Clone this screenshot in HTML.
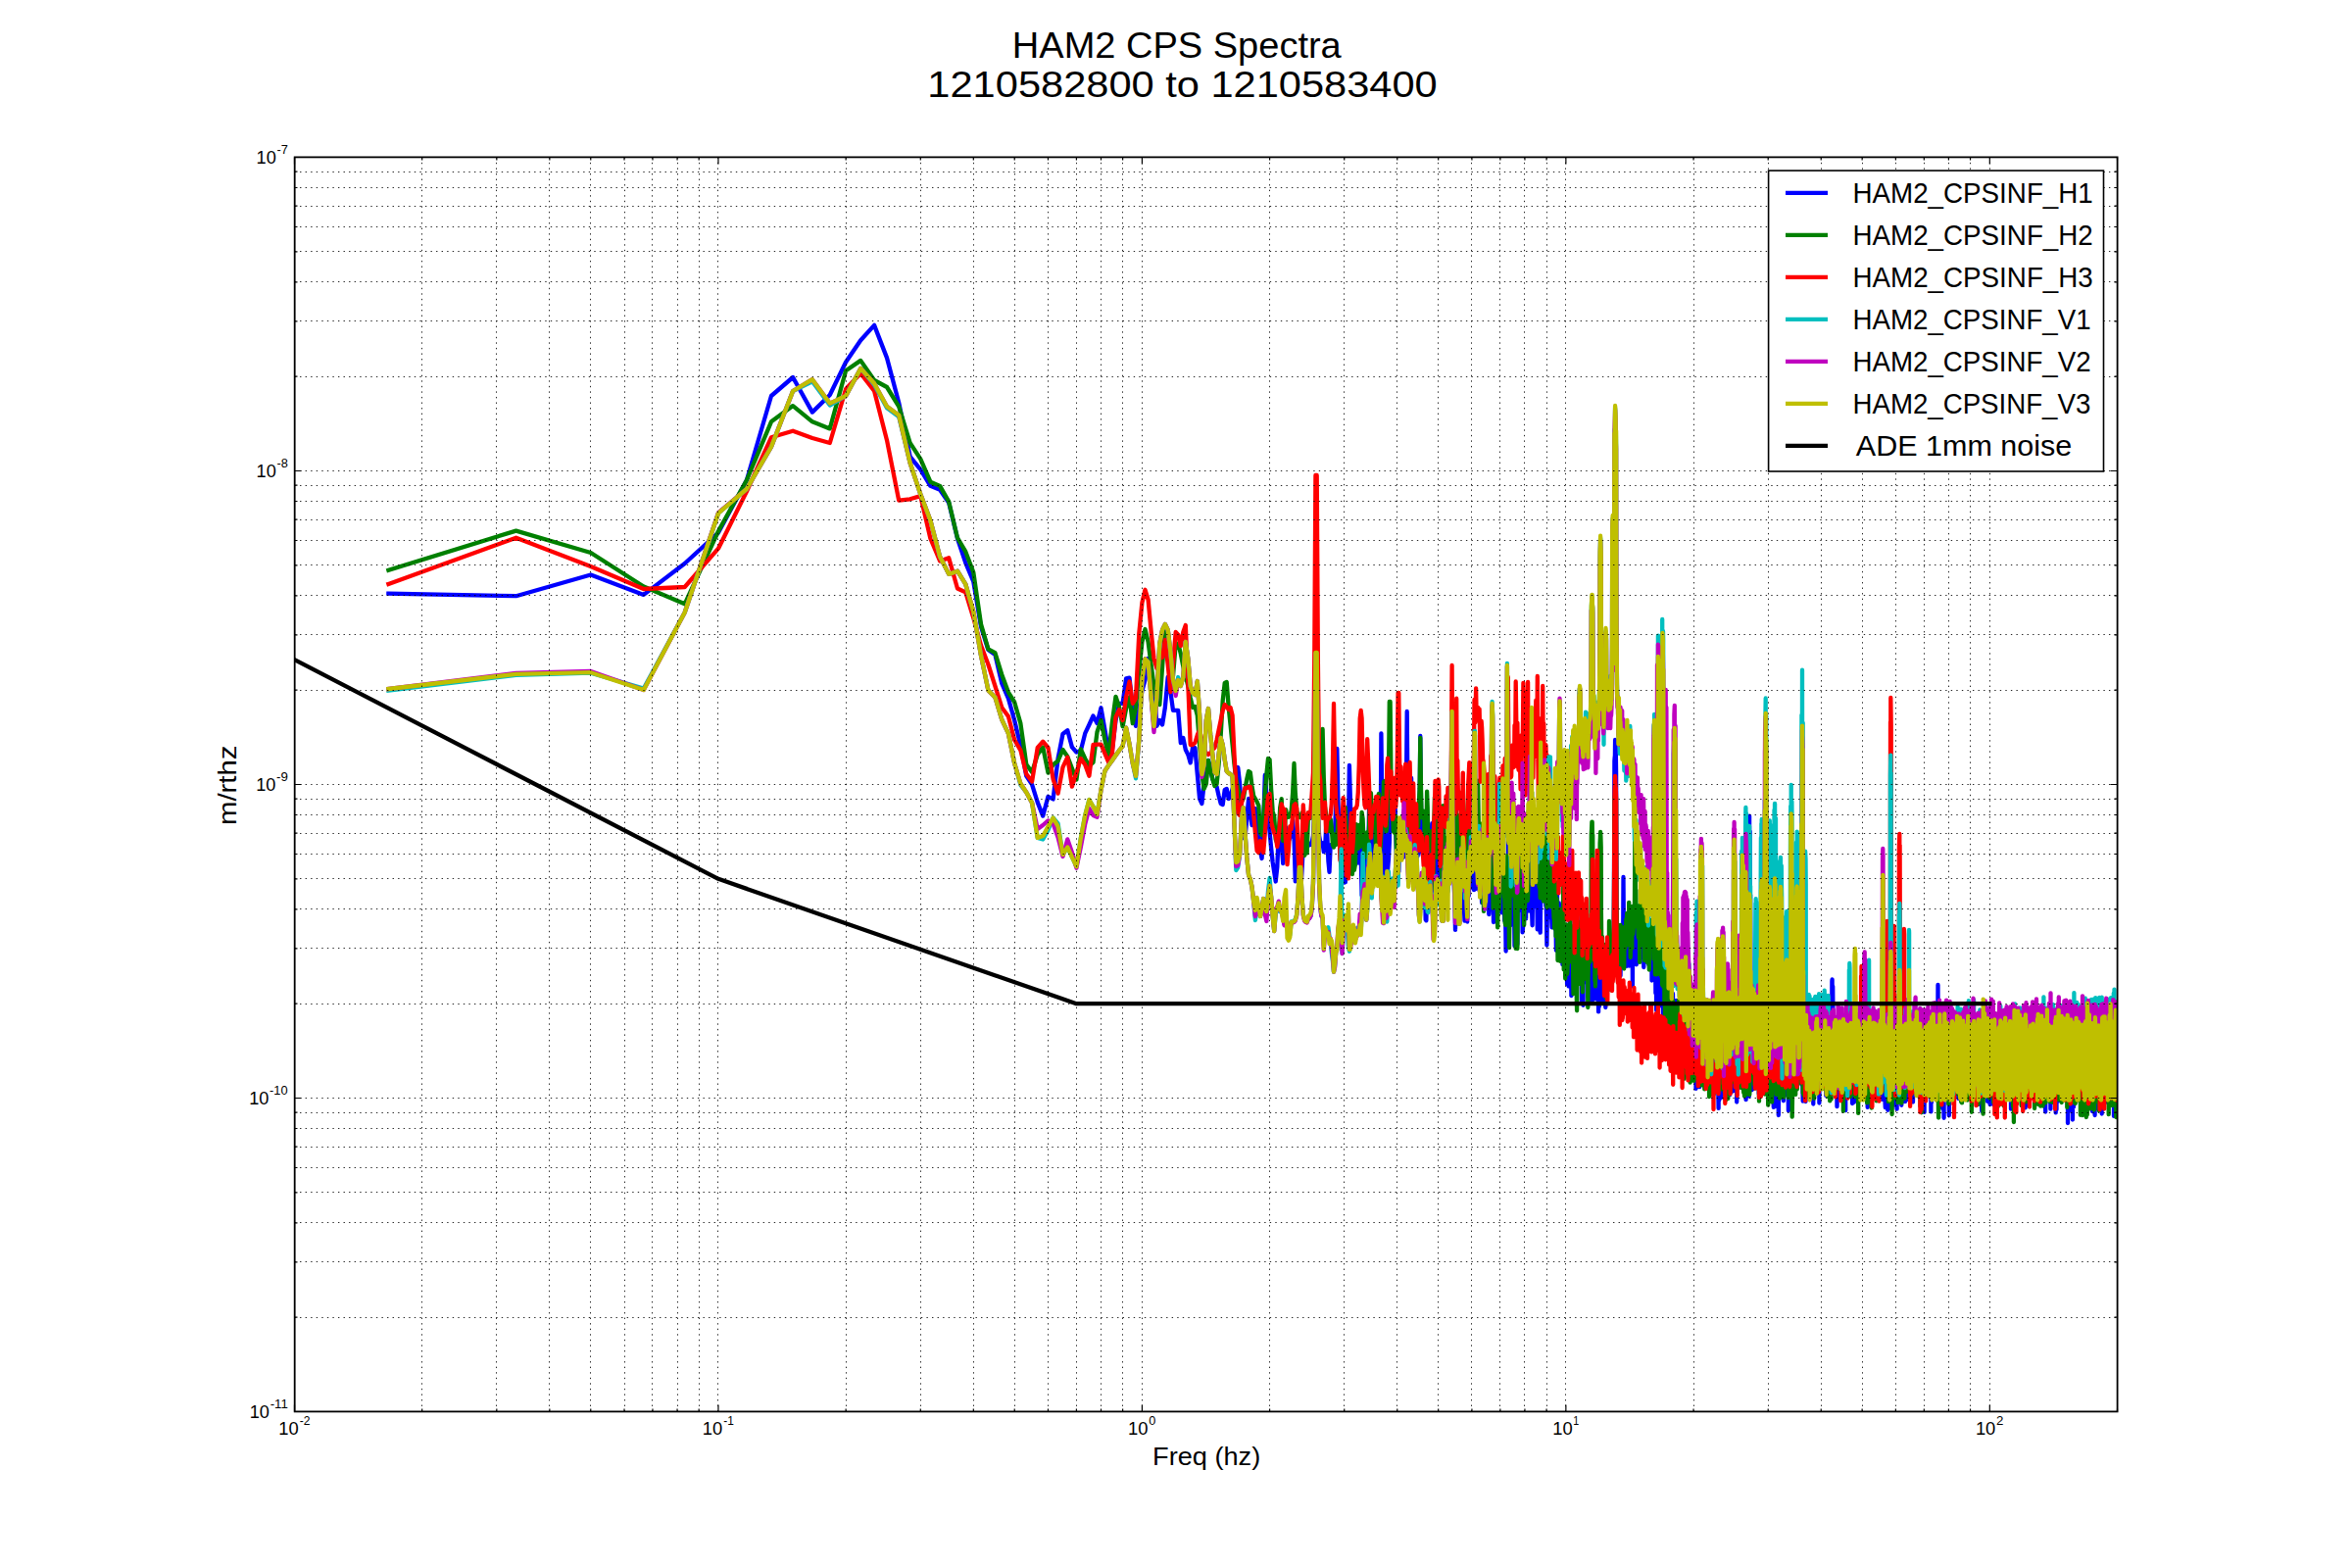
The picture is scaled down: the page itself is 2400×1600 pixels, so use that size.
<!DOCTYPE html>
<html><head><meta charset="utf-8"><title>HAM2 CPS Spectra</title>
<style>html,body{margin:0;padding:0;background:#fff}svg{display:block}text{font-family:"Liberation Sans",sans-serif;fill:#000}</style></head>
<body>
<svg width="2400" height="1600" viewBox="0 0 2400 1600">
<rect width="2400" height="1600" fill="#fff"/>
<defs><clipPath id="ax"><rect x="300.5" y="160.5" width="1860" height="1280"/></clipPath></defs>
<g clip-path="url(#ax)" fill="none" stroke-width="4.3" stroke-linejoin="round" stroke-linecap="square">
<path stroke="#0000ff" d="M396.4 605.6L526.6 608.2L602.8 586.5L656.8 606.9L698.7 575L733 543.6L761.9 490L787 404L809.1 385L828.9 420.6L846.8 403L863.1 369.5L878.2 347.2L892.1 331.9L905 365.1L917.2 411L928.6 465.8L939.3 479.2L949.4 495.8L959.1 499.7L968.2 513L977 549.5L985.3 574.4L993.3 593.5L1001 639.4L1008.4 663L1015.4 668L1022.3 697.4L1028.9 712.7L1035.2 735L1041.4 761L1047.3 791.8L1053.1 800.7L1058.7 818.6L1064.2 832.6L1069.5 812.8L1074.6 815.4L1079.6 774L1084.5 749L1089.3 745.2L1093.9 762.4L1098.4 767.5L1102.8 766L1107.2 748.4L1111.4 739.5L1115.5 730.5L1119.5 738L1123.5 722.3L1127.4 744.6L1131.2 767.5L1134.9 765L1138.5 735L1142.1 717.8L1145.6 717.8L1149.1 692.3L1152.5 691.6L1155.8 722L1159 740.8L1162.3 725L1165.4 705L1168.5 693.6L1171.6 672L1174.6 690L1177.5 697.4L1180.4 740.8L1183.3 735L1186.1 739.5L1188.9 721.6L1191.7 691L1194.4 706L1197 724.8L1199.7 724.8L1202.2 724.8L1204.8 758L1207.3 752.9L1209.8 765L1212.3 770L1214.7 778.4L1217.1 762.4L1219.4 763L1221.8 790L1224.1 815L1226.4 820L1228.6 800L1230.8 780L1233 776L1235.2 785L1237.3 795L1239.5 800L1241.6 803L1243.6 812L1245.7 820L1247.7 821L1249.7 806L1251.7 805L1253.7 815L1255.6 812L1257.6 805L1259.5 798L1261.3 790L1263.2 783L1265.1 800L1266.9 830L1268.7 855L1270.5 855L1272.3 835L1274.1 815L1275.8 830L1277.5 842L1279.2 835L1280.9 825L1282.6 840L1284.3 855L1286 868L1287.6 876L1289.2 840L1290.8 791L1292.4 810L1294 835L1295.6 849L1297.1 865L1298.7 880L1300.2 890L1301.7 899.5L1303.3 884.8L1304.8 847.6L1306.2 843.1L1307.7 861.5L1309.2 881L1310.6 854.9L1312.1 844.3L1313.5 854.6L1314.9 858.3L1316.3 854.7L1317.7 853.1L1319.1 836.8L1320.5 853.9L1321.8 899.4L1323.2 889.4L1324.5 889.7L1325.9 874.8L1327.2 910.7L1328.5 888.8L1329.8 862.2L1331.1 834.4L1332.4 839.9L1333.7 856.6L1335 862.6L1336.2 862.4L1337.5 861.8L1338.7 859.7L1340 852.8L1341.2 830L1342.4 790L1343.7 790L1344.9 830L1346.1 852.8L1347.3 859.7L1348.4 861.8L1349.6 860.4L1350.8 869.2L1352 867.7L1353.1 845.3L1354.3 850.9L1355.4 878.5L1356.5 889.9L1357.7 862.2L1358.8 861.9L1359.9 861.1L1361 858.3L1362.1 849L1363.2 818.1L1364.3 764L1365.4 818.1L1366.5 849L1367.5 858.3L1368.6 855.8L1369.6 861.9L1370.7 884.4L1371.7 900.6L1372.8 900.3L1373.8 879.1L1374.8 847.4L1375.9 850.8L1376.9 781L1377.9 816.6L1378.9 858.6L1379.9 885.8L1380.9 863.1L1381.9 873.2L1382.9 859L1383.9 842.9L1384.8 854.1L1385.8 880.5L1386.8 876.7L1387.7 860.8L1388.7 870.5L1389.6 913.8L1390.6 904.6L1391.5 890.4L1392.5 867.5L1393.4 853.8L1394.3 890.7L1395.2 914.7L1396.2 880.3L1397.1 821.3L1398 837.4L1398.9 893L1399.8 913.6L1400.7 878.3L1401.6 848.1L1402.5 822.1L1403.4 844.1L1404.2 859L1405.1 846.2L1406 846.9L1406.9 865.8L1407.7 884.4L1408.6 882.4L1409.4 748.3L1410.3 823.7L1411.1 909.4L1412 909.1L1412.8 851.8L1413.7 826L1414.5 867.2L1415.3 880.5L1416.1 887.3L1417 875.7L1417.8 859.7L1418.6 801.8L1419.4 793.6L1420.2 835.4L1421 806.6L1421.8 820.4L1422.6 817.4L1423.4 813.9L1424.2 843.9L1425 872.4L1425.8 881.1L1426.6 884.4L1427.3 889.4L1428.1 853.9L1428.9 875.3L1429.6 873.6L1430.4 859.8L1431.2 875.3L1431.9 874.9L1432.7 873.6L1433.4 869.4L1434.2 855.3L1434.9 808.2L1435.7 726L1436.4 808.2L1437.2 824.4L1437.9 803.4L1438.6 821.9L1439.4 823L1440.1 793.8L1440.8 830.8L1441.5 881.9L1442.2 829.4L1443 851.5L1443.7 832.2L1444.4 858L1445.1 875L1445.8 874.6L1446.5 873.6L1447.2 870.1L1447.9 858.3L1448.6 819.3L1449.3 751L1450 819.3L1450.7 858.3L1451.3 870.1L1452 873.6L1452.7 862.5L1453.4 896.1L1454.1 910.9L1454.7 938.5L1455.4 939.3L1456.1 896.5L1456.7 890.8L1457.4 892.1L1458 874.7L1458.7 871.3L1459.4 852.2L1460 851.4L1460.7 852.2L1461.3 840.1L1462 846.7L1462.6 879.2L1463.2 916.1L1463.9 910.7L1464.5 887.3L1465.2 885.6L1465.8 861.6L1466.4 846.7L1467.1 875.6L1467.7 888.6L1468.3 890.1L1468.9 908.7L1469.6 893.8L1470.2 899.5L1470.8 916.9L1471.4 887L1472 863.1L1472.6 851.9L1473.2 893.2L1473.8 889.7L1474.4 895.1L1475 920.2L1475.6 927L1476.2 927.5L1476.8 917.3L1477.4 895.3L1478 880.3L1478.6 883.7L1479.2 877.5L1479.8 857.6L1480.4 879.3L1481 866.4L1481.6 837.6L1482.1 843.1L1482.7 839.7L1483.3 891.4L1483.9 907.7L1484.4 917.1L1485 948.9L1485.6 914.4L1486.2 870.1L1486.7 866L1487.3 863L1487.8 879.7L1488.4 890.2L1489 905.4L1489.5 919.2L1490.1 890.6L1490.6 918.2L1491.2 926.3L1491.7 890.3L1492.3 877.6L1492.8 863.9L1493.4 881.7L1493.9 925.5L1494.5 939.7L1495 920.8L1495.6 908.5L1496.1 883.3L1496.6 888.7L1497.2 940.6L1497.7 908.4L1498.2 900.8L1498.8 913.8L1499.3 899.6L1499.8 884L1500.4 905.9L1500.9 893.3L1501.4 879.5L1501.9 854.1L1502.4 850L1503 885L1503.5 891L1504 908.2L1504.5 879L1505 885.6L1505.5 907.3L1506.1 903.3L1506.6 887L1507.1 853.7L1507.6 837.8L1508.1 869.2L1508.6 887.1L1509.1 904.9L1509.6 908.6L1510.1 894.4L1510.6 884.2L1511.1 885.3L1511.6 907.1L1512.1 921.2L1512.6 906L1513.1 874.8L1513.6 851.5L1514 898.5L1514.5 876.7L1515 872.6L1515.5 904.6L1516 900.8L1516.5 877.8L1517 888.2L1517.4 880.6L1517.9 878.1L1518.4 881.2L1518.9 905.2L1519.3 933L1519.8 924.7L1520.3 925.4L1520.8 927L1521.2 903.7L1521.7 901L1522.2 882.7L1522.6 901L1523.1 910.8L1523.6 911.2L1524 941L1524.5 940.6L1525 888.9L1525.4 898.5L1525.9 917.5L1526.3 918.4L1526.8 925.5L1527.3 917.6L1527.7 897.2L1528.2 878.9L1528.6 874.6L1529.1 859.9L1529.5 864.3L1530 892L1530.4 905.8L1530.9 929.9L1531.3 925.1L1531.8 915.3L1532.2 931.3L1532.7 876.9L1533.1 898.7L1533.5 914.9L1534 910.9L1534.4 928.6L1534.9 919.7L1535.3 939.5L1535.7 915.4L1536.2 935.6L1536.6 970.6L1537 962.5L1537.5 927L1537.9 921.9L1538.3 924.3L1538.8 886.6L1539.2 832.2L1539.6 878.9L1540 923.8L1540.5 887.6L1540.9 934L1541.3 944.2L1541.7 937.5L1542.2 903.7L1542.6 891.8L1543 915L1543.4 918.7L1543.8 909.2L1544.3 910.1L1544.7 922L1545.1 929L1545.5 965.3L1545.9 965L1546.3 957.7L1546.7 934.7L1547.1 927.2L1547.6 911.5L1548 961.1L1548.4 963.5L1548.8 907.4L1549.2 917.5L1549.6 903.9L1550 879.7L1550.4 856.3L1550.8 894.1L1551.2 906.1L1551.6 918L1552 929.3L1552.4 927.3L1552.8 882.1L1553.2 912.9L1553.6 951.4L1554 946.9L1554.4 925.9L1554.8 894.8L1555.2 908.1L1555.6 934.8L1556 933.2L1556.3 875.5L1556.7 911.8L1557.1 937.4L1557.5 869.9L1557.9 871.2L1558.3 912.9L1558.7 909.6L1559.1 916.2L1559.4 916.3L1559.8 920.5L1560.2 929.5L1560.6 920.5L1561 904.6L1561.4 893.3L1561.7 884.4L1562.1 856.1L1562.5 867.1L1562.9 879.3L1563.2 932.1L1563.6 944.3L1564 914.5L1564.4 926.3L1564.7 917.2L1565.1 897.1L1565.5 909.9L1565.9 893.2L1566.2 867.2L1566.6 897.8L1567 887.4L1567.3 886L1567.7 891.1L1568.1 894.8L1568.4 919.8L1568.8 948.4L1569.2 843.1L1569.5 928.9L1569.9 931.5L1570.3 933.7L1570.6 894.3L1571 924.6L1571.3 947.6L1571.7 951.7L1572.1 919.8L1572.4 919.5L1572.8 916.6L1573.1 914.3L1573.5 883.9L1573.9 854L1574.2 780L1574.6 857L1574.9 901.1L1575.3 894.2L1575.6 883.8L1576 852.6L1576.3 918.8L1576.7 912.2L1577 883.8L1577.4 924.7L1577.7 918L1578.1 940.9L1578.4 964.5L1578.8 933.1L1579.1 917L1579.5 886.1L1579.8 923.3L1580.2 901.1L1580.5 922.6L1580.8 860.8L1581.2 912.9L1581.5 910L1581.9 914.5L1582.2 919.6L1582.5 920.2L1582.9 937L1583.2 937.2L1583.6 946.3L1583.9 896.8L1584.2 926.4L1584.6 903L1584.9 934.2L1585.2 932.6L1585.6 919L1585.9 896.1L1586.2 937L1586.6 906.4L1586.9 915.1L1587.2 949L1587.6 942.9L1587.9 969.8L1588.2 942.7L1588.6 919.2L1588.9 906.4L1589.2 943L1589.5 922.3L1589.9 962.6L1590.2 942.2L1590.5 954.1L1590.8 921.5L1591.2 936.9L1591.5 957.4L1591.8 942L1592.1 931.6L1592.5 953.9L1592.8 953.1L1593.1 959.1L1593.4 936.4L1593.7 945.1L1594.1 953.7L1594.4 984.2L1594.7 943.8L1595 943.3L1595.3 966.5L1595.7 956.5L1596 973.4L1596.3 963.8L1596.6 987.9L1596.9 988.8L1597.2 962.7L1597.6 962.2L1597.9 963.6L1598.2 952L1598.5 943.7L1598.8 963.3L1599.1 1004.5L1599.4 944.4L1599.7 958.8L1600 969.4L1600.4 1005.6L1600.7 1006.4L1601 979.4L1601.3 1005.9L1601.6 953.7L1601.9 978L1602.2 953.8L1602.5 949L1602.8 973L1603.1 988.6L1603.4 1016L1603.7 979.2L1604 966.4L1604.3 977.3L1604.6 963.9L1604.9 988.6L1605.2 994.8L1605.5 957.6L1605.8 990.5L1606.1 1008.6L1606.4 983.5L1606.7 929.1L1607 967.3L1607.3 954.3L1607.6 978.5L1607.9 979.7L1608.2 995.4L1608.5 976.1L1608.8 1002.6L1609.1 981L1609.4 930.3L1609.7 942.3L1610 965.4L1610.3 1000.4L1610.6 968.3L1610.9 991.6L1611.2 993.2L1611.4 954.6L1611.7 954.5L1612 972.1L1612.3 986.2L1612.6 980.9L1612.9 962.9L1613.2 954.3L1613.5 974.5L1613.8 983.1L1614 1021.5L1614.3 1015L1614.6 998.5L1614.9 987.2L1615.2 999.5L1615.5 1025.8L1615.8 976.8L1616 995L1616.3 973.9L1616.6 990.6L1616.9 996.3L1617.2 982.5L1617.5 976.8L1617.7 995.1L1618 1002.2L1618.3 984L1618.6 992.5L1618.9 980.5L1619.1 987.8L1619.4 988L1619.7 986.2L1620 979.8L1620.3 1017L1620.5 995.7L1620.8 993.3L1621.1 1015.7L1621.4 1000.7L1621.6 998.4L1621.9 991.9L1622.2 993.9L1622.5 994.7L1622.7 1018.2L1623 1022.2L1623.3 1018.9L1623.6 1015L1623.8 966.1L1624.1 990.5L1624.4 972.8L1624.7 1010L1624.9 1007.6L1625.2 971L1625.5 1010.7L1625.7 1020L1626 989L1626.3 986.1L1626.5 988L1626.8 972.2L1627.1 980.9L1627.4 1017.9L1627.6 1008.3L1627.9 1008.9L1628.2 993.2L1628.4 964.8L1628.7 1019.4L1628.9 986.5L1629.2 987.1L1629.5 977.4L1629.7 978L1630 983.2L1630.3 1002.8L1630.5 987.5L1630.8 991.8L1631.1 1032.4L1631.3 994.4L1631.6 996.6L1631.8 1027.3L1632.1 979.7L1632.4 998.5L1632.6 987.5L1632.9 1007.1L1633.1 984.4L1633.4 967.1L1633.7 975.1L1633.9 991L1634.2 974L1634.4 966.3L1634.7 998.9L1635 983.6L1635.2 1012L1635.5 1008.6L1635.7 1022.7L1636 1004.4L1636.2 1000.3L1636.5 988.5L1636.7 990.8L1637 969.6L1637.3 989.3L1637.5 1016.4L1637.8 1001.6L1638 993.3L1638.3 1028.1L1638.5 1009.4L1638.8 1002.9L1639 985.1L1639.3 992.2L1639.5 973.6L1639.8 987.9L1640 994.5L1640.3 989L1640.5 994L1640.8 966.2L1641 1002.2L1641.3 979L1641.5 990.2L1641.8 962.9L1642 989.5L1642.3 994.7L1642.5 981.8L1642.8 983.1L1643 986L1643.2 1000.8L1643.7 978.6L1644 983.6L1644.2 1000.8L1644.5 985.3L1644.7 979.5L1645 966.9L1645.2 981.1L1645.4 975.7L1645.7 969.5L1645.9 976.4L1646.2 971.7L1646.4 963.1L1646.7 947.5L1646.9 919.1L1647.1 867.4L1647.4 776.4L1647.6 773.8L1647.9 771.1L1648.1 755L1648.6 758.5L1648.8 767.6L1649.1 788.8L1649.3 867.4L1649.5 919.1L1649.8 947.5L1650 963.1L1650.5 976.4L1650.7 978.9L1651 980.3L1651.2 972L1651.4 966.8L1651.7 973L1651.9 965.8L1652.1 959.2L1652.4 985.1L1652.6 957.6L1652.8 970.2L1653.1 971.2L1653.3 971.7L1653.5 995.8L1653.8 982.3L1654.2 970.5L1654.5 973.3L1654.7 969.1L1654.9 965.5L1655.2 969.4L1655.4 969.2L1655.6 968.6L1655.8 961.4L1656.1 959.4L1656.3 936L1656.5 895L1657 959.4L1657.2 966.5L1657.4 968.6L1657.7 969.2L1657.9 966.2L1658.1 974L1658.4 985.8L1658.6 975.5L1658.8 960.9L1659.3 976.7L1659.5 957.9L1659.7 968.7L1659.9 985.9L1660.2 975.1L1660.4 969.9L1660.6 968.4L1660.8 963.1L1661.1 938.1L1661.3 979.8L1661.5 942.3L1661.7 973.3L1662.2 964.5L1662.4 975.1L1662.6 985.5L1662.8 960L1663.1 970.3L1663.3 957L1663.5 939.9L1663.9 958.9L1664.2 957L1664.4 964.6L1664.6 958.5L1664.8 950.7L1665 981.5L1665.3 964.2L1665.7 967.6L1665.9 1006.4L1666.1 952.2L1666.3 978.9L1666.8 965.4L1667 948.1L1667.2 962.9L1667.4 969.7L1667.6 981.8L1667.9 977.8L1668.1 944L1668.3 965.8L1668.7 977.6L1668.9 948.8L1669.2 954.1L1669.4 957.4L1669.6 972.5L1669.8 984.3L1670 950.4L1670.4 970.5L1670.6 952.2L1670.9 941.8L1671.1 948.3L1671.3 963.3L1671.7 950.7L1671.9 964.3L1672.1 960L1672.3 956.2L1672.5 944.3L1672.8 964.4L1673.2 973L1673.4 974.4L1673.6 953.5L1673.8 954.9L1674.2 972.7L1674.4 943.1L1674.6 951L1674.8 958.9L1675.1 951.7L1675.5 962.4L1675.7 977.6L1675.9 955.3L1676.1 956.9L1676.3 949.7L1676.5 974.2L1676.7 951.7L1677.1 957.6L1677.3 987.1L1677.5 959.8L1677.9 972.8L1678.1 965.8L1678.3 959.6L1678.6 958.9L1679 935.3L1679.2 971.7L1679.4 972.5L1679.6 962.5L1679.8 947.5L1680.2 968.1L1680.4 968.4L1680.6 978.9L1681 941.4L1681.2 966.2L1681.4 982L1681.8 950.2L1682 983L1682.2 964.8L1682.4 984.6L1682.6 982.5L1682.8 958.9L1683.2 980.3L1683.4 944.1L1683.6 968.2L1683.8 959.6L1684.2 955.3L1684.4 952.6L1684.6 958.4L1685 946.7L1685.2 968.8L1685.4 969.5L1685.5 1000.5L1685.7 956.1L1686.1 958.5L1686.3 979.5L1686.7 954.3L1686.9 995.9L1687.1 968.4L1687.3 975.6L1687.5 961.9L1687.9 977.7L1688.3 967.5L1688.5 975.8L1688.7 980.7L1688.9 974.8L1689 957.7L1689.4 1013.6L1689.6 977.4L1689.8 985.8L1690.2 1030.9L1690.4 958.1L1690.8 1002.1L1691 967.8L1691.2 985.2L1691.3 1010.8L1691.7 986.8L1691.9 1015.2L1692.1 982.4L1692.5 1001.2L1692.7 982.3L1692.9 990.4L1693.1 999.9L1693.4 1026.6L1693.8 980L1694 1019.4L1694.2 996.8L1694.4 1005.5L1694.6 1017.5L1694.7 998.6L1695.1 1001.4L1695.3 1017.2L1695.7 993.6L1695.9 995.7L1696.2 1006.2L1696.4 1022.7L1696.6 997.2L1697 1040.4L1697.2 1019L1697.3 1019L1697.5 1004.8L1697.9 995.1L1698.3 990.4L1698.4 1018.6L1698.6 995.7L1698.8 1039.4L1699.2 1038.4L1699.4 1001.4L1699.5 991.6L1699.7 1047.1L1700.1 1004.6L1700.4 1037.7L1700.8 1037.8L1701 1018.7L1701.2 1012.2L1701.3 1018.9L1701.5 997.4L1701.9 1029.6L1702.2 1044.9L1702.4 995.4L1702.8 1035.2L1703 1010.6L1703.1 1021.7L1703.3 1037.1L1703.7 1008.9L1703.9 1049.6L1704.2 1019L1704.4 1037.7L1704.6 1050L1704.7 1043.3L1705.1 1045.3L1705.5 1020.3L1705.6 998.7L1705.8 1047L1706.2 1037L1706.3 1039.6L1706.5 1039.5L1706.7 1026.6L1707 1014L1707.2 1031.2L1707.7 1047.9L1707.9 1066.2L1708.1 1064L1708.3 1030.3L1708.6 1043L1708.8 1034.7L1709.3 1031.6L1709.5 1051.5L1709.6 1059.3L1709.8 1038.9L1710.2 1040.7L1710.3 1039L1710.7 1035.8L1710.8 1020.8L1711 1029.4L1711.2 1051.3L1711.5 1047.8L1711.9 1040.2L1712.2 1069.3L1712.4 1039.4L1712.7 1064.8L1712.9 1041.5L1713.1 1049L1713.4 1055.3L1713.7 1056.6L1713.9 1045.3L1714.1 1090.5L1714.2 1061.5L1714.6 1061.1L1714.9 1041.7L1715.3 1056.6L1715.4 1071.8L1715.8 1067L1715.9 1053.2L1716.1 1039.3L1716.4 1054.2L1716.8 1080.7L1716.9 1049.7L1717.1 1053L1717.3 1067L1717.8 1057.6L1717.9 1074.3L1718.1 1047.2L1718.2 1070L1718.6 1043.6L1718.7 1098.8L1719.1 1059.4L1719.2 1084.3L1719.6 1065L1719.7 1068.2L1720.2 1057.9L1720.4 1044.1L1720.5 1061.9L1720.9 1081.4L1721.2 1055.7L1721.4 1063.6L1721.5 1089L1721.8 1054.7L1722.2 1040.9L1722.5 1068.9L1722.8 1063.8L1723 1057.7L1723.1 1081.3L1723.3 1062.9L1723.8 1081.4L1723.9 1063L1724.1 1091.5L1724.3 1057.2L1724.7 1052.1L1724.9 1069L1725 1082.3L1725.2 1049.7L1725.5 1055.6L1726 1091.7L1726.3 1056.2L1726.5 1079.5L1726.8 1096.8L1726.9 1064.2L1727.1 1058.6L1727.4 1096.2L1727.6 1100.1L1727.7 1072.1L1728 1099.7L1728.2 1077.1L1728.8 1063.3L1729 1088L1729.1 1078.5L1729.4 1064.5L1729.6 1058.9L1729.9 1073.5L1730.1 1053.2L1730.4 1074.4L1730.5 1110.9L1731 1080.6L1731.1 1053.8L1731.5 1076.7L1731.6 1064.4L1731.9 1095.9L1732.1 1056.1L1732.4 1089.7L1732.5 1086.7L1732.8 1056.8L1733.1 1082.2L1733.4 1069.1L1733.6 1104.3L1733.9 1051.2L1734.2 1109.2L1734.4 1078.6L1734.8 1103.5L1735 1058.2L1735.3 1059.8L1735.4 1097.8L1735.6 1062.8L1735.9 1065.5L1736.2 1076.5L1736.5 1083.9L1736.8 1066.8L1736.9 1064.2L1737.2 1070.6L1737.4 1099.7L1737.5 1096L1737.8 1069.6L1738.1 1057.1L1738.4 1073.1L1738.7 1093.8L1738.8 1080.4L1739.1 1076L1739.4 1088L1739.6 1060.8L1739.9 1081.9L1740 1059.3L1740.2 1093.7L1740.6 1071.6L1740.9 1098.3L1741 1102.1L1741.5 1072.2L1741.6 1071.9L1741.9 1087.4L1742.2 1066.8L1742.4 1087.1L1742.6 1086.6L1742.9 1073.7L1743.1 1090.5L1743.2 1074.9L1743.7 1102.3L1743.9 1087.3L1744.1 1089.6L1744.2 1098.2L1744.7 1062.1L1744.8 1107.1L1745.2 1097.6L1745.4 1069.2L1745.7 1114.2L1745.9 1079.9L1746.2 1062.5L1746.4 1084.7L1746.5 1090.4L1746.7 1060.5L1747.1 1056.8L1747.4 1089.9L1747.5 1088.7L1747.6 1115.8L1748.2 1105.8L1748.5 1056.3L1748.6 1081.9L1748.9 1104.3L1749.2 1055L1749.3 1107.8L1749.7 1096.3L1749.9 1081L1750.2 1103.8L1750.4 1071.2L1750.6 1097.5L1750.7 1077.3L1751.3 1071.8L1751.4 1070L1751.8 1093.1L1752 1059.9L1752.1 1091.5L1752.4 1081.4L1752.5 1069.7L1752.9 1099.6L1753.1 1082.4L1753.2 1105.9L1753.6 1130.9L1753.9 1070.1L1754.2 1085.9L1754.4 1122.5L1754.7 1072.1L1754.8 1102.5L1755.1 1075.6L1755.4 1095.1L1755.5 1099L1755.8 1076.7L1756.1 1120.2L1756.5 1060.2L1756.6 1091.9L1756.9 1053.4L1757.1 1107.8L1757.4 1101.1L1757.5 1054.7L1757.8 1078.8L1758.3 1087L1758.5 1092.8L1758.7 1094.6L1759 1064.4L1759.3 1063.9L1759.4 1098.5L1759.5 1092.1L1759.9 1059.7L1760.2 1121.5L1760.5 1104L1760.6 1095.8L1761 1049.8L1761.2 1067.2L1761.4 1073.5L1761.6 1077.3L1761.8 1109.6L1762 1094.9L1762.4 1057.6L1762.5 1097.3L1762.8 1061.8L1763.2 1072.1L1763.3 1094.3L1763.6 1106.3L1764 1071.6L1764.2 1094.4L1764.5 1073.1L1764.6 1093.8L1764.9 1076.2L1765 1072L1765.1 1117.2L1765.5 1088.8L1765.9 1064.4L1766 1110.2L1766.4 1066.7L1766.5 1059.9L1766.9 1087.6L1767.1 1060.7L1767.2 1114.1L1767.6 1068.4L1767.7 1111.7L1768.2 1049.1L1768.3 1113.4L1768.6 1091.9L1768.7 1069.3L1769.3 1101L1769.5 1070.3L1769.6 1077L1769.7 1108.1L1770.3 1100.6L1770.5 1066L1770.8 1090.8L1771 1069.1L1771.2 1093.1L1771.3 1081.5L1771.8 1089.3L1771.9 1072.9L1772.2 1124.5L1772.3 1060.8L1772.7 1068.6L1772.8 1083.3L1773.3 1070L1773.4 1111L1773.6 1079.8L1773.7 1103.4L1774.3 1084.2L1774.4 1060L1774.5 1087.3L1774.8 1065.4L1775 1067.1L1775.4 1100.8L1775.6 1104.7L1775.7 1044.5L1776.1 1102.4L1776.5 1077L1776.7 1098.8L1777 1078.7L1777.3 1096.2L1777.4 1082.4L1777.6 1064L1777.7 1098.1L1778 1092.4L1778.4 1076.5L1778.6 1060.4L1778.9 1105.5L1779.1 1061.6L1779.2 1084.4L1779.8 1051.3L1780 1108L1780.1 1078L1780.4 1092.2L1780.5 1078.8L1780.9 1092.9L1781 1088.5L1781.3 1061.6L1781.6 1122.2L1782 1065.9L1782.3 1083L1782.4 1058.3L1782.7 1078.8L1782.9 1102.7L1783.1 1072.9L1783.4 1103.2L1783.7 1092.7L1783.8 1060.8L1784.3 1089.5L1784.4 854.4L1784.5 855.7L1784.8 1118.7L1785.1 832.7L1785.2 1085.2L1785.6 848.1L1785.9 1088.5L1786 1087.1L1786.1 912.9L1786.6 1032.8L1786.9 1097.9L1787.3 1062.2L1787.4 1099.6L1787.6 1112.3L1787.9 1070.3L1788.1 1097L1788.2 1066.4L1788.5 1111.2L1788.7 1077.5L1789.1 1096.2L1789.3 1052.7L1789.8 1087.5L1789.9 1098.9L1790.2 1075.4L1790.3 1099.7L1790.8 1074.1L1790.9 1078.8L1791.1 1086.1L1791.4 1062.4L1791.8 1085.4L1791.9 1096.5L1792.1 1100.8L1792.2 1074.2L1792.7 1091.6L1792.8 1069.9L1793 1109.3L1793.5 1065.6L1793.6 1095.8L1793.9 1105.1L1794 1084.2L1794.2 1059.6L1794.6 1067L1794.8 1116.3L1795.1 1096.4L1795.4 1073.2L1795.8 1094.2L1795.9 1061.1L1796.1 1094.9L1796.3 1077.5L1796.6 1089.7L1796.9 1068.5L1797.1 1091.3L1797.2 1107.3L1797.7 1062.6L1797.8 1090L1798 1102L1798.2 1047.9L1798.7 1093.7L1798.9 1066.5L1799.1 1053.8L1799.2 1089.5L1799.5 1066.6L1799.8 1097.9L1800.2 1092.9L1800.4 1054.3L1800.6 1070L1800.9 1093.6L1801.4 1101.4L1801.5 1072.3L1801.7 1059L1802 1080.8L1802.1 1110L1802.2 1081.4L1802.8 1106.3L1802.9 1064.1L1803 1048.2L1803.4 1095.5L1803.9 1115.9L1804 1084.2L1804.2 1074L1804.4 1112.3L1804.5 1054.7L1804.9 1086.4L1805 1099.8L1805.1 1065.5L1805.7 1101.3L1806 1066.2L1806.2 1060.5L1806.5 1093.5L1806.7 1096.9L1806.9 1069.4L1807.1 1111.5L1807.4 1077.3L1807.5 1115L1807.8 1074.9L1808 1078L1808.1 1100.8L1808.7 1064.9L1808.8 1115.7L1809.2 1066.4L1809.3 1107.9L1809.8 1129.9L1810 1070.2L1810.4 1109.9L1810.5 1066.9L1810.6 1073.1L1810.7 1089.6L1811.3 1046L1811.5 1113.8L1811.9 1097.1L1812 1063.1L1812.1 1050.8L1812.5 1109.3L1812.7 1075.6L1812.9 1129.2L1813.4 1104.2L1813.5 1069.1L1813.9 1097.9L1814 1053L1814.2 1119.3L1814.4 1073.3L1814.6 1072.8L1814.8 1138L1815.2 1107.2L1815.4 1066.1L1815.6 1105.3L1815.8 1074.3L1816 1111.6L1816.3 1067.2L1816.5 1101.4L1816.9 1050.5L1817.2 1102.9L1817.3 1069.5L1817.6 1092.3L1818 1049L1818.2 1075.3L1818.3 1103.3L1818.8 1044.6L1818.9 1085.6L1819.1 1095.4L1819.4 1052.5L1819.6 1038.9L1819.9 1123.3L1820.1 1069.4L1820.2 1107.5L1820.8 1117.8L1820.9 1067.1L1821.1 1077.3L1821.2 1108.2L1821.5 1094.1L1821.7 1065L1822.1 1105.6L1822.5 1070.5L1822.6 1098.9L1822.8 1058.3L1823.2 1096.9L1823.3 1060.6L1823.7 1073.9L1823.8 1108.5L1824.2 1103.5L1824.3 1066.2L1824.5 1071.9L1824.9 1133.3L1825.2 1083.4L1825.3 1057L1825.6 1065.6L1825.7 1076.4L1826.3 1106.9L1826.4 1077.4L1826.6 1069.8L1827 1099.8L1827.2 1097.9L1827.3 1075.3L1827.6 1099.6L1828 1070.9L1828.2 1112.8L1828.4 1072.1L1828.5 1105.7L1828.6 1072.9L1829.1 1101.5L1829.4 1087.6L1829.8 1055.2L1829.9 1103L1830.2 1046.1L1830.4 1089.9L1830.6 1064.6L1830.7 1108.3L1831.3 1067.2L1831.4 1100.7L1831.6 1108.6L1831.8 1065.6L1832.2 1051.8L1832.3 1097.5L1832.5 1102.3L1832.6 1066.2L1833.1 1068.5L1833.1 1106.8L1833.6 1099.9L1833.7 1065.5L1834.2 1069.6L1834.4 1094.4L1834.7 1102.9L1834.8 1063.7L1835.1 1095.9L1835.3 1050.2L1835.9 1060.1L1836 1102.8L1836.2 1095.1L1836.4 1071.8L1836.6 1096.9L1836.7 1064.6L1837.2 1102.6L1837.3 1080.4L1837.7 1074.9L1837.9 1096.5L1838.3 1075.3L1838.4 1106.8L1838.7 1057.1L1839 1086.2L1839 1054.2L1839.2 1090.1L1839.7 1123.7L1839.7 1068.6L1840.2 1072.3L1840.3 1099.9L1840.7 1110.2L1840.9 1072.5L1841.1 1121.7L1841.4 1075.9L1841.6 1118.1L1841.9 1055.6L1842.4 1076.2L1842.5 1124L1842.7 1076L1842.9 1105.6L1843.2 1054L1843.4 1096.2L1843.6 1083.4L1843.8 1062.2L1844 1093.1L1844.3 1063.8L1844.7 1057.7L1844.9 1096.9L1845.3 1103.7L1845.4 1057.8L1845.5 1061.9L1845.7 1112.3L1846 1074.5L1846.2 1100.2L1846.8 1094.4L1846.9 1065.9L1847 1099.6L1847.4 1069.9L1847.9 1072.4L1847.9 1098.7L1848.2 1066.7L1848.3 1110L1848.6 1059.4L1848.8 1106.1L1849.1 1107.5L1849.4 1067.5L1849.7 1106.3L1849.7 1064.7L1850.3 1126.6L1850.4 1083.7L1850.6 1098.1L1850.7 1070.3L1851.2 1051.5L1851.5 1085.3L1851.5 1101.1L1851.9 1067.1L1852.2 1091.6L1852.3 1049.3L1852.7 1065.1L1853 1106L1853.3 1058.8L1853.5 1110.6L1853.8 1098.5L1853.9 1064.2L1854.2 1111.7L1854.4 1068.3L1854.9 1075.3L1855 1097.1L1855.2 1058.2L1855.5 1100.3L1855.5 1063L1855.9 1089.3L1856.3 1066.5L1856.4 1125.6L1856.6 1084.6L1856.9 1056.5L1857.2 1070.5L1857.4 1095.7L1857.5 1106.9L1857.8 1071.4L1858.1 1060.6L1858.5 1083.8L1858.8 1101.5L1858.9 1068.9L1859.2 1101.1L1859.3 1063.1L1859.6 1111L1859.6 1073.7L1860.3 1070.2L1860.5 1092.3L1860.6 1097L1860.9 1068.9L1861.1 1068.6L1861.2 1107.6L1861.7 1109.3L1861.9 1062.2L1862.3 1076.1L1862.4 1103.8L1862.6 1059.5L1862.8 1089.6L1863 1076.2L1863.2 1117.9L1863.6 1105.4L1863.8 1050.3L1864.1 1082.4L1864.3 1055.6L1864.6 1098.6L1864.7 1055L1865.1 1068.6L1865.4 1111.1L1865.8 1094.8L1866 1051.2L1866.3 1114.5L1866.4 1062.7L1866.6 1053.6L1866.9 1089.2L1867.2 1068.5L1867.3 1108L1867.6 1080L1868 1099.7L1868.2 1060.6L1868.4 1106.6L1868.5 1104.3L1868.9 1039.3L1869 1098.4L1869.4 1001.3L1869.6 999.4L1869.9 1094.9L1870.1 1090.5L1870.2 1006.4L1870.6 1058.7L1870.9 1100.5L1871.1 1094.7L1871.3 1060.6L1871.7 1100L1871.9 1055.9L1872.2 1065.2L1872.3 1112.9L1872.5 1101.1L1872.7 1064.7L1873.1 1066.9L1873.4 1118.9L1873.8 1062.4L1873.9 1106.4L1874.1 1070.7L1874.5 1129.2L1874.7 1121.6L1875 1058.6L1875.3 1108.8L1875.4 1064.3L1875.9 1104.4L1876 1061.1L1876.1 1094.7L1876.5 1062.7L1876.8 1106.7L1877 1056.5L1877.3 1099.5L1877.5 1054.7L1877.6 1097.1L1877.8 1054.5L1878.3 1069.7L1878.4 1097.3L1878.6 1059.4L1879 1104L1879.2 1065.6L1879.4 1113L1879.5 1076.3L1879.8 1112.2L1880.1 1112.2L1880.5 1060.9L1880.7 1071.1L1881 1117.8L1881 1097.1L1881.1 1066.2L1881.6 1117.6L1881.9 1062.2L1882.4 1089.9L1882.5 1065.7L1882.6 1102.3L1882.9 1072.2L1883.2 1133.2L1883.4 1067.1L1883.5 1101L1883.9 1076.6L1884.1 1054.7L1884.3 1095.1L1884.7 1097.8L1884.9 1066.7L1885.2 1073L1885.2 1110.9L1885.6 1050.8L1885.8 1102.7L1886.3 1102.9L1886.4 1064.6L1886.8 1098.8L1887 1068.1L1887.3 1102.7L1887.4 1079.9L1887.5 1095.9L1887.6 1053.6L1888.2 1059.1L1888.3 1111.8L1888.6 1072.3L1888.7 1117.8L1889 1053.3L1889.4 1096.4L1889.7 1115.4L1889.8 1066.1L1890.1 1126L1890.2 1068.8L1890.8 1065.9L1891 1098.9L1891 1061.5L1891.3 1104.6L1891.6 1069.3L1891.9 1124.8L1892.3 1101.4L1892.5 1046.4L1892.7 1101.6L1892.9 1075L1893.1 1059.2L1893.3 1103.8L1893.6 1097L1893.9 1059L1894.2 1114.9L1894.4 1053.7L1894.5 1066L1894.9 1112.4L1895.3 1070.4L1895.4 1110.1L1895.8 1070.6L1896 1105.8L1896.2 1068.2L1896.5 1115.5L1896.5 1082.7L1896.6 1117.2L1897 1097.2L1897.2 1062.4L1897.7 1097L1897.9 1064.3L1898.2 1099.1L1898.3 1056.6L1898.7 1071.1L1898.8 1093L1899 1065.8L1899.3 1098L1899.7 1067.9L1899.9 1114L1900 1109.5L1900.1 1048.8L1900.5 1072.6L1900.8 1100.5L1901.1 1114.3L1901.3 1056.4L1901.8 1060.1L1901.9 1105.8L1902 1103.3L1902.2 1056.3L1902.8 1065.8L1902.9 1105L1903.1 1114.3L1903.2 1070L1903.6 1101.4L1903.9 1059.9L1904.2 1060.1L1904.3 1110.9L1904.6 1065.4L1904.9 1099.3L1905.1 1120.2L1905.2 1077.9L1905.6 1057L1905.7 1129.9L1906.1 1079.2L1906.3 1110.2L1906.5 1110L1906.6 1073.6L1907.1 1099.7L1907.3 1071.9L1907.8 1060.3L1908 1117.5L1908.1 1096.6L1908.2 1065.4L1908.5 1103.9L1908.8 1071.1L1909 1104.4L1909.3 1064.8L1909.9 1054.5L1910 1104.5L1910.3 1057.6L1910.4 1111.4L1910.5 1054.5L1910.9 1112.4L1911.3 1105L1911.4 1065.4L1911.6 1089.8L1911.9 1046.1L1912.1 1092.5L1912.2 1057.3L1912.6 1058.9L1912.8 1096.8L1913.1 1054.2L1913.3 1099.3L1913.5 1056.8L1913.9 1092.7L1914.1 1066.2L1914.3 1095.6L1914.6 1075.3L1914.8 1106L1915.1 1106.4L1915.2 1053.1L1915.5 1097.4L1915.7 1056.1L1916.1 1102.2L1916.3 1056L1916.8 1105.8L1916.8 1072.5L1917.2 1052.1L1917.4 1099.5L1917.6 1071.6L1917.9 1101.4L1918 1057.7L1918.5 1096.5L1918.7 1060.6L1918.7 1106.6L1919 1054.9L1919.4 1104.5L1919.8 1120.9L1920 1048.9L1920.1 1105.7L1920.3 1071.5L1920.7 1121.9L1920.9 1054.6L1921 1063L1921.3 1102L1921.5 1052.9L1921.9 1102.5L1922.1 1105.6L1922.3 1070.9L1922.8 1078.6L1922.8 1112L1923.3 1050.1L1923.4 1121L1923.8 1130.2L1924 1049.2L1924.1 1060.2L1924.4 1089.3L1924.6 1122.8L1924.7 1067.6L1925.1 1067.7L1925.1 1120.6L1925.7 1095.7L1925.8 1076.1L1926.3 1132.8L1926.4 1056.4L1926.8 1069.3L1926.9 1109.1L1927.2 1100.3L1927.4 1069.3L1927.5 1056.5L1927.6 1095.6L1928 1108.6L1928.2 1069.5L1928.6 1103.2L1928.9 1063.8L1929.1 1097.8L1929.2 1064.5L1929.7 1121.1L1929.9 1060.9L1930.1 1079.9L1930.3 1131.5L1930.5 1097.1L1931 1056.9L1931.1 1114.4L1931.2 1063.3L1931.5 1098.6L1931.8 1052.3L1932.1 1108.8L1932.3 1072.9L1932.7 1063.8L1932.8 1113.5L1933.2 1061.8L1933.2 1086.6L1933.5 1127.5L1933.6 1066L1934.4 1051.6L1934.5 1111L1934.5 1111.6L1934.8 1062.5L1935 1064.5L1935.1 1096.5L1935.6 1131.7L1935.7 1069L1936.3 1061.2L1936.4 1095.4L1936.8 1057.8L1937 1117L1937.3 1056.4L1937.4 1094.4L1937.8 1052.2L1938 1096L1938.2 1085.2L1938.3 1069.5L1938.9 1113.1L1939 1067L1939.1 1058.4L1939.3 1097.3L1939.8 1107.2L1939.9 1050.3L1940.3 1127.8L1940.5 1064L1940.6 1067.3L1940.8 1115.9L1941.2 1052.5L1941.5 1112.2L1941.6 1098.8L1941.7 1060.2L1942.1 1065.8L1942.4 1095.7L1942.6 1109.2L1942.9 1057.9L1943.2 1060.1L1943.5 1094.3L1943.8 1061.7L1943.9 1090.4L1944 1124.2L1944.1 1065.7L1944.8 1071L1944.8 1113.1L1945.2 1088.5L1945.3 1065.6L1945.6 1099.9L1945.9 1052.9L1946.4 1122.2L1946.5 1064.4L1946.5 1118.7L1946.9 1065.8L1947.2 1106.5L1947.3 1067.3L1947.7 1059.4L1948 1103.9L1948.2 1113.3L1948.2 1061.4L1948.9 1062.9L1949 1107L1949.3 1094L1949.5 1071.9L1949.5 1065.1L1949.6 1100.2L1950 1110.5L1950.4 1059.5L1950.7 1106.2L1950.8 1046L1951 1056.7L1951.5 1107.1L1951.6 1097.3L1951.7 1058.7L1952 1124.5L1952.3 1064.4L1952.5 1107.8L1952.6 1065.4L1953.4 1063.5L1953.5 1093.3L1953.7 1100.1L1953.8 1062.9L1954.2 1112.7L1954.4 1073.4L1954.5 1108.2L1954.6 1068.8L1955 1064.6L1955.3 1102.4L1955.6 1097.7L1955.8 1062.9L1956.2 1053.2L1956.5 1107.9L1956.6 1070.2L1956.8 1108.5L1957.1 1063.7L1957.4 1109.2L1957.7 1058L1957.8 1099.2L1958.4 1054.9L1958.5 1106.5L1958.5 1056.5L1958.6 1102.9L1959.2 1119L1959.4 1071.4L1959.8 1056.2L1960 1099.6L1960.3 1067.5L1960.4 1107.5L1960.5 1059.8L1960.7 1110.7L1961.1 1060L1961.3 1109.7L1961.8 1049.9L1961.9 1112.8L1962.1 1115.8L1962.3 1044L1962.7 1108.4L1962.8 1055.2L1963.1 1112.4L1963.5 1059.7L1963.6 1134.9L1963.8 1069.1L1964 1064.4L1964.1 1116.3L1964.6 1055.8L1964.7 1104.1L1965 1064L1965.2 1110.8L1965.5 1051.8L1965.8 1102.6L1966.1 1107.3L1966.3 1063L1966.6 1110.7L1966.8 1057.7L1967 1057.7L1967.1 1098.1L1967.9 1047L1967.9 1096L1968.2 1111.5L1968.4 1064.3L1968.5 1061.8L1968.7 1099.1L1969.3 1101.7L1969.4 1055.3L1969.6 1111.9L1969.7 1059.4L1970.3 1056.8L1970.4 1134.4L1970.7 1059.5L1970.9 1116L1971 1125L1971.1 1066.4L1971.5 1119.5L1971.7 1055.5L1972.3 1095.6L1972.4 1067.7L1972.6 1049L1972.8 1107.2L1973 1062.5L1973.3 1115L1973.5 1106.9L1973.9 1061.3L1974 1059.6L1974.4 1098.9L1974.6 1058.9L1974.7 1112.3L1975.4 1108L1975.5 1065.5L1975.7 1106.5L1975.8 1050.1L1976.1 1061.3L1976.1 1106.6L1976.7 1114.8L1977 1064.1L1977.2 1097.4L1977.5 1006.7L1977.5 1005L1977.7 1100.2L1978.1 1064.1L1978.4 1109.9L1978.7 1104.8L1978.8 1050.5L1979.4 1102L1979.4 1045.9L1979.7 1113.7L1979.9 1052.5L1980.3 1058.5L1980.4 1118L1980.5 1104.9L1980.8 1065.4L1981.1 1056.7L1981.2 1107.4L1981.8 1057.3L1981.9 1108.4L1982.1 1131L1982.4 1062.4L1982.6 1062.6L1982.6 1107.6L1983.1 1049.9L1983.3 1120L1983.6 1140.8L1983.6 1049.8L1984.3 1112.3L1984.4 1069.9L1984.7 1064.8L1985 1112.1L1985.1 1063.5L1985.1 1109.4L1985.7 1066.5L1986 1107.7L1986.2 1102.5L1986.2 1061.7L1986.5 1118.8L1986.8 1060.3L1987.1 1076L1987.2 1116.7L1987.5 1121.3L1987.7 1041.4L1988.1 1104.6L1988.3 1062.6L1988.8 1138.3L1988.8 1052.2L1989.2 1105.8L1989.3 1048.9L1989.6 1065.5L1989.7 1107L1990.4 1114.6L1990.5 1055.9L1990.6 1051.1L1990.7 1108.5L1991.3 1058.1L1991.4 1099.7L1991.8 1058.2L1991.9 1096.4L1992.1 1063.6L1992.2 1098.3L1992.5 1058.1L1992.9 1101.7L1993.2 1103.9L1993.5 1054.4L1993.6 1067.6L1993.7 1112.5L1994.1 1045.5L1994.2 1104.5L1994.6 1102.1L1994.9 1060.8L1995.1 1064.3L1995.4 1110.9L1995.7 1067.3L1995.7 1092.7L1996.3 1106.7L1996.4 1064.2L1996.7 1111.7L1996.9 1050.5L1997.1 1117.5L1997.3 1047.4L1997.6 1102.5L1997.8 1067.7L1998.1 1058.1L1998.4 1121L1998.6 1050.7L1998.9 1108.5L1999.4 1058.4L1999.5 1118.8L1999.9 1102.4L1999.9 1062.7L2000.1 1066.8L2000.4 1115.3L2000.7 1058.7L2000.8 1095.6L2001 1064.4L2001.4 1110.4L2001.6 1112.9L2001.9 1053.5L2002.1 1062L2002.4 1099.5L2002.7 1118.8L2003 1059.9L2003.2 1069.5L2003.2 1103L2003.6 1062.7L2003.8 1096.1L2004.2 1070.2L2004.3 1112.7L2004.7 1097.9L2004.9 1066.1L2005.3 1067.4L2005.4 1115.8L2005.7 1121.4L2005.8 1065.8L2006.1 1113.6L2006.4 1067.4L2006.6 1062.5L2006.9 1097.9L2007.2 1060.7L2007.5 1103.2L2007.7 1100.5L2007.8 1049.3L2008.3 1100.7L2008.4 1048.2L2008.5 1098L2008.9 1065.6L2009.2 1045.1L2009.2 1110.3L2009.6 1066L2009.7 1107.9L2010.3 1050.8L2010.5 1102.1L2010.6 1101.4L2010.7 1042.7L2011.2 1119.1L2011.4 1062.1L2011.7 1099.3L2011.7 1055.2L2012.2 1053.6L2012.3 1101.8L2012.6 1068.5L2013 1098.1L2013.2 1058L2013.3 1100.5L2013.8 1116.7L2013.9 1053.8L2014.1 1111.8L2014.5 1052.3L2014.8 1111.6L2014.9 1054.1L2015.3 1115.9L2015.4 1065.3L2015.9 1114.6L2015.9 1055.3L2016.3 1118L2016.3 1054.8L2016.7 1096.6L2016.8 1060.7L2017 1051.7L2017.4 1118.5L2017.8 1097.2L2018 1056.5L2018.2 1051.3L2018.4 1115.4L2018.8 1101L2018.9 1057.9L2019.1 1122.2L2019.2 1058.4L2019.7 1057.2L2019.9 1126.6L2020.4 1106.2L2020.4 1066.4L2020.7 1066.5L2020.8 1104.6L2021.2 1055L2021.4 1111.2L2021.5 1076.5L2021.6 1111.5L2022.3 1134L2022.4 1058.2L2022.6 1120.7L2022.7 1040L2023.2 1116.6L2023.3 1063L2023.7 1103.5L2023.9 1050.8L2024.2 1066.3L2024.3 1116.7L2024.7 1060.1L2024.8 1092.9L2025 1066L2025.5 1095.9L2025.5 1046.5L2025.6 1096L2026.1 1047.8L2026.2 1106.5L2026.9 1048.7L2026.9 1097.6L2027.1 1067.2L2027.4 1111.1L2027.8 1040.2L2027.9 1123.8L2028.3 1119.4L2028.4 1039.8L2028.6 1067.5L2028.7 1113.7L2029.3 1045.7L2029.4 1121.8L2029.8 1064.8L2029.8 1119.3L2030 1105.7L2030.1 1051.5L2030.6 1060.1L2030.6 1127L2031.1 1060.4L2031.3 1112.4L2031.6 1060.5L2031.9 1109.8L2032 1117.6L2032.4 1063.4L2032.7 1115.2L2032.8 1051.3L2033.1 1108.8L2033.5 1048.3L2033.8 1116.2L2033.9 1048.7L2034.3 1060.9L2034.4 1127.3L2034.5 1115.7L2034.9 1053.4L2035.2 1065.9L2035.5 1100.2L2035.7 1050.7L2035.8 1107.1L2036.3 1094.1L2036.5 1063.5L2036.8 1052.2L2036.8 1091.7L2037.1 1118.7L2037.1 1056.3L2037.5 1062.5L2037.9 1108.4L2038 1052.7L2038.1 1108.8L2038.6 1060.4L2038.9 1107.4L2039.1 1058.5L2039.3 1116.6L2039.5 1123.9L2039.9 1062.4L2040.2 1058.3L2040.3 1102.4L2040.7 1056.9L2040.8 1115.4L2041 1056.4L2041.1 1120.6L2041.7 1111.2L2041.9 1051.4L2042.1 1107.8L2042.4 1061L2042.9 1059.4L2043 1109.2L2043.1 1048.6L2043.2 1097.1L2043.6 1054.5L2044 1123.4L2044 1096.7L2044.4 1065.8L2044.9 1110.1L2044.9 1064L2045 1115.7L2045.1 1062.5L2046 1117.2L2046 1045.3L2046.1 1117.6L2046.5 1055.7L2046.5 1058.5L2046.6 1115.8L2047.1 1118.8L2047.3 1064.2L2047.6 1106.1L2047.9 1064.6L2048.4 1062.7L2048.4 1104.8L2048.8 1059.5L2048.9 1110.2L2049.3 1044.9L2049.4 1096.8L2049.7 1054.3L2049.8 1114.7L2050.1 1111.5L2050.2 1051.9L2050.6 1070.8L2050.8 1113.2L2051.1 1104.4L2051.2 1055.4L2051.5 1106.6L2051.8 1036.1L2052 1131.7L2052.4 1041.8L2052.6 1055.3L2052.8 1108.7L2053.4 1061.8L2053.4 1105.2L2053.7 1060.6L2053.8 1119.1L2054.1 1062.7L2054.4 1107.9L2054.5 1052.9L2054.7 1115.2L2055 1063.9L2055 1101.9L2055.5 1057L2056 1093.9L2056.1 1102.7L2056.2 1054.3L2056.5 1059.7L2056.8 1099.8L2057.1 1063.9L2057.5 1125.1L2057.5 1109.7L2057.6 1062.8L2058.2 1032L2058.2 1101L2058.8 1098.8L2059 1053.4L2059.2 1099.9L2059.3 1063.8L2059.6 1106.7L2059.9 1052.3L2060.2 1065.6L2060.4 1105.5L2060.6 1054.6L2061 1118.3L2061.4 1051.9L2061.4 1108.1L2061.6 1059L2061.7 1110.4L2062.1 1103.9L2062.3 1059.2L2062.6 1122.6L2062.7 1060.4L2063.2 1045.5L2063.3 1109.5L2063.5 1048.7L2063.6 1103.3L2064.1 1058.5L2064.4 1110.7L2064.6 1050.9L2064.9 1101.1L2065.1 1111L2065.2 1058L2065.7 1108.3L2065.9 1062.7L2066.2 1125L2066.5 1050.3L2066.6 1130.4L2066.9 1061.8L2067.1 1065.4L2067.5 1118.1L2067.8 1065.1L2067.9 1120.5L2068.4 1127.7L2068.5 1046.6L2068.7 1099.8L2068.7 1045.6L2069 1064.4L2069.1 1109.6L2069.6 1118.6L2069.7 1063L2070.1 1060.4L2070.4 1122.5L2070.8 1062.9L2070.9 1096.2L2071.1 1064.7L2071.1 1112.6L2071.8 1120.1L2071.8 1055.6L2072.1 1057.4L2072.3 1107.3L2072.5 1050.1L2072.7 1109.8L2073.1 1115.2L2073.2 1057.5L2073.5 1066.3L2073.7 1104.9L2074.1 1116.6L2074.2 1059L2074.5 1052.6L2075 1110.2L2075.3 1110L2075.4 1060.4L2075.8 1097.6L2076 1042.4L2076.2 1058.3L2076.5 1119L2076.5 1097.9L2076.6 1057.7L2077.1 1059.8L2077.4 1109.7L2077.7 1119.8L2077.7 1052.3L2078.1 1103.3L2078.3 1060.9L2078.7 1111.8L2078.8 1057.8L2079.1 1100.7L2079.4 1061.9L2079.6 1111.1L2079.6 1054.5L2080.1 1121L2080.1 1056.4L2080.6 1105.5L2080.8 1059.8L2081 1117.9L2081.4 1058.4L2081.6 1068.7L2081.7 1117.5L2082.2 1062.2L2082.3 1122.5L2082.6 1126.8L2083 1054.9L2083 1112.5L2083.3 1059.1L2083.6 1117.2L2083.8 1060L2084.1 1047.9L2084.2 1117.4L2084.8 1107.9L2085 1057.2L2085.1 1047.7L2085.4 1115L2085.6 1103.6L2085.8 1055.9L2086 1056.7L2086.1 1112.1L2086.5 1118.7L2086.7 1066.9L2087.2 1134.5L2087.4 1039.9L2087.6 1051.8L2087.9 1098.4L2088.3 1055.2L2088.4 1114.5L2088.8 1067.3L2088.9 1104.8L2089.4 1103.8L2089.4 1050L2089.7 1111.4L2090 1055.5L2090.3 1059.8L2090.5 1105.8L2090.6 1041.6L2091 1119.8L2091.2 1047.5L2091.4 1110L2091.7 1052.1L2091.8 1107.1L2092 1064L2092.4 1131.7L2092.5 1115.1L2092.8 1063.6L2093 1114.7L2093.2 1058.9L2093.5 1104.2L2093.6 1056.8L2094.1 1117.8L2094.2 1061.8L2094.7 1061.7L2094.8 1107.4L2095.2 1059.9L2095.5 1121L2095.5 1050.8L2095.7 1116.2L2096.4 1105L2096.4 1061.3L2096.8 1104.7L2097 1047.8L2097.1 1123.1L2097.2 1054.4L2097.7 1135.4L2097.8 1058.8L2098.4 1057.9L2098.5 1132.2L2098.7 1052.2L2098.9 1098.9L2099.1 1119.3L2099.3 1060.6L2099.7 1058L2099.7 1115.8L2100.2 1109L2100.4 1057.1L2100.6 1062.7L2100.7 1123.4L2101.2 1047.4L2101.3 1106L2101.5 1122.3L2101.8 1055.9L2102.1 1109.2L2102.2 1057.4L2102.5 1058.3L2102.8 1118.7L2103 1053.9L2103.1 1112.1L2103.8 1114.9L2103.9 1057.1L2104.1 1104.6L2104.3 1059.9L2104.9 1069.9L2105 1108.6L2105.1 1064.7L2105.2 1116.7L2105.7 1051.7L2105.8 1110.7L2106.2 1051.7L2106.3 1109.8L2106.6 1047.9L2106.7 1117.8L2107.4 1104.6L2107.4 1053.9L2107.5 1112.8L2107.8 1046.3L2108.1 1058.6L2108.3 1117.5L2108.7 1122.9L2108.8 1057.6L2109.3 1050L2109.4 1120.5L2109.7 1113.9L2110 1059.4L2110 1146L2110.2 1059.5L2110.8 1063.6L2110.8 1128.7L2111.1 1107.4L2111.4 1049.3L2111.8 1115.6L2111.9 1052.5L2112 1111.6L2112.1 1063.8L2112.9 1133.6L2112.9 1065.2L2113.4 1049.3L2113.4 1116.3L2113.6 1058.5L2113.6 1126.6L2114.1 1050.5L2114.1 1114.9L2114.7 1052.7L2114.9 1142.5L2115.2 1112.3L2115.4 1044.4L2115.6 1101.6L2115.6 1061.9L2116 1129.4L2116.3 1067.9L2116.6 1116.2L2116.9 1052.6L2117 1108.2L2117.2 1065.6L2117.5 1062.1L2117.8 1122.6L2118.3 1104.9L2118.5 1051.4L2118.7 1038L2118.7 1112.1L2119.1 1056.5L2119.4 1123.2L2119.7 1120.3L2119.9 1060.9L2120.2 1048.7L2120.4 1113.1L2120.6 1062.4L2120.7 1120.8L2121.1 1117L2121.3 1040.6L2121.7 1117.1L2121.9 1058.4L2122.1 1066.8L2122.1 1118.5L2122.6 1111.3L2122.8 1055L2123.2 1060.1L2123.2 1109.7L2123.6 1126.6L2123.9 1053.9L2124.1 1048L2124.2 1106.5L2124.8 1115.8L2124.9 1061.7L2125.2 1048.3L2125.4 1109.7L2125.6 1057.1L2126 1114.2L2126.1 1068.8L2126.2 1109.5L2126.7 1056.6L2126.8 1113.9L2127.1 1115.1L2127.3 1061.6L2127.7 1051.8L2127.8 1106.3L2128 1058.8L2128.2 1115.5L2128.8 1055.3L2128.8 1137.4L2129.1 1048.7L2129.2 1110.7L2129.7 1105.4L2129.9 1064.5L2130.1 1120.6L2130.3 1052.1L2130.8 1116.5L2130.9 1057.1L2131.2 1056.1L2131.3 1096.1L2131.5 1128.5L2131.7 1066.2L2132 1112.2L2132.4 1055.6L2132.6 1103L2132.6 1053.6L2133.1 1123L2133.2 1057L2133.7 1125.4L2133.9 1057.2L2134 1116.7L2134.1 1056.8L2134.5 1060.4L2135 1134.1L2135.2 1052.6L2135.5 1119.6L2135.6 1128.1L2135.8 1064.8L2136.3 1113.4L2136.5 1053.9L2136.5 1056.3L2136.9 1115.2L2137.3 1059.5L2137.4 1115.2L2137.6 1138L2137.9 1056L2138.2 1059.8L2138.4 1118.1L2138.6 1113.5L2138.9 1061.1L2139.3 1050.8L2139.5 1122.8L2139.6 1046.5L2139.7 1097.2L2140 1058.1L2140.2 1130.9L2140.5 1051.1L2141 1118.4L2141.1 1108.8L2141.1 1052.6L2141.5 1052.2L2141.6 1108.9L2142.2 1051.3L2142.3 1110.9L2142.7 1105.6L2143 1052.9L2143.4 1109.1L2143.4 1058.2L2143.9 1103.2L2143.9 1051.9L2144.2 1044.4L2144.5 1104.8L2144.7 1136.6L2144.8 1060.9L2145.1 1061L2145.1 1111L2145.8 1051.7L2145.9 1107.1L2146.2 1049.8L2146.3 1108.8L2146.8 1109.2L2147 1058.5L2147 1110L2147.3 1055.6L2147.7 1105.2L2147.8 1046.4L2148.4 1125.1L2148.4 1056L2148.9 1109.4L2149 1053L2149.2 1111.4L2149.4 1043.2L2149.7 1110L2149.7 1059.2L2150.3 1119.3L2150.4 1062.6L2150.7 1116.3L2151 1049.2L2151 1119.1L2151.2 1057.2L2151.7 1067.8L2151.9 1102.1L2152.1 1059.3L2152.2 1118.9L2152.8 1058.4L2152.9 1113.1L2153 1124.2L2153.4 1058.4L2153.5 1054L2153.9 1119L2154.2 1055.1L2154.3 1108.6L2154.7 1057L2154.8 1112.4L2155.1 1126.2L2155.5 1057.4L2155.6 1113.3L2155.9 1055.8L2156 1054.5L2156.4 1116.3L2156.5 1063.2L2157 1115.9L2157 1064.5L2157 1138.9L2157.6 1109.6L2157.8 1044.4L2158.4 1058.4L2158.4 1118.7L2158.7 1052.6L2158.8 1115.7L2159.3 1107.7L2159.5 1059.6L2159.6 1054.6L2159.6 1099.6L2160.3 1122.8L2160.4 1044.1L2160.5 1089.6"/>
<path stroke="#008000" d="M396.4 581.9L526.6 541.6L602.8 564L656.8 598.5L698.7 616.3L733 542L761.9 490L787 430.3L809.1 414.1L828.9 430.3L846.8 437.4L863.1 378.2L878.2 367.9L892.1 388L905 395L917.2 414.8L928.6 451.8L939.3 468.4L949.4 491.7L959.1 495.9L968.2 511.9L977 548.9L985.3 562.9L993.3 584L1001 636.9L1008.4 662.3L1015.4 666.1L1022.3 688.5L1028.9 706.3L1035.2 716.5L1041.4 738.2L1047.3 780L1053.1 788L1058.7 770L1064.2 762.4L1069.5 788.6L1074.6 780.3L1079.6 776.5L1084.5 765L1089.3 772L1093.9 784L1098.4 795.6L1102.8 764.4L1107.2 774L1111.4 781.6L1115.5 778L1119.5 747L1123.5 735L1127.4 755L1131.2 771.4L1134.9 737L1138.5 710.8L1142.1 721.6L1145.6 741.4L1149.1 723L1152.5 711.4L1155.8 738.2L1159 721.6L1162.3 685L1165.4 655L1168.5 642L1171.6 655L1174.6 678L1177.5 700L1180.4 715L1183.3 719L1186.1 680L1188.9 638L1191.7 650L1194.4 668L1197 690L1199.7 657L1202.2 656.6L1204.8 667L1207.3 680L1209.8 690L1212.3 700L1214.7 712L1217.1 722L1219.4 721L1221.8 730L1224.1 760L1226.4 790L1228.6 805L1230.8 800L1233 776L1235.2 785L1237.3 795L1239.5 802L1241.6 800L1243.6 780L1245.7 750L1247.7 715L1249.7 697L1251.7 696L1253.7 722L1255.6 740L1257.6 760L1259.5 780L1261.3 795L1263.2 804L1265.1 812L1266.9 818L1268.7 815L1270.5 805L1272.3 795L1274.1 787L1275.8 788L1277.5 802L1279.2 812L1280.9 815L1282.6 818L1284.3 822L1286 850L1287.6 852L1289.2 835L1290.8 810L1292.4 790L1294 774L1295.6 775L1297.1 805L1298.7 828L1300.2 833L1301.7 856.5L1303.3 860.3L1304.8 850.1L1306.2 824.1L1307.7 815.2L1309.2 858L1310.6 854.3L1312.1 826.2L1313.5 833.9L1314.9 833.8L1316.3 832.2L1317.7 827L1319.1 809.5L1320.5 779L1321.8 809.5L1323.2 827L1324.5 832.2L1325.9 833.8L1327.2 834.2L1328.5 829.4L1329.8 832.9L1331.1 873.1L1332.4 870.6L1333.7 870.4L1335 829.5L1336.2 835L1337.5 834.6L1338.7 833L1340 827.8L1341.2 810.4L1342.4 780L1343.7 780L1344.9 810.4L1346.1 827.7L1347.3 817.2L1348.4 788.3L1349.6 744L1350.8 794.1L1352 822.7L1353.1 831.1L1354.3 833.9L1355.4 834.7L1356.5 848L1357.7 835.8L1358.8 844L1359.9 862.2L1361 864.6L1362.1 851.3L1363.2 862L1364.3 860.9L1365.4 833.8L1366.5 846.3L1367.5 872.6L1368.6 887.2L1369.6 882.3L1370.7 876.8L1371.7 831L1372.8 823.9L1373.8 847L1374.8 849.7L1375.9 859.1L1376.9 852.1L1377.9 847.3L1378.9 865.9L1379.9 892.2L1380.9 875.4L1381.9 887.8L1382.9 882.1L1383.9 841.2L1384.8 855.4L1385.8 865.9L1386.8 841.8L1387.7 864.1L1388.7 856.8L1389.6 828.8L1390.6 835.5L1391.5 859.9L1392.5 874.9L1393.4 874.1L1394.3 863.7L1395.2 849.2L1396.2 859.3L1397.1 842.4L1398 813.9L1398.9 809.2L1399.8 828.7L1400.7 841.7L1401.6 834.1L1402.5 826.9L1403.4 846.7L1404.2 878.6L1405.1 852.8L1406 814.3L1406.9 810L1407.7 837L1408.6 865.7L1409.4 850L1410.3 829L1411.1 832L1412 797.7L1412.8 797.1L1413.7 840.7L1414.5 848.2L1415.3 844.4L1416.1 800L1417 789.6L1417.8 716L1418.6 716L1419.4 789.6L1420.2 819.8L1421 829.6L1421.8 848.2L1422.6 849.4L1423.4 850.3L1424.2 832.6L1425 875.9L1425.8 892.1L1426.6 868.4L1427.3 843.4L1428.1 866.6L1428.9 860.6L1429.6 865.4L1430.4 859.6L1431.2 832.9L1431.9 854.7L1432.7 859.6L1433.4 860.7L1434.2 867.2L1434.9 846.8L1435.7 820.6L1436.4 856.1L1437.2 803.4L1437.9 826L1438.6 796.9L1439.4 825.9L1440.1 824.1L1440.8 863.9L1441.5 845.9L1442.2 831.6L1443 843.4L1443.7 824.7L1444.4 845.4L1445.1 840L1445.8 831.3L1446.5 836.9L1447.2 843.3L1447.9 818.5L1448.6 804.7L1449.3 753L1450 804.7L1450.7 834.4L1451.3 832.9L1452 827.4L1452.7 828.8L1453.4 838L1454.1 881.8L1454.7 896.6L1455.4 852.7L1456.1 807.6L1456.7 823.9L1457.4 866.3L1458 863.6L1458.7 855.7L1459.4 850L1460 858.9L1460.7 848.1L1461.3 862.4L1462 906.7L1462.6 895L1463.2 847.8L1463.9 813.5L1464.5 817.4L1465.2 860.1L1465.8 836L1466.4 874.9L1467.1 836.2L1467.7 848L1468.3 832.5L1468.9 822.5L1469.6 840.3L1470.2 854.2L1470.8 887.4L1471.4 897.1L1472 873.9L1472.6 822.2L1473.2 834.4L1473.8 866.4L1474.4 866.2L1475 883.3L1475.6 878.9L1476.2 855.2L1476.8 866.9L1477.4 855.2L1478 862.9L1478.6 873.2L1479.2 853.2L1479.8 819.3L1480.4 808L1481 839.1L1481.6 873.1L1482.1 888.9L1482.7 852L1483.3 836.1L1483.9 844.3L1484.4 847.4L1485 816.5L1485.6 798.5L1486.2 847.8L1486.7 860.5L1487.3 888.8L1487.8 876L1488.4 832.7L1489 832.2L1489.5 873.8L1490.1 855.6L1490.6 845.8L1491.2 848.5L1491.7 828.3L1492.3 829.2L1492.8 814L1493.4 831.6L1493.9 840.2L1494.5 835.8L1495 860.8L1495.6 871L1496.1 892.2L1496.6 878.5L1497.2 873.3L1497.7 827.5L1498.2 801L1498.8 847.4L1499.3 900.6L1499.8 839.5L1500.4 879.4L1500.9 857.5L1501.4 843.4L1501.9 826.9L1502.4 859.9L1503 883.6L1503.5 820.9L1504 839.8L1504.5 859.6L1505 853.1L1505.5 880.9L1506.1 877.2L1506.6 848.6L1507.1 843.8L1507.6 840.1L1508.1 796.7L1508.6 830.9L1509.1 857.6L1509.6 848L1510.1 875.7L1510.6 869.8L1511.1 866.2L1511.6 840.7L1512.1 894.9L1512.6 900.5L1513.1 921.8L1513.6 893.9L1514 929.9L1514.5 917.2L1515 898.5L1515.5 890.1L1516 904.1L1516.5 888.9L1517 888.4L1517.4 873.7L1517.9 856.1L1518.4 866.5L1518.9 813.9L1519.3 847.8L1519.8 869.6L1520.3 851L1520.8 873.1L1521.2 858L1521.7 866.2L1522.2 878.9L1522.6 893.7L1523.1 891.1L1523.6 926.6L1524 920.5L1524.5 866.7L1525 843.1L1525.4 861L1525.9 869.6L1526.3 896.5L1526.8 868.2L1527.3 874L1527.7 921.9L1528.2 946.4L1528.6 914.4L1529.1 893.5L1529.5 928.2L1530 922.4L1530.4 909.7L1530.9 895.8L1531.3 889L1531.8 910.9L1532.2 906.8L1532.7 893L1533.1 894.3L1533.5 874.4L1534 888.3L1534.4 885.6L1534.9 915.7L1535.3 915.7L1535.7 941.5L1536.2 943.9L1536.6 911.3L1537 887.6L1537.5 873.4L1537.9 903.1L1538.3 938.9L1538.8 927.8L1539.2 908.9L1539.6 927.2L1540 967.1L1540.5 929.7L1540.9 891.9L1541.3 891.3L1541.7 881.9L1542.2 894.8L1542.6 913.5L1543 878.8L1543.4 870.2L1543.8 906.1L1544.3 909.7L1544.7 888.6L1545.1 844.6L1545.5 906.1L1545.9 924.8L1546.3 935.7L1546.7 967.9L1547.1 905.9L1547.6 894L1548 947.2L1548.4 968.1L1548.8 908L1549.2 890.3L1549.6 909.3L1550 921.2L1550.4 900L1550.8 909.8L1551.2 887.6L1551.6 910.8L1552 864.1L1552.4 903.7L1552.8 925.9L1553.2 914L1553.6 886.2L1554 882.6L1554.4 884.7L1554.8 907.2L1555.2 944L1555.6 920.5L1556 925.1L1556.3 918.8L1556.7 832.9L1557.1 839.2L1557.5 888.2L1557.9 868.4L1558.3 875.5L1558.7 919.1L1559.1 914.3L1559.4 901.6L1559.8 863.8L1560.2 882.1L1560.6 883L1561 876L1561.4 884.7L1561.7 871.1L1562.1 840.2L1562.5 824.5L1562.9 864.1L1563.2 808.2L1563.6 835.3L1564 852.5L1564.4 851L1564.7 882.9L1565.1 895.1L1565.5 860.2L1565.9 869.6L1566.2 853.3L1566.6 839.6L1567 874.6L1567.3 856.3L1567.7 839.5L1568.1 871.2L1568.4 900.8L1568.8 892.2L1569.2 843.7L1569.5 849L1569.9 851.7L1570.3 871.6L1570.6 905L1571 875.3L1571.3 897.4L1571.7 916.3L1572.1 889L1572.4 876.1L1572.8 816.9L1573.1 844.8L1573.5 794L1573.9 848.1L1574.2 873.6L1574.6 863.4L1574.9 919.6L1575.3 914.5L1575.6 869.8L1576 843L1576.3 866.3L1576.7 850.7L1577 858.1L1577.4 861.6L1577.7 912.7L1578.1 902.7L1578.4 925.8L1578.8 897.4L1579.1 847L1579.5 842.7L1579.8 860.1L1580.2 871.2L1580.5 841.9L1580.8 858.6L1581.2 910.7L1581.5 836.9L1581.9 883L1582.2 875.9L1582.5 925.3L1582.9 875.7L1583.2 907.8L1583.6 888.2L1583.9 891.8L1584.2 863.6L1584.6 876.5L1584.9 883.9L1585.2 928.1L1585.6 937.3L1585.9 932.1L1586.2 947.4L1586.6 938.3L1586.9 933.8L1587.2 900.2L1587.6 955.4L1587.9 937.3L1588.2 944L1588.6 917L1588.9 940.8L1589.2 944.8L1589.5 980L1589.9 927.1L1590.2 931.7L1590.5 927.9L1590.8 932.1L1591.2 943.8L1591.5 961.5L1591.8 974.2L1592.1 980.8L1592.5 956.8L1592.8 954.8L1593.1 950.1L1593.4 957.1L1593.7 927.4L1594.1 943.4L1594.4 965.3L1594.7 947.9L1595 926.4L1595.3 898.3L1595.7 989.4L1596 957.4L1596.3 984.5L1596.6 983.8L1596.9 971L1597.2 998.5L1597.6 983.3L1597.9 963.1L1598.2 943.5L1598.5 986.4L1598.8 980L1599.1 994L1599.4 992.3L1599.7 981.4L1600 983.4L1600.4 961L1600.7 964.4L1601 980.3L1601.3 978.9L1601.6 966.6L1601.9 962.8L1602.2 934.8L1602.5 956.2L1602.8 965.8L1603.1 952.2L1603.4 981.4L1603.7 949.8L1604 945.1L1604.3 973.1L1604.6 972.2L1604.9 955.1L1605.2 994.3L1605.5 1014.1L1605.8 982.6L1606.1 975L1606.4 965.6L1606.7 965.2L1607 950.9L1607.3 978.3L1607.6 967.2L1607.9 1003.9L1608.2 981.5L1608.5 956L1608.8 1019L1609.1 1031.3L1609.4 995.1L1609.7 964.2L1610 950.4L1610.3 963.4L1610.6 951.9L1610.9 968.5L1611.2 941L1611.4 946L1611.7 981.5L1612 983.3L1612.3 967.4L1612.6 988.9L1612.9 1004.2L1613.2 981.6L1613.5 952.5L1613.8 979.7L1614 961.2L1614.3 973.9L1614.6 971.8L1614.9 1012.3L1615.2 981.5L1615.5 961.7L1615.8 968.5L1616 999.4L1616.3 996.8L1616.6 975.7L1616.9 978L1617.2 990L1617.5 994.3L1617.7 957.4L1618 998.4L1618.3 984.7L1618.6 949.7L1618.9 946.9L1619.1 966.4L1619.4 979.3L1619.7 984.4L1620 988.5L1620.3 1028.1L1620.5 999.1L1620.8 986L1621.1 978.4L1621.4 943.1L1621.6 957.6L1621.9 982.1L1622.2 981.5L1622.5 980.2L1622.7 977.2L1623 970.6L1623.3 955.9L1623.6 923.1L1623.8 851.3L1624.1 846L1624.4 838.7L1624.7 838.7L1624.9 854L1625.2 851.8L1625.5 923.1L1625.7 955.9L1626 950.5L1626.3 972.2L1626.5 980.2L1626.8 957.6L1627.1 967.8L1627.4 1000.9L1627.6 984L1627.9 1006.4L1628.2 980.6L1628.4 992.6L1628.7 977.3L1628.9 970.2L1629.2 976.9L1629.5 974.2L1629.7 974.9L1630 991.4L1630.3 961.8L1630.5 977.6L1630.8 990.4L1631.1 977.7L1631.3 977.1L1631.6 975.5L1631.8 971.4L1632.1 960.7L1632.4 932.6L1632.6 860.8L1632.9 855.2L1633.1 849L1633.4 853.9L1633.7 864.9L1633.9 932.6L1634.2 960.7L1634.4 971.4L1634.7 975.5L1635 955.9L1635.2 970.2L1635.5 994.5L1635.7 975.6L1636 970.1L1636.2 992.5L1636.5 983.8L1636.7 963.7L1637 998.7L1637.3 994.8L1637.5 990.5L1637.8 984.8L1638 999.6L1638.3 1010.7L1638.5 975L1638.8 1018.4L1639 986.9L1639.3 992.5L1639.5 988.2L1639.8 986.5L1640 988.5L1640.3 1000.6L1640.5 971.1L1640.8 965L1641 982.9L1641.3 974L1641.5 973.8L1641.8 977.2L1642 940L1642.3 965.6L1642.5 961.3L1642.8 967L1643.2 1003.7L1643.5 964L1643.7 1000.5L1644 1010.4L1644.2 967.1L1644.5 969.5L1644.7 988.5L1645 1003.3L1645.2 966.8L1645.4 967.8L1645.7 966.8L1645.9 964.8L1646.2 961.3L1646.4 955L1646.7 943.4L1646.9 922.2L1647.1 883.7L1647.4 818.9L1647.6 812.3L1647.9 811.8L1648.1 800L1648.6 812.4L1648.8 810.9L1649.1 815.7L1649.3 883.7L1649.5 922.2L1649.8 943.4L1650 955L1650.5 964.8L1650.7 966.8L1651 967.8L1651.2 967.4L1651.4 959L1651.7 965.3L1651.9 964L1652.1 968.5L1652.4 954.4L1652.6 946.1L1652.8 954L1653.1 947.1L1653.3 978.8L1653.5 943.8L1653.8 982.9L1654.2 975.4L1654.5 986.5L1654.7 970.2L1654.9 948.8L1655.2 969L1655.4 973.4L1655.6 969.7L1655.8 959.3L1656.1 961.6L1656.3 978L1656.5 950.9L1656.8 946.3L1657.2 988.5L1657.4 973L1657.7 945.8L1657.9 951.2L1658.1 947.2L1658.4 967.5L1658.6 961.7L1658.8 954.1L1659 957.4L1659.3 938.1L1659.7 946L1659.9 948.6L1660.2 932L1660.4 964L1660.6 937.9L1660.8 959L1661.1 953.4L1661.3 938.3L1661.7 939L1661.9 947.7L1662.2 920.8L1662.4 960.4L1662.6 948.4L1662.8 958.9L1663.1 947.2L1663.3 953.4L1663.5 949.9L1663.7 977L1664.2 944.7L1664.4 958L1664.6 949.1L1664.8 950.6L1665.3 967.7L1665.5 924.9L1665.7 937.9L1665.9 930.4L1666.1 941.7L1666.3 953.2L1666.6 949.7L1667 944.7L1667.2 928.8L1667.4 930.4L1667.6 935.1L1667.9 932.4L1668.1 903.3L1668.3 860.1L1668.5 852.7L1668.9 903.3L1669.2 926.9L1669.4 908.2L1669.6 940.1L1669.8 924.8L1670 945.7L1670.2 930.8L1670.6 940.7L1670.9 942.7L1671.1 931.7L1671.5 939.7L1671.7 955.6L1671.9 956.8L1672.1 929.7L1672.3 941.8L1672.5 955.7L1672.8 928.3L1673.2 981.9L1673.4 930.7L1673.6 923.5L1673.8 931.8L1674 949.3L1674.2 923.9L1674.6 956.2L1674.8 933.4L1675.1 964.3L1675.5 939.2L1675.7 928.7L1675.9 959L1676.1 939L1676.3 940.5L1676.5 918.9L1676.9 957.3L1677.1 941.4L1677.3 932.2L1677.5 955.5L1677.9 930.1L1678.1 980L1678.3 933.8L1678.8 930.7L1679 936.7L1679.2 944.1L1679.4 949.2L1679.8 954.9L1680 934.8L1680.2 954.2L1680.4 962.7L1680.8 982L1681 916.5L1681.2 945.6L1681.4 956.2L1681.6 939.7L1682 969.9L1682.2 956.7L1682.4 956.4L1682.6 944.8L1682.8 989.6L1683.2 962.3L1683.4 950.3L1683.6 963.7L1684 938.8L1684.2 953.1L1684.4 959.3L1684.6 960.3L1685 951.9L1685.2 956.1L1685.4 964.1L1685.5 950.6L1685.9 957.6L1686.1 958.1L1686.3 960.4L1686.7 945.1L1686.9 934.2L1687.1 961.2L1687.3 947L1687.5 978.7L1687.9 954.1L1688.1 960.1L1688.5 971.5L1688.7 974.8L1688.9 994.3L1689 947.2L1689.4 963.1L1689.6 965.2L1689.8 974.1L1690 959.7L1690.2 994.4L1690.6 960L1691 979.1L1691.2 981.1L1691.3 980.5L1691.5 994.2L1691.9 975.2L1692.1 974.9L1692.5 979L1692.7 962.1L1692.9 972.2L1693.1 981.4L1693.2 962.9L1693.6 984.3L1694 964.1L1694.2 960.7L1694.4 989.8L1694.6 989L1694.9 969.2L1695.1 992.4L1695.3 996.3L1695.7 983L1695.9 984.2L1696 977.9L1696.2 1005.2L1696.6 1001.4L1697 968L1697.2 998.4L1697.3 1006.9L1697.5 1001.4L1697.9 981.1L1698.3 983.2L1698.4 1024.8L1698.8 1004.1L1699 1035.5L1699.2 995L1699.4 1012.5L1699.5 981.1L1699.7 1019.4L1700.3 1007.5L1700.4 1032.3L1700.8 1013.6L1701 1007.2L1701.2 1011.7L1701.3 1001.7L1701.7 1012.4L1701.9 1034.4L1702.1 1028.1L1702.2 1046.5L1702.8 1002.5L1703 1029.9L1703.1 1015.4L1703.3 1049.3L1703.5 1024.7L1703.7 1008.1L1704.2 1032.8L1704.4 1025.1L1704.6 1044.2L1704.7 1002.9L1705.1 1004.9L1705.3 1029.3L1705.6 1009.6L1706 1028.1L1706.2 1035.7L1706.3 1019.5L1706.5 1058L1706.9 1036.2L1707 1020.9L1707.2 1043.2L1707.6 1062.2L1707.7 1031.5L1708.1 1061.8L1708.3 1044.1L1708.8 1029.3L1709 1054L1709.3 1060.3L1709.5 1025.9L1709.6 1036.5L1710 1077.4L1710.2 1043L1710.3 1051.5L1710.5 1069.3L1710.8 1043.7L1711 1046.6L1711.4 1071.5L1711.5 1029.8L1711.7 1051.3L1712 1023.8L1712.2 1039.5L1712.7 1060L1712.9 1036.6L1713.1 1020.6L1713.2 1051.1L1713.7 1088.7L1713.9 1045.2L1714.1 1055.3L1714.4 1079L1714.6 1075.8L1714.8 1064.3L1715.3 1044.5L1715.4 1033.2L1715.8 1070.8L1715.9 1053.5L1716.3 1061.8L1716.4 1020.2L1716.6 1073.1L1716.8 1030.1L1717.1 1041.1L1717.4 1073.3L1717.6 1037.9L1717.8 1074.6L1718.1 1069.9L1718.2 1039.7L1718.7 1100.8L1718.9 1049.1L1719.1 1046.7L1719.2 1089.7L1719.6 1047L1719.9 1076.9L1720.1 1083L1720.2 1065.5L1720.5 1057.7L1720.7 1049.7L1721.2 1092L1721.4 1062.4L1721.7 1029L1721.8 1076.6L1722.2 1090.1L1722.3 1053.5L1722.6 1075.7L1722.8 1045.6L1723.1 1058.5L1723.5 1093.4L1723.6 1076.9L1723.9 1058.1L1724.1 1073.4L1724.3 1055.3L1724.6 1104.7L1724.9 1070.2L1725.2 1087L1725.4 1062.6L1725.8 1067.8L1726 1102.6L1726.2 1064.1L1726.3 1085.9L1726.6 1093.1L1726.8 1075.7L1727.1 1082L1727.3 1042.8L1727.7 1063.8L1727.9 1045.2L1728 1083.1L1728.4 1063L1728.5 1102.9L1728.8 1073.8L1729.1 1095.7L1729.3 1071.6L1729.6 1084.2L1729.9 1058.4L1730.1 1066.9L1730.4 1085.4L1730.5 1094.2L1731 1040.5L1731.1 1097.3L1731.5 1043L1731.6 1078.8L1731.8 1061.4L1732.2 1084.4L1732.4 1063.7L1732.5 1100.2L1732.8 1044.8L1733.1 1085.1L1733.4 1061.7L1733.6 1066.7L1733.9 1092.5L1734.1 1076.8L1734.2 1083.4L1734.7 1061.3L1735 1074.6L1735.1 1064.3L1735.3 1086.6L1735.7 1107.4L1735.9 1080.4L1736 1070.4L1736.3 1103.5L1736.6 1093L1736.8 1059.3L1737.1 1092.7L1737.4 1085L1737.7 1071L1738 1097.8L1738.1 1089.8L1738.4 1101.9L1738.8 1099.2L1739 1064.2L1739.3 1111.4L1739.4 1068.1L1739.7 1049.9L1739.9 1084.5L1740.2 1082.9L1740.3 1057.2L1740.6 1054L1740.8 1076.4L1741 1086.5L1741.2 1058.9L1741.6 1064.3L1741.9 1079L1742.4 1102.5L1742.5 1068.9L1742.8 1090.5L1742.9 1099L1743.1 1087.3L1743.4 1102.7L1743.5 1074.6L1743.8 1095.6L1744.1 1119.1L1744.2 1059.1L1744.5 1071.9L1744.8 1096.4L1745.2 1062.9L1745.4 1075.1L1745.8 1080.6L1745.9 1065.1L1746.1 1117.3L1746.2 1063.5L1746.5 1084.3L1746.9 1108.1L1747.1 1098.5L1747.4 1084.9L1747.8 1089.2L1747.9 1077.7L1748.1 1067.5L1748.2 1053.7L1748.6 1070.7L1748.8 1116.8L1749.1 1059L1749.5 1090.3L1749.7 1100.1L1749.9 1075.2L1750 1063.2L1750.3 1101.8L1750.9 1110.1L1751 1065.3L1751.1 1061.4L1751.3 1086.3L1751.7 1058L1752 1100.5L1752.1 1098.4L1752.4 1086.7L1752.5 1064.5L1752.7 1087.7L1753.1 1081.2L1753.3 1068.4L1753.7 1093.1L1753.9 1085.9L1754.2 1059.4L1754.4 1090.6L1754.7 1057.7L1754.8 1086.9L1755.1 1069.7L1755.2 1097.7L1755.7 1085.9L1755.8 1077.5L1756.1 1111.6L1756.5 1060.6L1756.7 1099.3L1756.9 1078.1L1757.3 1085.6L1757.4 1075.1L1757.8 1076.7L1757.9 1111.2L1758.2 1075.3L1758.5 1097.8L1758.7 1085.4L1758.9 1067L1759.1 1079.9L1759.4 1094.7L1759.7 1075.9L1759.8 1114.4L1760.3 1081.7L1760.5 1057.9L1760.6 1072L1760.8 1087.9L1761.1 1122.6L1761.2 1107.2L1761.5 1064.1L1761.8 1083.4L1762 1064.6L1762.4 1107.8L1762.5 1102.2L1762.8 1087.2L1763.3 1121L1763.5 1059.4L1763.6 1093.5L1763.8 1116.5L1764.2 1074L1764.4 1107.7L1764.7 1104.1L1764.9 1094.4L1765.1 1068.7L1765.4 1113.8L1765.5 1051.4L1765.6 1091.9L1766.3 1076.7L1766.4 1100.4L1766.7 1092.9L1766.9 1079.4L1767.2 1058.8L1767.3 1104.4L1767.6 1082.4L1767.7 1068.4L1768.2 1101.6L1768.4 1048.3L1768.6 1060L1768.7 1089L1769.1 1069.3L1769.5 1103L1769.6 1083.9L1769.7 1072.7L1770.3 1059.8L1770.5 1092.9L1770.6 1093.1L1770.8 1053.1L1771.1 1058.7L1771.5 1089.8L1771.6 1095.2L1771.7 1070.3L1772.1 1089.8L1772.2 1061.1L1772.7 1058.1L1772.9 1090.8L1773.2 1058.4L1773.4 1094.9L1773.6 1094.2L1773.8 1082.8L1774.2 1103.1L1774.3 1081.5L1774.8 1090.4L1774.9 1072.9L1775.3 1084.9L1775.4 1057.7L1775.6 1079.4L1775.7 1057.3L1776.1 1096.4L1776.5 1068.3L1776.6 1110.1L1777 1069.2L1777.1 1090.8L1777.4 1070.4L1777.8 1071.1L1777.9 1087.8L1778.2 1073.1L1778.4 1092.9L1778.5 1072.5L1778.6 1090.1L1779.2 1115L1779.5 1075.6L1779.7 1082.2L1780 1118.4L1780.2 1063.2L1780.3 1078.7L1780.7 1104.5L1780.8 1081.7L1781 1117L1781.3 1072L1781.6 1073.3L1781.8 1114.5L1782.1 1102.9L1782.4 1056.4L1782.7 1116.6L1782.8 1070.2L1783.2 1100.3L1783.4 1061.8L1783.7 1092L1783.9 1063L1784.1 1078.5L1784.2 1049.2L1784.6 1062.8L1784.8 1096.3L1785.2 1083.2L1785.3 1117.1L1785.7 1072.2L1785.8 1092.1L1786.1 1091.9L1786.3 1078.3L1786.7 1095L1786.8 1069.3L1787.1 1073.5L1787.2 1089.3L1787.5 1092.7L1787.7 1056.9L1788.1 1076.3L1788.2 1097.7L1788.8 1058.8L1789 1098.8L1789.1 1101.5L1789.3 1061L1789.6 1080.2L1789.7 1046.5L1790 1051.9L1790.1 1106.8L1790.6 1063.2L1790.8 1080.2L1791 1110.7L1791.4 1078.4L1791.6 1088.6L1791.7 1051.9L1792.1 1094.7L1792.5 1069.7L1792.6 1086.1L1792.8 1062.8L1793.1 1076L1793.4 1092L1793.6 1061.4L1793.9 1100.7L1794.3 1088.1L1794.5 1069.7L1794.6 1081.4L1794.7 1094.7L1795 1123.7L1795.2 1079.9L1795.7 1064.5L1795.9 1096.4L1796.1 1108.3L1796.3 1062.3L1796.5 1065.9L1797 1088.2L1797.2 1074.3L1797.3 1095L1797.6 1065.3L1797.7 1105.6L1798 1100.8L1798.5 1067L1798.7 1097.1L1798.8 1075.2L1799 1115.4L1799.1 1082L1799.8 1070.7L1800 1091L1800.1 1078.1L1800.4 1060.3L1800.8 1068.5L1800.9 1110.4L1801 1116.7L1801.3 1050.2L1801.6 1075.3L1802 1106.5L1802.1 1102.4L1802.2 1067.1L1802.5 1071.3L1802.8 1095.6L1803.2 1097.9L1803.5 1058.3L1803.7 1059.5L1803.9 1094.1L1804.2 1127.7L1804.3 1056.7L1804.6 1063.6L1804.9 1078.1L1805.1 1057.8L1805.2 1120.4L1805.7 1089.3L1806 1071.9L1806.1 1115.1L1806.2 1072.5L1806.7 1089L1806.9 1078.1L1807.3 1098.3L1807.4 1068.4L1807.8 1090.5L1807.9 1061.4L1808.1 1124.5L1808.4 1089.4L1808.5 1103.4L1808.9 1062.3L1809 1043.5L1809.3 1093.4L1809.8 1105L1810 1061.2L1810.1 1090.5L1810.4 1077.4L1810.7 1066.7L1810.8 1085.9L1811.3 1099.3L1811.5 1081.5L1811.9 1094.2L1812 1046L1812.3 1061.8L1812.4 1095.1L1812.6 1116.9L1813 1060.9L1813.1 1095.5L1813.4 1076.5L1813.9 1078.1L1814 1109.4L1814.4 1095.9L1814.5 1051.9L1814.6 1105.9L1814.8 1058L1815 1079.1L1815.4 1090.5L1815.5 1074.8L1815.8 1094L1816.1 1120.7L1816.3 1069.7L1816.7 1054.5L1816.8 1114.5L1817 1059.5L1817.4 1090.8L1817.6 1066.1L1817.9 1097.6L1818.1 1103.1L1818.3 1063L1818.7 1067.2L1818.8 1112.5L1819.2 1081.5L1819.4 1108.8L1819.6 1055.5L1819.8 1093.3L1820.1 1119.7L1820.3 1071.6L1820.8 1056.1L1821 1104.7L1821.2 1081.3L1821.4 1071.6L1821.7 1054.6L1821.8 1092.5L1822.1 1095.7L1822.4 1052.2L1822.7 1076.6L1822.9 1094.8L1823.1 1055.8L1823.4 1092.2L1823.6 1104.6L1823.7 1075.4L1824.2 1090.4L1824.5 1053.6L1824.6 1073.1L1824.8 1120L1825 1105.4L1825.2 1059.8L1825.6 1106.8L1825.9 1076L1826.2 1107.2L1826.4 1064.4L1826.6 1097.3L1827 1059.6L1827.1 1071.9L1827.2 1086.1L1827.5 1081.5L1828 1112.7L1828.1 1110.8L1828.2 1057.1L1828.6 1066.3L1828.7 1139.7L1829.2 1108.1L1829.3 1069.5L1829.8 1060.4L1830 1093.9L1830.3 1061.2L1830.4 1094.7L1830.7 1099.2L1830.8 1066.6L1831.4 1113.4L1831.4 1070.7L1831.5 1109.4L1831.8 1058.4L1832.2 1116.9L1832.3 1061.9L1832.5 1107L1833 1047.6L1833.2 1100.4L1833.3 1057.4L1833.8 1111.6L1834 1050.4L1834 1068.1L1834.1 1107.4L1834.7 1099.2L1834.8 1058.3L1835.3 1086.1L1835.4 1042.4L1835.6 1087.2L1836 1061L1836.1 1077L1836.2 1089.4L1836.8 1045.9L1837 1094L1837.2 1044.8L1837.5 1096.2L1837.7 1104.9L1837.8 1072.8L1838.1 1058.8L1838.2 1103.5L1838.5 1089.7L1838.7 1056.5L1839 1089.2L1839.2 1059.7L1839.7 1115.4L1839.9 1056.5L1840.1 1101.6L1840.2 1071.2L1840.5 1117.2L1840.9 1067.7L1841.1 1118.3L1841.3 1069.5L1841.9 1055.1L1842 1091.1L1842.2 1075L1842.4 1110.2L1842.6 1086L1842.7 1056.7L1843.2 1088.7L1843.2 1066.7L1843.5 1063.9L1843.6 1105L1844 1104.4L1844.1 1052.9L1844.5 1058.4L1844.9 1118.6L1845 1050.3L1845.3 1115.6L1845.5 1107.1L1845.6 1051.8L1846.1 1048.6L1846.3 1120.3L1846.6 1079.7L1846.9 1113.9L1847.3 1102.4L1847.4 1060.1L1847.9 1063.4L1847.9 1102.3L1848 1117.6L1848.2 1067.5L1848.8 1057.3L1848.9 1113.1L1849.3 1104.3L1849.4 1074.2L1849.6 1089.2L1849.7 1076.5L1850.2 1097.2L1850.3 1063.1L1850.6 1050.7L1850.8 1099.9L1851.2 1120.8L1851.4 1070.9L1851.8 1095.5L1851.9 1060.9L1852.1 1114L1852.2 1080.7L1852.7 1102.4L1853 1069.4L1853.2 1071.6L1853.3 1109.8L1853.6 1092.8L1854 1059.2L1854.3 1106L1854.4 1062.4L1854.8 1062.4L1855 1097.5L1855.2 1082.5L1855.4 1093.1L1855.7 1089.6L1855.8 1054.5L1856.2 1050.2L1856.3 1095.6L1856.7 1064.4L1857 1096.9L1857.2 1062L1857.3 1097.8L1857.5 1081.1L1857.9 1067.4L1858.1 1075.1L1858.4 1086.4L1858.7 1058.8L1858.9 1108.5L1859.1 1078.4L1859.2 1104.7L1859.6 1101.8L1859.7 1076.9L1860.1 1047.5L1860.4 1108.5L1860.7 1092.3L1860.9 1068.3L1861.3 1066.7L1861.3 1108.6L1861.6 1089.7L1861.9 1071.8L1862.3 1073.5L1862.5 1111.8L1862.6 1094.5L1862.7 1071.7L1863.2 1098.3L1863.4 1078.4L1863.6 1111.5L1863.8 1055.4L1864.2 1070.1L1864.2 1085.8L1864.6 1081L1864.8 1063.4L1865.1 1088.4L1865.3 1119L1865.7 1060.3L1865.9 1094.6L1866.1 1055.8L1866.3 1093.7L1866.9 1102.6L1866.9 1063.4L1867.2 1123.4L1867.4 1071.8L1867.5 1045.9L1867.8 1091.4L1868.1 1061L1868.4 1107.6L1868.6 1121.7L1868.8 1065.7L1869 1095L1869.3 1060.4L1869.8 1061.5L1870 1110.7L1870.1 1082.7L1870.5 1115.1L1870.6 1061.3L1870.9 1107.7L1871.2 1085.9L1871.4 1063.7L1871.5 1060.5L1871.7 1103L1872.2 1056.1L1872.4 1097.9L1872.6 1054.2L1872.9 1090L1873.4 1088.5L1873.5 1061.2L1873.8 1063.8L1874 1112.1L1874.1 1068.7L1874.5 1111.1L1874.6 1070.7L1874.8 1105.4L1875.4 1087.8L1875.5 1059.2L1875.6 1110.5L1875.9 1054.1L1876.1 1071.7L1876.2 1104.5L1876.7 1072.9L1877 1106.9L1877.2 1061.7L1877.3 1106.8L1877.6 1068.9L1877.9 1109.2L1878.2 1096.7L1878.2 1060L1878.7 1094.4L1878.8 1061.9L1879 1102.7L1879.2 1062.7L1879.6 1069.4L1879.8 1098.4L1880.1 1079.8L1880.5 1108.9L1880.6 1058.7L1880.9 1133.8L1881.1 1093.6L1881.3 1045L1881.5 1078L1881.7 1100.9L1882.2 1100.4L1882.4 1069.1L1882.8 1098.4L1882.8 1053.6L1883 1063.9L1883.5 1112.3L1883.6 1067.5L1883.9 1110.2L1884.3 1095.8L1884.4 1056.9L1884.7 1116.9L1885 1055.8L1885.2 1110.8L1885.4 1047.8L1885.8 1106L1886 1055.8L1886.1 1093.6L1886.2 1052L1886.5 1063.7L1887 1106.1L1887.1 1068.5L1887.4 1109.6L1887.5 1092L1888 1049.5L1888 1119.1L1888.4 1068.1L1888.5 1106.6L1888.6 1073.1L1889.2 1052.6L1889.3 1094.7L1889.8 1056.6L1890 1106.6L1890.2 1050.3L1890.3 1116.3L1890.7 1112.8L1890.9 1066.3L1891.4 1059.3L1891.5 1105.1L1891.6 1090.1L1891.9 1059.7L1892.3 1068.3L1892.5 1107.1L1892.5 1058L1892.7 1094.3L1893.1 1119.1L1893.4 1062.2L1893.6 1100.3L1893.8 1062.9L1894 1064.7L1894.4 1112.4L1894.6 1068.7L1894.7 1101.1L1895.2 1062.9L1895.4 1108.9L1895.8 1098.2L1895.9 1069.6L1896.2 1135.9L1896.4 1071.6L1896.6 1063.9L1896.7 1114.1L1897.2 1060.4L1897.4 1098.4L1897.7 1064.6L1898 1098.5L1898.1 1079.6L1898.3 1106.7L1898.9 1058.1L1898.9 1087L1899.1 1058.7L1899.3 1108.4L1899.8 1059.2L1899.9 1098.2L1900.1 1105.4L1900.3 1068.7L1900.7 1104.2L1900.9 1051.1L1901.1 1100.6L1901.4 1066.3L1901.6 1058.5L1901.9 1116.8L1902 1064.5L1902.1 1104.7L1902.6 1067.9L1902.7 1118.1L1903.1 1074.3L1903.4 1095.9L1903.7 1089.3L1903.9 1051.9L1904.3 1112L1904.5 1058.6L1904.7 1098.6L1905 1055.2L1905.2 1125.4L1905.3 1065.7L1905.6 1063.8L1905.9 1105.7L1906.1 1070L1906.4 1105.5L1906.5 1120.1L1906.7 1054.7L1907.1 1058.1L1907.4 1099.5L1907.5 1089.5L1907.7 1065.2L1908 1105.9L1908.3 1062.4L1908.8 1123.8L1908.9 1073.6L1909.4 1054.7L1909.5 1129.2L1909.8 1130.5L1909.9 1056.4L1910.1 1109.2L1910.5 1061.7L1910.5 1105.2L1910.8 1055.7L1911 1050.5L1911.1 1091.9L1911.6 1092.8L1911.8 1063.3L1912 1067.9L1912.4 1115.7L1912.6 1098.5L1912.6 1058.2L1913.2 1042.5L1913.4 1096.9L1913.6 1061.1L1914 1107L1914.2 1055.8L1914.3 1101.4L1914.6 1058.8L1914.8 1123.4L1915.4 1064.8L1915.5 1106L1915.6 1105.2L1915.9 1053.7L1916.2 1112.2L1916.4 1069.8L1916.6 1055.7L1916.8 1099.9L1917.3 1060.2L1917.5 1088.1L1917.7 1094.7L1917.8 1061.1L1918.3 1061.7L1918.4 1102.8L1918.5 1073.5L1918.9 1097.3L1919 1115.5L1919.1 1056.2L1919.6 1108.9L1919.6 1062.7L1920.4 1058.1L1920.5 1108.5L1920.9 1069L1921 1106L1921 1058.6L1921.4 1104.8L1921.6 1109.5L1921.9 1069.4L1922.3 1096.9L1922.4 1060.7L1922.7 1064.7L1922.9 1101.9L1923.2 1055.8L1923.3 1110.6L1923.8 1113.2L1923.9 1061.9L1924.1 1108.8L1924.2 1073.2L1924.6 1101L1925 1053.7L1925.2 1111.9L1925.3 1058.6L1925.7 1059.4L1925.8 1093.8L1926 1114.3L1926.2 1057L1926.8 1039L1926.9 1124.2L1927.1 1070.9L1927.5 1109.4L1927.7 1066.9L1927.9 1090.8L1928.3 1096.8L1928.4 1060.1L1928.8 1064.7L1929 1104.5L1929.2 1120.2L1929.4 1048.3L1929.5 1052.6L1929.7 1099.9L1930.2 1054.2L1930.4 1120.3L1930.6 1137L1930.9 1062.8L1931.1 1056.9L1931.4 1099.7L1931.6 1112.1L1931.9 1051L1932 1062L1932.2 1113.5L1932.8 1060.2L1932.9 1100.1L1933.1 1120.5L1933.3 1079L1933.6 1092L1933.8 1055.4L1934.3 1039L1934.4 1106.8L1934.6 1116.9L1934.9 1058.3L1935.4 1115.1L1935.5 1074.7L1935.6 1065.7L1935.8 1107.6L1936.2 1121.6L1936.3 1061.1L1936.6 1125.2L1936.7 1061.7L1937 1061.5L1937.2 1116.3L1937.6 1114.9L1937.9 1067.5L1938 1094.6L1938.1 1068.2L1938.7 1054.5L1938.8 1103.5L1939.1 1094.9L1939.1 1056.2L1939.9 1103.7L1940 1053.6L1940.3 1065.4L1940.4 1125.6L1940.6 1094.1L1940.9 1054.1L1941.1 1087.9L1941.2 1056.8L1941.8 1116.4L1942 1066.1L1942.4 1112.7L1942.5 1067.3L1942.9 1053.2L1943 1104.4L1943 1046.6L1943.3 1101.3L1943.5 1120.8L1943.7 1056.2L1944.2 1107.5L1944.3 1058.8L1944.9 1067.6L1945 1114.4L1945.1 1106.2L1945.3 1056.4L1945.7 1073.5L1945.7 1103.5L1946.4 1060.6L1946.5 1093.8L1946.6 1070.9L1946.6 1096.5L1947.1 1051.6L1947.2 1095.8L1947.6 1048.8L1948 1102.1L1948.2 1072L1948.3 1110.3L1948.6 1101.3L1948.6 1059.4L1949.1 1060.6L1949.5 1105.8L1949.7 1059.4L1949.9 1109.1L1950 1117.2L1950.1 1074.4L1950.7 1059L1950.9 1103.4L1951.1 1097L1951.4 1059.5L1951.9 1114.8L1952 1073.3L1952.3 1067.8L1952.3 1109.3L1952.8 1060.1L1952.8 1108.4L1953.1 1105L1953.2 1054.4L1953.7 1096.4L1953.9 1057.6L1954.2 1060.3L1954.4 1114.4L1954.6 1108.7L1955 1067.2L1955.4 1109.6L1955.4 1051.9L1955.6 1068.2L1955.8 1093L1956 1108.2L1956.2 1064.4L1956.6 1064.1L1956.9 1114L1957.1 1107.7L1957.4 1050.3L1957.7 1100.8L1957.7 1052.4L1958.1 1106L1958.3 1051.2L1958.6 1119.7L1958.9 1059.9L1959.1 1058.3L1959.2 1095.1L1959.5 1128.9L1959.7 1071.9L1960.2 1099L1960.3 1070.9L1960.6 1135.3L1960.6 1064L1961.1 1112.7L1961.2 1057.9L1961.8 1105.5L1961.9 1065.2L1962 1112.7L1962.3 1062.3L1962.7 1046.2L1962.7 1106.4L1963.1 1058.4L1963.3 1114.1L1963.5 1095.2L1963.8 1049.2L1964.1 1113.4L1964.4 1050.4L1964.5 1121.1L1964.8 1055.6L1965.1 1103.2L1965.1 1066.9L1965.5 1063.9L1965.9 1105.3L1966.3 1060.6L1966.4 1109.8L1966.8 1104.2L1966.9 1067.3L1967.2 1059.8L1967.3 1106.6L1967.6 1086.7L1967.7 1063.3L1968.1 1118.6L1968.3 1063.2L1968.9 1099.5L1968.9 1061.9L1969.2 1058.9L1969.4 1114.8L1969.6 1040.6L1969.8 1101.5L1970 1102L1970.2 1063.4L1970.9 1099.6L1971 1050.9L1971.1 1095.3L1971.3 1058.1L1971.8 1056.9L1971.9 1098.8L1972.2 1059.7L1972.4 1110.1L1972.7 1119.9L1972.8 1069.1L1973.1 1098.2L1973.5 1046.4L1973.5 1109.1L1973.7 1062.2L1974.1 1107.9L1974.4 1059.3L1974.8 1062.6L1974.8 1119.9L1975.4 1058.5L1975.5 1105.4L1975.5 1064L1975.7 1113.1L1976.1 1108.2L1976.3 1067.8L1976.6 1047.4L1977 1123.2L1977.2 1067.8L1977.4 1110L1977.5 1078.9L1977.8 1117.8L1978.1 1140.5L1978.3 1056L1978.6 1103.8L1978.7 1051.6L1979.3 1108.5L1979.4 1065.6L1979.8 1062.4L1979.9 1110.4L1980 1052.8L1980.5 1110.5L1980.6 1059.9L1980.7 1108.6L1981.1 1065.3L1981.1 1094.9L1981.6 1055.7L1981.9 1116.7L1982 1058.1L1982.2 1110.5L1982.6 1064.8L1982.7 1105.1L1983.1 1115.5L1983.2 1066.4L1983.6 1099.6L1983.8 1047.3L1984.1 1053L1984.3 1110.7L1984.5 1109L1984.8 1058.7L1985.1 1108.5L1985.3 1062.1L1985.6 1075.5L1985.9 1108.6L1986.2 1058.7L1986.3 1103.8L1986.7 1118.4L1986.9 1058.7L1987.2 1060.9L1987.3 1109.4L1987.9 1099.1L1987.9 1064.7L1988.3 1126.4L1988.4 1065.8L1988.5 1055.4L1989 1099.8L1989.3 1054.9L1989.4 1098.6L1989.7 1101.5L1990 1052.6L1990.3 1111.3L1990.4 1062.4L1990.7 1057.7L1990.9 1101.3L1991.1 1061.9L1991.2 1102.3L1991.9 1099.7L1992 1071.2L1992.3 1056.8L1992.3 1108.9L1992.5 1064.9L1992.8 1115.7L1993.1 1104.3L1993.3 1070.3L1993.7 1061.1L1993.8 1112L1994.3 1102.1L1994.5 1056.7L1994.8 1059.5L1994.9 1114.4L1995.3 1071.3L1995.4 1111.4L1995.6 1107.8L1996 1057L1996.3 1064.1L1996.5 1102.4L1996.8 1057.5L1996.8 1104.9L1997.2 1101.5L1997.3 1061.8L1997.6 1112.8L1997.9 1061.1L1998.1 1071.2L1998.3 1117L1998.6 1051.5L1998.9 1091.7L1999.1 1111L1999.4 1069.9L1999.6 1065.3L2000 1110.5L2000.4 1062.6L2000.5 1110.4L2000.6 1062.2L2000.9 1108.8L2001.1 1043.6L2001.2 1124.4L2001.7 1056.2L2001.9 1095.7L2002 1125.4L2002.5 1070.5L2002.5 1109L2002.6 1061.9L2003.1 1059.6L2003.2 1109.6L2003.8 1061.6L2003.9 1111.8L2004.4 1118.7L2004.5 1062.3L2004.8 1059.9L2004.9 1106.2L2005.1 1104.1L2005.4 1066.5L2005.6 1102.8L2005.7 1060.3L2006.2 1042.8L2006.4 1112.7L2006.8 1107.1L2006.9 1061.7L2007.2 1068.2L2007.4 1122.5L2007.8 1116L2007.9 1060.8L2008.2 1051.2L2008.4 1114.5L2008.5 1109.8L2008.6 1054.8L2009.1 1052.6L2009.2 1095.1L2009.5 1056.5L2009.8 1096.9L2010.2 1062.8L2010.3 1120.9L2010.5 1098.3L2010.9 1058.6L2011.2 1042.7L2011.3 1105.3L2011.8 1051.7L2011.8 1134.8L2012.2 1110.5L2012.4 1062.4L2012.8 1044L2012.9 1094L2013.4 1102L2013.5 1060.1L2013.8 1048.4L2013.9 1100.7L2014.1 1058.1L2014.2 1105.3L2014.8 1108.6L2014.8 1051.4L2015.3 1069.3L2015.5 1113L2015.5 1048.3L2015.6 1109.9L2016.2 1054.4L2016.4 1102.8L2016.7 1105.8L2016.8 1057.4L2017.1 1111.8L2017.2 1051.9L2017.6 1102.7L2017.7 1061.4L2018.1 1127.2L2018.3 1065.7L2018.8 1125.9L2019 1051.3L2019.1 1095.2L2019.5 1056.7L2019.7 1107.5L2019.7 1055.4L2020.3 1068L2020.5 1113.1L2020.6 1062L2020.8 1105.8L2021.2 1073.4L2021.3 1103.3L2021.7 1067.7L2021.9 1098.6L2022.1 1065L2022.5 1114.5L2022.7 1042.7L2022.7 1106.6L2023.2 1064.7L2023.5 1133.4L2023.6 1136.7L2023.9 1064.4L2024 1036.3L2024.3 1109.2L2024.6 1060.6L2024.7 1098.8L2025.1 1118.5L2025.3 1065.9L2025.5 1102.5L2025.6 1055.5L2026.2 1060.2L2026.4 1104.4L2026.6 1099.9L2026.9 1061.1L2027 1114.9L2027.1 1059.9L2027.9 1066.2L2027.9 1107.8L2028 1113.5L2028.4 1058.6L2028.8 1045L2028.9 1105.2L2029.2 1109.3L2029.3 1056.7L2029.6 1120.2L2029.8 1064.2L2030.3 1046.3L2030.4 1102.8L2030.7 1051.3L2030.8 1105.2L2031.1 1064.8L2031.4 1105.8L2031.6 1109.8L2031.6 1049.1L2032.3 1102.4L2032.4 1066.6L2032.8 1102.5L2033 1066.2L2033 1065L2033.2 1105.8L2033.5 1056.3L2033.6 1089L2034.2 1064.1L2034.3 1124.9L2034.6 1045.4L2034.8 1102.2L2035 1063L2035.3 1098.4L2035.5 1055.7L2035.8 1117.9L2036.2 1053.9L2036.3 1104.8L2036.8 1113.3L2036.8 1061.8L2037 1034.7L2037.2 1129.6L2037.7 1104.9L2037.8 1056.6L2038 1114.6L2038.2 1052.4L2038.5 1057.8L2038.8 1129.1L2039.1 1049L2039.3 1121.7L2039.5 1098.9L2039.9 1055.4L2040.1 1053.8L2040.5 1111.3L2040.7 1100.2L2040.8 1062.5L2041.2 1061.6L2041.4 1110.7L2041.6 1055.1L2041.8 1096.7L2042.4 1054.1L2042.4 1118L2042.5 1094.5L2042.9 1047.6L2043 1058.6L2043.1 1100.7L2043.6 1060.4L2043.7 1115.4L2044.4 1124L2044.5 1055.4L2044.7 1128.5L2044.8 1061.9L2045.1 1033.1L2045.3 1118.3L2045.5 1064.9L2045.6 1114.7L2046.3 1058.4L2046.4 1103.3L2046.6 1058.5L2046.8 1102.8L2047.1 1114L2047.2 1062.7L2047.5 1110.2L2047.6 1062L2048.2 1109.1L2048.2 1057.9L2048.6 1051.1L2048.6 1109.8L2049 1102.4L2049.5 1061.6L2049.7 1105.3L2049.8 1046.2L2050.1 1104.2L2050.1 1061.4L2050.6 1108.1L2050.8 1049L2051.3 1113.8L2051.3 1061.8L2051.6 1109.9L2051.9 1057.3L2052.1 1054.4L2052.4 1103.2L2052.7 1054.6L2052.7 1106.9L2053.1 1068.2L2053.1 1103.1L2053.9 1051.4L2054 1128.7L2054.1 1073.9L2054.5 1104.8L2054.5 1058L2054.9 1145L2055.2 1058.1L2055.2 1112.6L2055.6 1066.6L2055.7 1126.4L2056 1060.3L2056.1 1125.2L2056.6 1109L2056.7 1052.8L2057.2 1107.8L2057.4 1061.6L2057.6 1102.5L2057.7 1064.4L2058.1 1116.5L2058.5 1057.9L2058.7 1050.2L2058.9 1118.2L2059.2 1107.7L2059.4 1048.5L2059.6 1116L2059.9 1059.7L2060.3 1106.3L2060.5 1048.1L2060.6 1050.2L2061 1112.2L2061.1 1113.3L2061.3 1047.1L2061.7 1105.4L2062 1048.1L2062.4 1050.5L2062.5 1123.4L2062.7 1128.2L2062.9 1064.2L2063.2 1120.7L2063.4 1057.5L2063.6 1123.6L2063.9 1058.2L2064.4 1055.3L2064.5 1121.8L2064.8 1109.8L2065 1043.6L2065.2 1111.3L2065.4 1054.4L2065.7 1119.2L2066 1065L2066.3 1105L2066.4 1050.5L2066.6 1094.9L2066.8 1052.4L2067 1053.1L2067.1 1124.5L2067.6 1058.1L2067.7 1107.2L2068.3 1066.6L2068.5 1108L2068.7 1060.5L2069 1115.6L2069 1060.7L2069.1 1115.9L2069.8 1115.5L2070 1062L2070.2 1053.9L2070.4 1110.2L2070.6 1058.3L2070.7 1117L2071.3 1049.9L2071.5 1112.1L2071.6 1062.5L2071.9 1117.5L2072.2 1117.1L2072.5 1057.3L2072.7 1069.6L2072.8 1106.7L2073.1 1119.4L2073.4 1055.5L2073.7 1057.2L2073.8 1102.6L2074.3 1057.6L2074.5 1116.8L2074.6 1119.9L2074.9 1064.5L2075.3 1110.9L2075.3 1050L2075.7 1106.4L2075.9 1070.9L2076.1 1131.1L2076.2 1049.1L2076.8 1110.7L2076.9 1060.3L2077.2 1056.2L2077.3 1105.2L2077.6 1120.6L2077.8 1059.3L2078 1111.8L2078.2 1052.2L2078.6 1043.2L2078.9 1108.5L2079.1 1057L2079.4 1126.8L2079.8 1048.1L2079.9 1103.3L2080.2 1114.4L2080.4 1053.2L2080.6 1056L2080.7 1095.4L2081 1059.1L2081.1 1104.6L2081.7 1112.6L2081.8 1064.4L2082.2 1128.7L2082.4 1043.3L2082.8 1097L2082.9 1064.4L2083.2 1052.8L2083.3 1107.2L2083.6 1062.1L2083.7 1113.1L2084.2 1068.2L2084.3 1115.6L2084.6 1128.5L2085 1060.8L2085.3 1053.6L2085.5 1118.4L2085.6 1105.6L2085.7 1049.9L2086.1 1058.8L2086.4 1104.7L2086.5 1113.4L2086.6 1055.4L2087.4 1062.4L2087.4 1125.3L2087.6 1114.7L2087.7 1051.7L2088.1 1045.2L2088.4 1109.3L2088.7 1055.3L2088.7 1103.9L2089.1 1064.2L2089.2 1113.6L2089.6 1104.3L2089.7 1056.6L2090.4 1110.8L2090.5 1058.5L2090.8 1111.1L2090.9 1056.4L2091.3 1059.8L2091.4 1106.3L2091.8 1067.7L2091.9 1124.3L2092.1 1112.9L2092.3 1063L2092.7 1053.9L2093 1092.2L2093.1 1108.1L2093.4 1051.2L2093.7 1121.2L2093.8 1058.9L2094.1 1054.3L2094.2 1103.2L2094.7 1055.6L2094.8 1124.9L2095.3 1108.1L2095.3 1046.8L2095.9 1116.2L2095.9 1050.2L2096.1 1061L2096.2 1117L2096.6 1052.9L2096.7 1102.5L2097.4 1056.7L2097.4 1120L2097.5 1115L2097.9 1051.1L2098.1 1050.2L2098.3 1113.8L2098.6 1054.4L2098.7 1109.2L2099.1 1100.8L2099.2 1053.9L2099.6 1056.1L2099.8 1105.9L2100.3 1061.8L2100.5 1102.9L2100.7 1054.9L2100.7 1122.2L2101.2 1108.8L2101.4 1050.9L2101.8 1045.2L2101.9 1114.3L2102.2 1062.9L2102.3 1105.1L2102.7 1100.8L2102.9 1053.5L2103.2 1056L2103.4 1091L2103.6 1052.6L2103.7 1125.1L2104.1 1063.4L2104.1 1115.1L2104.6 1096.8L2104.6 1058.5L2105.3 1054.5L2105.5 1110.2L2105.8 1113.1L2105.8 1053.5L2106 1111.2L2106.1 1056.6L2106.6 1061.9L2106.6 1108.7L2107.2 1057.4L2107.3 1120.2L2107.9 1111.8L2108 1049L2108 1051.6L2108.3 1118L2108.7 1124.2L2108.9 1057.6L2109.3 1130L2109.4 1052.6L2109.5 1059.8L2110 1103.6L2110.2 1050.8L2110.3 1109.1L2110.9 1105.3L2110.9 1046.4L2111.2 1055.9L2111.4 1117.8L2111.5 1110.9L2111.8 1064.2L2112.2 1106.3L2112.3 1047L2112.7 1049.5L2112.7 1105.2L2113 1053.9L2113.1 1105.2L2113.5 1047.3L2113.8 1113.6L2114.1 1118.8L2114.5 1050.9L2114.8 1063.5L2115 1124.5L2115.4 1056.6L2115.5 1116.2L2115.6 1118.6L2115.6 1059L2116.1 1105.5L2116.2 1060.6L2116.6 1049L2116.8 1108.8L2117.1 1114.7L2117.4 1057.7L2117.7 1126L2117.7 1041.5L2118.3 1106.9L2118.3 1046.8L2118.6 1055.2L2119 1113.2L2119.1 1115.9L2119.4 1058.8L2119.9 1061.3L2120 1100.6L2120 1104.1L2120.1 1060.3L2120.7 1103L2120.8 1054.4L2121 1060L2121.5 1103.7L2121.6 1053L2122 1112.9L2122.1 1063.4L2122.2 1118.9L2122.7 1055.8L2122.9 1137.8L2123 1048.4L2123.3 1116.9L2123.7 1114.8L2123.8 1060.1L2124.1 1101.8L2124.3 1071.3L2124.7 1050.3L2124.8 1138.1L2125.3 1108.6L2125.3 1057.5L2125.6 1136.3L2126 1056.1L2126.2 1041.8L2126.3 1110.8L2126.7 1054.5L2126.9 1111.4L2127.2 1052.7L2127.2 1122.4L2127.5 1057.9L2127.8 1124.2L2128.1 1056.6L2128.2 1112.6L2128.6 1049.5L2128.8 1140L2129 1052.5L2129.2 1105.5L2129.7 1047.4L2129.8 1137.5L2130.1 1109.2L2130.3 1044.1L2130.9 1056.4L2131 1104.6L2131.3 1057.8L2131.4 1125.1L2131.7 1058.6L2131.9 1106.7L2132.2 1065.8L2132.4 1128.1L2132.7 1061.1L2132.8 1111.6L2133 1131.4L2133.1 1047.8L2133.6 1109.3L2133.8 1054.7L2134.4 1118.1L2134.5 1051.1L2134.7 1059.8L2134.9 1123.4L2135.3 1055L2135.5 1117.4L2135.8 1049.9L2136 1117.8L2136 1106.1L2136 1059.5L2136.7 1064.4L2136.9 1132.5L2137 1102L2137.3 1056.6L2137.6 1116.6L2137.8 1051.4L2138.3 1063L2138.4 1110.5L2138.8 1098.5L2138.9 1057.5L2139.4 1109.2L2139.4 1059.7L2139.5 1124.2L2139.5 1056.9L2140 1042.7L2140.3 1111.8L2140.6 1061.3L2140.8 1105.6L2141.1 1053.2L2141.3 1118.4L2141.7 1055.9L2141.8 1133.2L2142 1053.2L2142.1 1123.3L2142.5 1057.9L2142.7 1105.3L2143.1 1115.7L2143.3 1054.2L2143.5 1047.3L2143.6 1103.6L2144.1 1051.7L2144.3 1114.2L2144.6 1048.2L2144.7 1113.6L2145.1 1118L2145.3 1048.4L2145.6 1055.9L2145.7 1115.7L2146.4 1119.3L2146.4 1051.2L2146.7 1103.4L2146.7 1059L2147.2 1054.6L2147.4 1111L2147.5 1118.7L2147.9 1055.1L2148.3 1109.8L2148.4 1055.9L2148.6 1065.3L2148.8 1115.8L2149.1 1115.8L2149.4 1053L2149.5 1053.3L2149.6 1122.6L2150.4 1052.7L2150.5 1111.9L2150.5 1065.5L2150.6 1110.5L2151 1052.7L2151.4 1107.2L2151.5 1059.4L2151.7 1137.2L2152.2 1039.8L2152.4 1110.3L2152.6 1105.3L2152.8 1056.4L2153.1 1055.6L2153.4 1114.9L2153.9 1118.6L2153.9 1060.2L2154 1053.7L2154.3 1106L2154.5 1103.5L2154.9 1046.7L2155.2 1128.2L2155.4 1051.2L2155.5 1056.6L2155.9 1127L2156 1116.7L2156.2 1060.5L2156.6 1109.2L2156.7 1048.7L2157.3 1105L2157.4 1054.1L2157.6 1057.3L2157.9 1111.7L2158.1 1124.8L2158.1 1054.1L2158.5 1115.8L2158.6 1046.8L2159.3 1140L2159.5 1062.5L2159.5 1125.4L2159.9 1053.8L2160 1034.1L2160.3 1102.3L2160.5 1123.2"/>
<path stroke="#ff0000" d="M396.4 595.9L526.6 548.7L602.8 578L656.8 601L698.7 599L733 559.7L761.9 501.5L787 446.3L809.1 439.7L828.9 447L846.8 452L863.1 397L878.2 381L892.1 398.9L905 449.2L917.2 510.6L928.6 509.3L939.3 506.1L949.4 549.5L959.1 572.5L968.2 569.3L977 600.5L985.3 604.4L993.3 630.5L1001 658.6L1008.4 678L1015.4 700L1022.3 722L1028.9 731L1035.2 755L1041.4 765.6L1047.3 789.9L1053.1 797.5L1058.7 763L1064.2 756.7L1069.5 763L1074.6 795L1079.6 809.6L1084.5 782.9L1089.3 772.7L1093.9 802.6L1098.4 788.6L1102.8 774L1107.2 780.3L1111.4 791.8L1115.5 760L1119.5 759.6L1123.5 759.6L1127.4 768.8L1131.2 777.8L1134.9 768.8L1138.5 731.8L1142.1 724.2L1145.6 735L1149.1 711.4L1152.5 695.5L1155.8 717.8L1159 712.7L1162.3 646.4L1165.4 615L1168.5 601.8L1171.6 612L1174.6 643.8L1177.5 672L1180.4 682L1183.3 672L1186.1 670.6L1188.9 652.8L1191.7 678L1194.4 706L1197 678L1199.7 645L1202.2 647.7L1204.8 659L1207.3 645L1209.8 638L1212.3 697L1214.7 760L1217.1 760L1219.4 758L1221.8 750L1224.1 745L1226.4 755L1228.6 765L1230.8 768L1233 770L1235.2 768L1237.3 765L1239.5 763L1241.6 755L1243.6 745L1245.7 735L1247.7 725L1249.7 719L1251.7 721L1253.7 724L1255.6 722L1257.6 730L1259.5 770L1261.3 800L1263.2 830L1265.1 832L1266.9 820L1268.7 810L1270.5 804L1272.3 804L1274.1 803L1275.8 803L1277.5 815L1279.2 831L1280.9 850L1282.6 868L1284.3 870L1286 858L1287.6 862L1289.2 870L1290.8 850L1292.4 830L1294 812L1295.6 810L1297.1 838L1298.7 845L1300.2 850L1301.7 853L1303.3 863.9L1304.8 854.1L1306.2 836.6L1307.7 820.4L1309.2 826.6L1310.6 826L1312.1 859.8L1313.5 882.2L1314.9 866.7L1316.3 843.2L1317.7 846.1L1319.1 832.3L1320.5 821.5L1321.8 820.3L1323.2 824.6L1324.5 870.1L1325.9 892.6L1327.2 907.2L1328.5 856.6L1329.8 821.3L1331.1 839.1L1332.4 847.1L1333.7 836.9L1335 829.2L1336.2 834.7L1337.5 826.4L1338.7 809.5L1340 788.6L1341.2 678L1342.4 485L1343.7 485L1344.9 678L1346.1 788.6L1347.3 796.4L1348.4 830.6L1349.6 834.7L1350.8 819.8L1352 818.7L1353.1 848.5L1354.3 835.9L1355.4 835.6L1356.5 834.6L1357.7 831.2L1358.8 820.1L1359.9 782.9L1361 718L1362.1 782.9L1363.2 820.1L1364.3 831.2L1365.4 834.6L1366.5 835.6L1367.5 877.9L1368.6 863.7L1369.6 837.1L1370.7 814.1L1371.7 831.4L1372.8 857.3L1373.8 893.4L1374.8 889L1375.9 896.4L1376.9 864.1L1377.9 852.9L1378.9 829.8L1379.9 869.8L1380.9 856.7L1381.9 825.4L1382.9 825.2L1383.9 824.3L1384.8 821.5L1385.8 808.6L1386.8 780.3L1387.7 733L1388.7 725L1389.6 733L1390.6 780.3L1391.5 806.2L1392.5 821.5L1393.4 824.3L1394.3 791.2L1395.2 754.2L1396.2 778.5L1397.1 802.3L1398 836.1L1398.9 854.9L1399.8 839.4L1400.7 829.1L1401.6 828.7L1402.5 821.1L1403.4 820.9L1404.2 813L1405.1 818.5L1406 813.2L1406.9 838.5L1407.7 864.2L1408.6 851.6L1409.4 838.8L1410.3 834.7L1411.1 814.3L1412 816.4L1412.8 822.3L1413.7 842.5L1414.5 833.6L1415.3 780.7L1416.1 773.6L1417 795.9L1417.8 797.3L1418.6 803.7L1419.4 787.2L1420.2 828.8L1421 836.1L1421.8 833.1L1422.6 806L1423.4 793.6L1424.2 823.4L1425 812L1425.8 773.7L1426.6 707L1427.3 707L1428.1 773.7L1428.9 811.5L1429.6 782.4L1430.4 808.1L1431.2 817.5L1431.9 798.8L1432.7 823L1433.4 822L1434.2 779.6L1434.9 813.1L1435.7 830.2L1436.4 842.3L1437.2 837.2L1437.9 797.5L1438.6 777.9L1439.4 812.8L1440.1 854.6L1440.8 869.9L1441.5 839L1442.2 799.3L1443 847.9L1443.7 888.7L1444.4 825.2L1445.1 820.5L1445.8 864.2L1446.5 864.1L1447.2 858.1L1447.9 867.8L1448.6 848.2L1449.3 852.5L1450 850.8L1450.7 854.4L1451.3 854.4L1452 872.4L1452.7 883.7L1453.4 866.4L1454.1 868.5L1454.7 891.8L1455.4 873.1L1456.1 854.2L1456.7 881.4L1457.4 884.2L1458 894L1458.7 910.5L1459.4 911.2L1460 902.5L1460.7 872.1L1461.3 888.6L1462 896.4L1462.6 862.9L1463.2 838.9L1463.9 828L1464.5 796.8L1465.2 806.7L1465.8 833.9L1466.4 824.8L1467.1 796.4L1467.7 795.5L1468.3 803L1468.9 842.9L1469.6 884.1L1470.2 874.3L1470.8 832.2L1471.4 824.5L1472 826.3L1472.6 838.7L1473.2 825.3L1473.8 833.5L1474.4 835L1475 843.8L1475.6 812.3L1476.2 819.7L1476.8 832.9L1477.4 803.8L1478 828.2L1478.6 827.8L1479.2 826.5L1479.8 822.3L1480.4 808.2L1481 761.1L1481.6 679L1482.1 761.1L1482.7 808.2L1483.3 822.3L1483.9 825.9L1484.4 826.9L1485 830.8L1485.6 828.6L1486.2 712.7L1486.7 795.1L1487.3 775.8L1487.8 805.7L1488.4 824.9L1489 808.3L1489.5 815.8L1490.1 818.3L1490.6 830.9L1491.2 851.1L1491.7 851.4L1492.3 814L1492.8 788.6L1493.4 843.7L1493.9 866L1494.5 845.2L1495 849.9L1495.6 830.6L1496.1 834.8L1496.6 844.8L1497.2 838.5L1497.7 837.1L1498.2 800.9L1498.8 788.6L1499.3 778.1L1499.8 806.8L1500.4 844.4L1500.9 821.4L1501.4 787.7L1501.9 807.9L1502.4 807.1L1503 782.9L1503.5 782.4L1504 765.8L1504.5 714L1505 714L1505.5 737.2L1506.1 702.3L1506.6 728.4L1507.1 734.9L1507.6 728.9L1508.1 722L1508.6 728.9L1509.1 727.3L1509.6 723.5L1510.1 748L1510.6 797.8L1511.1 780.7L1511.6 735.6L1512.1 742.3L1512.6 755.3L1513.1 774.5L1513.6 777L1514 780.8L1514.5 787L1515 792.8L1515.5 807L1516 825.8L1516.5 851.1L1517 828.7L1517.4 810.5L1517.9 821.9L1518.4 802.2L1518.9 789.8L1519.3 801.7L1519.8 836.9L1520.3 852.1L1520.8 806.7L1521.2 771.5L1521.7 789.9L1522.2 819.8L1522.6 815.3L1523.1 803.4L1523.6 766.3L1524 807.9L1524.5 838.6L1525 829.3L1525.4 792.2L1525.9 825.7L1526.3 845.1L1526.8 804.3L1527.3 815.4L1527.7 821.7L1528.2 808.5L1528.6 804L1529.1 823.2L1529.5 807.9L1530 799.7L1530.4 793.6L1530.9 796.1L1531.3 837.8L1531.8 807.8L1532.2 805.6L1532.7 811.4L1533.1 815.2L1533.5 781.5L1534 809.3L1534.4 823.8L1534.9 831.2L1535.3 814.3L1535.7 773.9L1536.2 780.7L1536.6 790.9L1537 772L1537.5 787.2L1537.9 777.7L1538.3 746.1L1538.8 691L1539.2 746.1L1539.6 777.7L1540 787.2L1540.5 790L1540.9 785.7L1541.3 785.3L1541.7 793.5L1542.2 791.8L1542.6 761.1L1543 766.7L1543.4 760.4L1543.8 766L1544.3 783.1L1544.7 782.9L1545.1 782.1L1545.5 740.1L1545.9 766.4L1546.3 743.7L1546.7 695.5L1547.1 723.3L1547.6 758.8L1548 776.3L1548.4 737.6L1548.8 782.9L1549.2 781.4L1549.6 785.7L1550 775.7L1550.4 754L1550.8 760.8L1551.2 787.5L1551.6 805.4L1552 765.3L1552.4 750.3L1552.8 770.5L1553.2 768.4L1553.6 761.4L1554 737.9L1554.4 696.8L1554.8 737.9L1555.2 705.3L1555.6 768.4L1556 770.5L1556.3 771.2L1556.7 811.5L1557.1 765.2L1557.5 711.5L1557.9 757L1558.3 727.1L1558.7 727L1559.1 695.9L1559.4 774.4L1559.8 735.1L1560.2 731.7L1560.6 770.9L1561 797.2L1561.4 792.9L1561.7 753.4L1562.1 723.5L1562.5 731.7L1562.9 740.6L1563.2 761L1563.6 766.4L1564 793.8L1564.4 793.6L1564.7 767.4L1565.1 744.8L1565.5 754L1565.9 745.6L1566.2 736.4L1566.6 749.5L1567 739.2L1567.3 714.7L1567.7 715.6L1568.1 772.3L1568.4 755.7L1568.8 689.9L1569.2 767.8L1569.5 784.1L1569.9 818L1570.3 749.8L1570.6 767L1571 770.7L1571.3 739.2L1571.7 735.6L1572.1 745.9L1572.4 733.1L1572.8 781.3L1573.1 766.1L1573.5 761.8L1573.9 745.3L1574.2 700L1574.6 745.3L1574.9 771.2L1575.3 738.3L1575.6 781.3L1576 780.6L1576.3 793.2L1576.7 794.4L1577 810.6L1577.4 760.2L1577.7 770.5L1578.1 777.1L1578.4 819L1578.8 841.6L1579.1 771.2L1579.5 816L1579.8 845.1L1580.2 827.9L1580.5 819.1L1580.8 803.3L1581.2 824.3L1581.5 852.4L1581.9 867.5L1582.2 871.3L1582.5 807.8L1582.9 812.5L1583.2 831L1583.6 820.3L1583.9 817.3L1584.2 840.2L1584.6 855.7L1584.9 839.7L1585.2 843.3L1585.6 860.8L1585.9 899.5L1586.2 887.3L1586.6 894.2L1586.9 849.8L1587.2 853.9L1587.6 866.6L1587.9 870.2L1588.2 863.3L1588.6 860.5L1588.9 870.3L1589.2 859.1L1589.5 855.2L1589.9 854.1L1590.2 879.6L1590.5 911.4L1590.8 879.2L1591.2 880.1L1591.5 885.9L1591.8 895.5L1592.1 903.2L1592.5 888.1L1592.8 898.6L1593.1 882.7L1593.4 880.5L1593.7 897.8L1594.1 869.4L1594.4 869.1L1594.7 890.6L1595 852.9L1595.3 894.9L1595.7 890.8L1596 873.2L1596.3 886.9L1596.6 928.8L1596.9 915.3L1597.2 894.5L1597.6 928.4L1597.9 922.9L1598.2 895.3L1598.5 917.7L1598.8 938.5L1599.1 902L1599.4 925.7L1599.7 924.5L1600 938.8L1600.4 880.7L1600.7 912L1601 889.2L1601.3 886.6L1601.6 927.2L1601.9 920.8L1602.2 915.8L1602.5 929.6L1602.8 918.2L1603.1 931.4L1603.4 937.5L1603.7 903.4L1604 887.6L1604.3 867.8L1604.6 927.2L1604.9 911.4L1605.2 910.9L1605.5 895.2L1605.8 895.9L1606.1 906.4L1606.4 915.5L1606.7 972.4L1607 938.2L1607.3 894.7L1607.6 895.3L1607.9 890.7L1608.2 897L1608.5 915.4L1608.8 938.7L1609.1 946.7L1609.4 901.9L1609.7 905.3L1610 930L1610.3 916.9L1610.6 913.6L1610.9 890.5L1611.2 932.1L1611.4 931.4L1611.7 926L1612 915.2L1612.3 912.1L1612.6 922.7L1612.9 908.2L1613.2 898.8L1613.5 934.1L1613.8 946.1L1614 945.9L1614.3 916.2L1614.6 975L1614.9 944L1615.2 951.4L1615.5 932.8L1615.8 942.3L1616 947.7L1616.3 922.3L1616.6 948.6L1616.9 950.9L1617.2 940.9L1617.5 948.9L1617.7 936.1L1618 939.1L1618.3 967.3L1618.6 954.9L1618.9 917L1619.1 951.4L1619.4 942.3L1619.7 978.2L1620 956.5L1620.3 957.8L1620.5 967.1L1620.8 947.6L1621.1 957.6L1621.4 965.3L1621.6 947.8L1621.9 947.5L1622.2 947.7L1622.5 939.3L1622.7 938.3L1623 962.6L1623.3 956.2L1623.6 953.8L1623.8 932.8L1624.1 946.6L1624.4 946.3L1624.7 921L1624.9 877L1625.2 877L1625.5 921L1625.7 938.3L1626 932.7L1626.3 946.1L1626.5 956.8L1626.8 957L1627.1 979.7L1627.4 973.5L1627.6 968.9L1627.9 968.1L1628.2 986.3L1628.4 971.6L1628.7 950.1L1628.9 965.6L1629.2 958L1629.5 925.2L1629.7 868L1630 868L1630.3 925.2L1630.5 958L1630.8 967.8L1631.1 970.7L1631.3 971.6L1631.6 971.9L1631.8 949.8L1632.1 982.3L1632.4 994.4L1632.6 972.9L1632.9 997.8L1633.1 981.9L1633.4 986.4L1633.7 956.9L1633.9 980.1L1634.2 967.9L1634.4 976.9L1634.7 957.2L1635 972.5L1635.2 974.6L1635.5 964.6L1635.7 971.9L1636 997.8L1636.2 972.1L1636.5 968.4L1636.7 985.7L1637 1016L1637.3 993.9L1637.5 991.8L1637.8 978.5L1638 979.6L1638.3 1002.7L1638.5 996.5L1638.8 969.8L1639 987.1L1639.3 982.9L1639.5 980.9L1639.8 988L1640 956.5L1640.3 1024.4L1640.5 1004.7L1640.8 986.7L1641 983.2L1641.3 984L1641.5 985.9L1641.8 990.9L1642 976.7L1642.3 980.4L1642.5 984.7L1642.8 1008.6L1643 999.4L1643.5 980.6L1643.7 996.9L1644 1000.3L1644.2 987.7L1644.5 999.1L1644.7 981.7L1645 1011.1L1645.2 982.9L1645.4 974.1L1645.7 1001.7L1645.9 999.3L1646.2 994.9L1646.4 986.9L1646.7 972.3L1646.9 945.7L1647.1 897.2L1647.4 823.1L1647.6 806.9L1647.9 801.3L1648.1 791.8L1648.6 804.6L1648.8 803.5L1649.1 814.3L1649.3 897.2L1649.5 945.7L1649.8 972.3L1650 986.9L1650.5 999.3L1650.7 1001.7L1651 1003L1651.2 1003.7L1651.4 994.9L1651.7 1017.4L1651.9 1002.6L1652.1 1012L1652.4 1015.7L1652.6 988.2L1652.8 1045.9L1653.1 1007.1L1653.3 1011.4L1653.5 1028.1L1654 1015.7L1654.2 1026.8L1654.5 1007.6L1654.7 1009.8L1654.9 1006.5L1655.2 1017.8L1655.4 1041L1655.6 1013.7L1655.8 1039.1L1656.1 1024.3L1656.3 1023.8L1656.5 1000.5L1656.8 1013.3L1657.2 1016.7L1657.4 1020.7L1657.7 1007.2L1657.9 1031L1658.1 1024.8L1658.4 1034.1L1658.6 1019.2L1658.8 1023.4L1659.3 1016L1659.5 1025.2L1659.7 1026L1659.9 1015L1660.2 1030.5L1660.4 1034L1660.6 1011L1660.8 1042.6L1661.1 1030.7L1661.3 1035.6L1661.5 1033.5L1661.7 1014.8L1662.2 1032.2L1662.4 1020.4L1662.6 1024.9L1662.8 1002.6L1663.1 1024.5L1663.3 1019.5L1663.7 1018.9L1663.9 1041.2L1664.2 1016.5L1664.4 1033.2L1664.6 1028.3L1664.8 1019.5L1665 1018.5L1665.5 1020.1L1665.7 1048.5L1665.9 1033.7L1666.1 1021.6L1666.3 1045.4L1666.8 1013.8L1667 1058.3L1667.2 1045.2L1667.4 1007.8L1667.6 1045.5L1667.9 1033.4L1668.1 1053.7L1668.3 1034.7L1668.5 1028.2L1668.9 1051.3L1669.2 1036.2L1669.4 1041.9L1669.6 1028.2L1669.8 1029.7L1670 1053.2L1670.2 1025.4L1670.6 1071.6L1670.9 1045.9L1671.1 1029.5L1671.5 1014.7L1671.7 1042.5L1671.9 1042.3L1672.1 1046L1672.3 1044.6L1672.5 1039.6L1673 1055.4L1673.2 1041.4L1673.4 1038.1L1673.6 1058.7L1673.8 1045.4L1674 1027.7L1674.2 1073.5L1674.6 1059.5L1674.8 1051.5L1675.1 1084.5L1675.3 1033.5L1675.7 1043.7L1675.9 1075.2L1676.1 1055.4L1676.3 1072.8L1676.5 1052.9L1676.9 1033.9L1677.1 1031.2L1677.3 1061.3L1677.5 1039.4L1677.9 1063.2L1678.1 1026.5L1678.3 1076.2L1678.6 1078.4L1679 1059.3L1679.2 1069.6L1679.4 1034.2L1679.6 1079L1680 1051.1L1680.2 1047.1L1680.4 1053.1L1680.8 1045.7L1681 1079.9L1681.2 1045.1L1681.4 1045.1L1681.8 1063.2L1682 1055.1L1682.2 1056L1682.4 1045.3L1682.6 1067.8L1683 1032.9L1683.2 1066.8L1683.4 1045.8L1683.6 1049.7L1683.8 1060.3L1684.2 1024.2L1684.4 1056.8L1684.8 1073.3L1685 1026.2L1685.2 1063.8L1685.4 1050.3L1685.7 1073.3L1685.9 1037.2L1686.1 1061.9L1686.3 1058.6L1686.5 1070L1686.7 1052.6L1687.1 1072.4L1687.3 1052.4L1687.5 1058.3L1687.9 1051.8L1688.3 1067.7L1688.5 1049.4L1688.7 1067.2L1688.9 1057.8L1689 1075.4L1689.2 1040.6L1689.6 1034.4L1689.8 1040.4L1690 1054.5L1690.2 1038.2L1690.6 1058.3L1690.8 1052.6L1691.2 1043.9L1691.3 1069.9L1691.5 1070.9L1691.9 1026.9L1692.1 1072.4L1692.5 1055.9L1692.7 1054.4L1692.9 1046.6L1693.2 1064L1693.4 1050.3L1693.6 1089.5L1694 1038.4L1694.2 1053.5L1694.4 1076.7L1694.6 1065.3L1694.7 1036.8L1695.1 1060.6L1695.5 1043.7L1695.7 1082.2L1695.9 1058.7L1696 1061L1696.4 1063L1696.6 1042.2L1697 1057.5L1697.2 1064.8L1697.3 1058.4L1697.5 1075L1697.7 1038.3L1698.1 1062.1L1698.3 1073.1L1698.8 1074.3L1699 1054.1L1699.2 1060.8L1699.4 1040.8L1699.5 1081.3L1699.7 1048.6L1700.1 1071.3L1700.4 1070.5L1700.6 1065.6L1701 1048.5L1701.2 1051.3L1701.3 1053.1L1701.7 1072.2L1701.9 1046.7L1702.1 1070.5L1702.2 1049.8L1702.6 1060.6L1703 1071.5L1703.1 1086.5L1703.3 1058L1703.7 1048.2L1703.9 1079.6L1704 1075.5L1704.2 1055.8L1704.6 1092.8L1704.7 1062.8L1705.1 1083.1L1705.5 1068.2L1705.6 1067.8L1705.8 1083.7L1706.2 1066.7L1706.3 1062.8L1706.5 1058.4L1706.9 1078.3L1707.2 1106.8L1707.4 1047.1L1707.7 1083.9L1707.9 1066.8L1708.1 1053.3L1708.4 1075.8L1708.6 1086L1709 1068.7L1709.1 1065.7L1709.5 1078.7L1709.8 1070.8L1710 1059.9L1710.2 1094.7L1710.3 1075.2L1710.5 1053.8L1710.8 1089.3L1711 1081L1711.2 1054.5L1711.5 1057L1711.7 1073.8L1712 1071.9L1712.4 1088.7L1712.6 1068L1712.9 1054.8L1713.2 1081.9L1713.4 1099.4L1713.6 1075.7L1713.9 1042.3L1714.2 1076.9L1714.4 1034.5L1714.6 1073.6L1714.9 1069.6L1715.1 1060.7L1715.3 1080.1L1715.8 1076.8L1715.9 1060.5L1716.1 1079.4L1716.4 1038.9L1716.6 1110L1716.8 1044.5L1717.1 1075L1717.4 1060.4L1717.8 1046.4L1717.9 1078.1L1718.2 1051.4L1718.4 1072.2L1718.7 1060L1718.9 1079.3L1719.2 1059.7L1719.4 1087.8L1719.7 1051.8L1719.9 1077.2L1720.1 1066.3L1720.4 1054.2L1720.5 1083.4L1720.9 1049.6L1721 1089.9L1721.2 1078.7L1721.5 1095.8L1721.8 1055.3L1722 1073.5L1722.5 1102.4L1722.6 1094.9L1722.8 1063.7L1723.1 1059L1723.3 1068.6L1723.6 1070.4L1723.8 1056.4L1724.1 1062.8L1724.3 1089.7L1724.6 1058.1L1724.7 1079.6L1725 1071.2L1725.2 1095.1L1725.7 1064L1725.8 1074.2L1726.2 1081.2L1726.5 1053.1L1726.6 1095L1726.9 1079.4L1727.1 1057.7L1727.3 1083.8L1727.6 1091.2L1727.9 1070.7L1728.2 1039.3L1728.4 1074.6L1728.5 1078.8L1728.7 1064.3L1729.3 1071.9L1729.4 1080.9L1729.6 1081.7L1729.8 1069.5L1730.2 1071.7L1730.4 1092.4L1730.5 1095.5L1730.7 1046.4L1731.3 1092.3L1731.5 1063.3L1731.8 1050.1L1731.9 1074.5L1732.1 1063.5L1732.2 1072.7L1732.7 1045.3L1732.8 1108.2L1733.1 1076L1733.3 1103.2L1733.6 1070.5L1733.7 1089.1L1734.1 1088.2L1734.2 1064.4L1734.5 1049.2L1735 1085.8L1735.1 1092.6L1735.3 1059.9L1735.6 1092.5L1735.7 1103.7L1736 1071.6L1736.3 1085.6L1736.6 1065.2L1736.8 1074.2L1737.1 1082.4L1737.4 1097.7L1737.8 1054.7L1738 1096.4L1738.1 1058.1L1738.4 1103.1L1738.8 1048L1739 1078.2L1739.1 1061.9L1739.4 1074.4L1739.7 1094.4L1739.9 1065.1L1740.3 1066.8L1740.5 1093.3L1740.8 1111L1740.9 1072.8L1741 1066.2L1741.5 1085.9L1741.6 1052.4L1741.9 1087.8L1742.1 1049.1L1742.2 1106.9L1742.8 1058.2L1742.9 1099.8L1743.1 1086.5L1743.4 1093.8L1743.7 1104.6L1743.9 1058.8L1744.2 1051.6L1744.4 1089.4L1744.5 1088.2L1744.8 1066.7L1745.1 1074L1745.2 1050L1745.5 1090.6L1745.9 1058.5L1746.1 1101.2L1746.4 1072.9L1746.8 1078.4L1746.9 1104.9L1747.1 1078.7L1747.4 1084.7L1747.5 1097.2L1747.6 1057.3L1748.1 1045L1748.5 1132.1L1748.6 1081L1748.9 1067.9L1749.1 1082.3L1749.3 1098.3L1749.6 1103.7L1749.9 1071.5L1750 1085.3L1750.2 1092.3L1750.6 1064.3L1750.7 1105.1L1751.3 1054.8L1751.4 1087.4L1751.6 1082.2L1751.7 1061.6L1752.2 1114.4L1752.4 1061.8L1752.5 1080.7L1752.8 1048.1L1753.3 1067.9L1753.5 1116.2L1753.7 1096.5L1753.9 1073.5L1754.2 1059.1L1754.4 1086L1754.8 1083L1755 1059.3L1755.2 1077.5L1755.4 1093.1L1755.5 1047L1755.7 1093.1L1756.1 1076.4L1756.2 1084.1L1756.6 1096.8L1756.7 1073.1L1757.1 1053.7L1757.3 1098.5L1757.5 1083.6L1757.7 1067.7L1758.1 1048L1758.2 1085.6L1758.7 1106.2L1759 1054L1759.1 1110.8L1759.4 1083.7L1759.8 1099.8L1759.9 1061.1L1760.2 1066.5L1760.3 1126L1760.6 1063.8L1760.8 1108L1761.1 1099.2L1761.4 1049.6L1761.6 1060.1L1761.8 1096L1762.3 1025.7L1762.4 1080.1L1762.5 1085.9L1762.9 1067L1763.1 1109.9L1763.3 1047.8L1763.7 1079.9L1764 1050.9L1764.1 1082.4L1764.5 1058.7L1764.7 1082.7L1764.9 1052.1L1765.1 1057.7L1765.4 1103.6L1765.6 1116.2L1765.9 1079.8L1766 1068.4L1766.3 1089.9L1766.8 1097.9L1766.9 1062.7L1767.1 1070.3L1767.2 1090.2L1767.6 1087.5L1767.7 1067.1L1768.2 1082L1768.4 1057.6L1768.6 1043.9L1768.7 1101.6L1769.2 1068.5L1769.5 1089L1769.7 1042.1L1770 1091L1770.2 1093L1770.5 1064.1L1770.6 1057.7L1770.7 1109.4L1771.1 1076.3L1771.3 1103L1771.6 1060.7L1771.9 1093.2L1772.1 1104.3L1772.4 1080.5L1772.7 1118.1L1772.8 1061.4L1773.1 1093L1773.3 1061.3L1773.6 1101.9L1773.8 1061.9L1774.2 1048L1774.3 1089.7L1774.5 1104.7L1774.8 1071.3L1775.3 1079.8L1775.4 1071.4L1775.7 1093.4L1775.9 1059.4L1776.4 1059.2L1776.5 1091.5L1776.6 1097.9L1776.7 1050L1777.1 1065.8L1777.2 1080.2L1777.7 1044L1777.8 1099L1778.2 1095.2L1778.4 1046.6L1778.8 1108.6L1778.9 1054.1L1779.2 1081.2L1779.5 1048L1779.6 1091.1L1779.8 1056.7L1780.3 1087.7L1780.4 1057.7L1780.5 1088.3L1780.8 1058.1L1781.4 1106.4L1781.5 1067.1L1781.6 1070.4L1782 1109L1782.1 1067.1L1782.3 1078.3L1782.7 1064L1782.9 1097.9L1783.1 1094.9L1783.4 1066.1L1783.7 1060.9L1783.8 1088.6L1784.2 1101.5L1784.4 1076L1784.5 1056.2L1784.8 1103.3L1785.2 1063L1785.4 1084.6L1785.8 1085.4L1785.9 1070.1L1786 1079.1L1786.3 1057.2L1786.7 1083.3L1786.9 1068.1L1787.1 1055.7L1787.2 1093.1L1787.5 1086L1787.7 1072.6L1788.3 1093.4L1788.4 1065.7L1788.5 1066.9L1788.7 1086.2L1789.1 1041.1L1789.3 1067L1789.8 1055.4L1789.9 1095.5L1790.1 1088.5L1790.3 1069.6L1790.8 1092.8L1790.9 1056.8L1791 1110.7L1791.1 1058L1791.7 1033.5L1791.9 1092.8L1792.4 1053.4L1792.5 1066.8L1792.6 1050.7L1792.7 1085.3L1793.2 1064.5L1793.5 1100.3L1793.6 1106.6L1793.9 1056.4L1794 1085.2L1794.2 1057.9L1794.8 1084.8L1794.9 1105L1795 1120.1L1795.4 1056.4L1795.5 1081.5L1795.9 1057L1796.2 1090.7L1796.3 1054.2L1796.5 1074L1796.9 1118.9L1797.1 1070.2L1797.3 1100.8L1797.6 1089.8L1797.9 1081.1L1798.3 1068.6L1798.5 1072.7L1798.8 1047.2L1798.9 1109L1799.1 1049.3L1799.2 1115.8L1799.9 1068L1800 1083.4L1800.1 1069.6L1800.2 1091.7L1800.6 1090L1800.8 1060.7L1801.1 1058.6L1801.3 1084L1801.6 1096.4L1802 1051.3L1802.1 1068L1802.3 1090.3L1802.6 1069.7L1802.7 1112.5L1803 1088.5L1803.3 1066.2L1803.8 1098.1L1804 1061.8L1804.2 1078L1804.4 1048.3L1804.6 1084.3L1804.9 1061.1L1805 1083.4L1805.1 1051.9L1805.5 1058.5L1805.9 1099.7L1806.2 1090.5L1806.4 1050.9L1806.8 1061.2L1807 1079.7L1807.1 1088.8L1807.3 1065.5L1807.5 1068.3L1807.9 1083.9L1808.3 1086.3L1808.4 1071.4L1808.7 1072.9L1808.8 1089.2L1809 1062.4L1809.3 1093.8L1809.8 1103.1L1810 1079.7L1810.3 1097.8L1810.5 1068.2L1810.7 1052L1810.8 1099L1811.4 1078.6L1811.5 1061.2L1811.7 1101.4L1811.9 1065.5L1812.3 1097.9L1812.4 1051L1812.8 1083.8L1812.9 1049.5L1813.4 1060L1813.5 1078L1813.6 1063.4L1813.7 1090.4L1814.2 1048L1814.5 1103L1814.5 1069.2L1814.6 1098.2L1815.2 1104.7L1815.3 1048.9L1815.5 1103.3L1815.6 1063.1L1816 1088.3L1816.3 1057.8L1816.5 1092.2L1816.9 1065.2L1817.2 1080.8L1817.4 1062.2L1817.7 1064.4L1818 1099.8L1818.3 1051.4L1818.5 1107.3L1818.6 1084L1818.7 1053.8L1819.2 1074.1L1819.4 1083.7L1819.6 1042.6L1820 1087L1820.1 1099.8L1820.2 1076.9L1820.6 1072.4L1820.8 1098.6L1821.3 1059.6L1821.4 1085.6L1821.6 1063.8L1821.7 1089L1822.1 1109.6L1822.2 1059.6L1822.8 1087.4L1822.9 1063.8L1823.2 1067.8L1823.3 1084.2L1823.5 1066.9L1823.8 1107.1L1824.1 1059.6L1824.5 1083.6L1824.5 1089.4L1824.8 1045.8L1825 1097.4L1825.2 1059.2L1825.7 1092L1825.8 1058.9L1826.1 1056.5L1826.3 1109.1L1826.7 1027.1L1826.8 1082L1827.1 1040L1827.4 1097.1L1827.9 1078.5L1828 1056.8L1828.1 1095.1L1828.3 1034L1828.5 1066.1L1828.8 1095.7L1829.1 1058.4L1829.4 1098.3L1829.7 1049.5L1829.9 1103.7L1830.2 1062L1830.4 1097.9L1830.5 1047.6L1830.9 1103.5L1831.1 1067.3L1831.2 1092.2L1831.8 1087.4L1832 1049.5L1832.3 1096.9L1832.4 1047.9L1832.5 1105.9L1832.8 1069.7L1833.1 1070L1833.1 1097.6L1833.5 1109L1833.9 1065.6L1834.3 1090.7L1834.5 1050.6L1834.6 1089.4L1834.8 1058.9L1835.1 1100L1835.2 1054.1L1835.7 1052.2L1836 1080.7L1836.1 1039.9L1836.3 1082.9L1836.5 1076.3L1836.6 1098.7L1837.2 1056.6L1837.3 1092.3L1837.6 1084L1837.8 1060.2L1838.2 1053.8L1838.4 1091.9L1838.6 1104.6L1838.9 1061.9L1839.4 1084.8L1839.5 1051.3L1839.6 1102.9L1840 1065.1L1840.3 1050.1L1840.4 1076.7L1840.5 1098L1840.6 1055.8L1841.2 1066.6L1841.5 1101.8L1841.5 1060.3L1841.9 1096.1L1842.1 1123.2L1842.4 1064.5L1842.7 1064.2L1843 1097.7L1843.2 1082.7L1843.2 1050.1L1843.6 1095.9L1843.7 1047.3L1844.1 1094.7L1844.3 1067.4L1844.8 1064.8L1844.9 1091.5L1845 1058.4L1845.4 1110L1845.8 1064.9L1845.9 1109L1846 1052.6L1846.4 1090.1L1846.9 1093.6L1846.9 1060.8L1847.1 1113.7L1847.2 1063.5L1847.7 1072L1847.8 1098.4L1848.3 1100.1L1848.4 1069.5L1848.5 1038.1L1848.8 1096.7L1849.1 1044L1849.3 1091.1L1849.6 1114.3L1849.8 1054.5L1850.2 1056.7L1850.5 1112.7L1850.6 1101.8L1851 1052.5L1851.1 1111.2L1851.2 1058.4L1851.6 1096L1851.7 1080.3L1852.1 1082L1852.3 1055.5L1852.6 1101.7L1852.7 1049.7L1853.2 1102.8L1853.5 1061.5L1853.6 1103L1853.9 1059.5L1854.4 1086.9L1854.4 1042.9L1854.8 1088.9L1855 1045.6L1855.2 1064.6L1855.3 1107.4L1855.6 1068.7L1855.7 1114.7L1856.3 1100L1856.4 1066.1L1856.6 1082.2L1856.7 1068.2L1857.3 1060.3L1857.4 1094.8L1857.8 1056.9L1857.8 1105.7L1858.3 1099.9L1858.5 1068.1L1858.7 1062.1L1858.8 1089.7L1859.1 1062.9L1859.2 1092.4L1859.6 1059.1L1859.7 1092.1L1860.1 1049.5L1860.2 1099.7L1860.7 1100.6L1860.9 1048.5L1861.3 1084.8L1861.4 1060.6L1861.7 1061.3L1861.9 1082.1L1862.4 1063.6L1862.5 1108.7L1862.7 1106.3L1862.8 1042.8L1863.2 1085.3L1863.4 1059.2L1863.8 1108.5L1863.9 1068.3L1864 1062.6L1864.2 1092.7L1864.5 1065.3L1864.8 1106.2L1865.1 1069.4L1865.4 1099.7L1865.6 1084.5L1865.8 1049.7L1866.3 1092.7L1866.3 1057.4L1866.6 1101.3L1866.9 1060.7L1867.1 1047.3L1867.4 1090.2L1867.5 1103.1L1867.9 1053.5L1868.1 1097L1868.3 1067.5L1868.7 1095.9L1868.9 1054.4L1869.3 1115.8L1869.4 1039.8L1869.8 1067L1870 1112.7L1870.1 1045.6L1870.3 1097.1L1870.7 1112L1870.9 1078.8L1871.1 1054.5L1871.4 1110.3L1871.6 1039.4L1871.8 1093L1872.3 1057.5L1872.4 1092.6L1872.7 1061.9L1873 1119.4L1873.1 1087.4L1873.3 1048L1873.7 1059L1873.8 1109L1874.1 1051.5L1874.3 1090.3L1874.6 1059.2L1874.8 1092.1L1875.1 1066.4L1875.3 1103.5L1875.8 1049.1L1875.9 1098.4L1876.2 1095.2L1876.3 1052.1L1876.8 1098.4L1876.8 1052.3L1877.1 1067.3L1877.3 1101.6L1877.7 1051.8L1878 1102.9L1878.2 1059.6L1878.3 1123.3L1878.7 1036.9L1879 1118.3L1879 1110.9L1879.1 1068.4L1879.6 1101.1L1879.9 1050.3L1880 1059.2L1880.3 1111.9L1880.8 1087.6L1880.8 1067L1881.2 1053.3L1881.4 1094.1L1881.5 1046.6L1881.7 1090.9L1882 1060.4L1882.4 1088.6L1882.6 1059L1882.8 1100.3L1883.1 1104.2L1883.4 1062.3L1883.6 1092L1883.7 1043.9L1884.2 1090.5L1884.5 1060.2L1884.6 1059.9L1884.8 1089.7L1885.4 1120.7L1885.5 1061.7L1885.6 1094.1L1886 1065.5L1886.2 1082.6L1886.3 1060L1886.7 1099L1886.8 1039.6L1887.4 1107.4L1887.4 1054.4L1887.8 1115.4L1888 1065.3L1888.1 1091.2L1888.2 1051.9L1888.5 1053.3L1888.7 1097.9L1889.2 1056.9L1889.4 1105.1L1889.7 1057.2L1889.9 1096.1L1890.2 1093.7L1890.3 1063.6L1890.6 1104.2L1890.9 1060.7L1891.1 1103.5L1891.5 1054.6L1891.6 1096.3L1891.8 1053L1892.1 1104.3L1892.1 1059.9L1892.7 1057.6L1893 1107L1893.1 1066.3L1893.4 1116.1L1893.7 1115.2L1893.8 1065.9L1894.2 1050.1L1894.5 1095.3L1894.7 1049.4L1895 1088.7L1895.1 1061.5L1895.3 1107.7L1895.5 1096L1895.6 1055.9L1896.4 1054.6L1896.5 1096L1896.5 1094.1L1896.9 1045.5L1897.3 1057.7L1897.4 1089.4L1897.6 1063.1L1897.8 1082.4L1898.1 1101.9L1898.2 1048.8L1898.9 1056L1898.9 1089.4L1899.1 995.7L1899.3 1097.1L1899.5 986L1899.9 1086.3L1900 1017.7L1900.3 1089.8L1900.7 1098.1L1900.9 1049.7L1901.1 1072.7L1901.1 1115.2L1901.6 1032.3L1901.9 1104L1902.3 1054.2L1902.4 1117.8L1902.7 1111.7L1902.9 1065.4L1903.2 1062.2L1903.2 1110.5L1903.5 1101.5L1903.9 1057.7L1904 1098.3L1904.5 1050.7L1904.6 1082.9L1904.7 1053.2L1905.3 1059.3L1905.4 1106.4L1905.8 1056.3L1906 1100.3L1906.1 1059.7L1906.4 1104.4L1906.7 1089.7L1906.8 1063.7L1907.2 1060.8L1907.3 1103.7L1907.6 1056.4L1907.6 1097.8L1908.3 1092.1L1908.5 1063.6L1908.7 1109.6L1908.9 1064.2L1909.1 1110.1L1909.4 1053.6L1909.6 1060.2L1909.8 1102.3L1910.2 1060L1910.4 1129.6L1910.7 1060.5L1911 1095.2L1911.2 1049L1911.3 1105.4L1911.6 1088.2L1911.7 1056L1912 1043.5L1912.2 1101.7L1912.6 1070.4L1912.7 1093.5L1913.1 1063.8L1913.5 1121.3L1913.6 1055L1913.9 1107L1914.1 1057.2L1914.4 1112.7L1914.8 1040.3L1914.8 1089.3L1915.3 1053.2L1915.5 1083.8L1915.8 1107.9L1915.9 1063.5L1916.3 1102.9L1916.5 1053.7L1916.7 1063.7L1916.8 1092.5L1917.4 1123.7L1917.5 1047L1917.6 1089.1L1917.8 1055L1918.2 1057.1L1918.3 1107.2L1918.7 1045.7L1918.8 1093.8L1919.2 1099.2L1919.5 1053.4L1919.8 1104.5L1919.8 1051.7L1920.1 1056.1L1920.3 1113L1920.6 1088.3L1920.7 1053.1L1921.1 1092.3L1921.4 1057.6L1921.5 1092.7L1921.9 1043L1922.3 1059.6L1922.4 1093.4L1922.6 1094.8L1923 1061L1923 1042.9L1923.5 1100.1L1923.5 1097.7L1923.8 1070.5L1924.4 1099.2L1924.5 1062.1L1924.7 1092.1L1924.8 1061L1925.2 1086.9L1925.4 951.5L1925.7 1103L1925.7 940L1926 1116.8L1926.3 1033.6L1926.8 1047.7L1927 1104.1L1927 1043.9L1927.3 1089.9L1927.6 1054.5L1927.7 1096.8L1928.4 1041.4L1928.4 1081.5L1928.8 1084.1L1929 736.5L1929 1096.2L1929.3 711.9L1929.7 740L1929.9 1088.2L1930.1 986.8L1930.3 1084.3L1930.5 1096.5L1931 1049.5L1931 1061.2L1931.1 1100L1931.6 1074.9L1932 1060.4L1932.2 1098.4L1932.4 955L1932.6 945L1932.9 1092.1L1933.1 1091.4L1933.1 1014.1L1933.9 1052.9L1933.9 1117.9L1934.2 1099.9L1934.5 1050.9L1934.7 1107.8L1934.8 1070.1L1935 1103.2L1935.5 1040.8L1935.6 1039.1L1935.8 1096.3L1936.1 1041.7L1936.4 1093.1L1936.6 1056.5L1936.7 1098.7L1937.4 1087.8L1937.5 1047.5L1937.8 1093.4L1937.9 864.5L1938.3 851L1938.5 1070.1L1938.5 1103L1938.6 862.3L1939 1037.6L1939.2 1100.5L1939.7 1110.1L1939.8 1063.1L1940.3 1060.3L1940.4 1103.8L1940.7 1099.5L1940.8 1064.9L1941.1 1105.8L1941.2 1065.6L1941.7 1046.5L1941.9 1080.7L1942.4 1024.5L1942.5 1105.1L1942.6 1092.4L1942.9 948L1943.2 953.6L1943.3 1104.7L1943.5 1095.1L1943.6 1046.8L1944 1062.9L1944.1 1107.6L1944.5 1094L1945 1044.6L1945 1049.5L1945.4 1093L1945.8 1065.9L1945.9 1089.3L1946.4 1104.1L1946.5 1038.7L1946.8 1098.7L1946.9 1067.9L1947.2 1044.6L1947.5 1084.9L1947.7 1042.9L1947.9 1098.3L1948.4 1105.4L1948.5 1057.1L1948.6 1111.9L1948.8 1065.3L1949.1 1128.9L1949.3 1053.9L1949.6 1101.5L1949.8 1049.7L1950.1 1051.4L1950.4 1106L1950.8 1116.1L1950.8 1053.9L1951.1 1061.4L1951.3 1101.2L1951.8 1056.1L1951.9 1114.3L1952.2 1089.9L1952.3 1039.6L1952.6 1056.3L1952.8 1097.6L1953 1108.8L1953.4 1054.6L1953.5 1065.3L1953.9 1101.7L1954.3 1093.7L1954.4 1063.9L1954.6 1114.1L1954.6 1054.1L1955.1 1105.2L1955.2 1057.8L1955.7 1059.6L1955.8 1115.6L1956.3 1054.2L1956.5 1090.5L1956.7 1093.1L1956.9 1049L1957 1045.3L1957.3 1103L1957.9 1112.5L1958 1061.3L1958.1 1061.5L1958.4 1111.1L1958.5 1054L1958.7 1094.5L1959.2 1063.5L1959.4 1134.9L1959.7 1040.4L1959.8 1101.5L1960.1 1057.9L1960.4 1097.7L1960.7 1132L1960.9 1057.3L1961.2 1095.3L1961.3 1053.9L1961.6 1110.5L1961.9 1049.3L1962 1110L1962.5 1053.4L1962.7 1095.6L1962.8 1048.5L1963 1040.2L1963.3 1092.7L1963.5 1056.3L1963.8 1105.2L1964.1 1047.5L1964.4 1109L1964.5 1100.9L1964.6 1059.6L1965.1 1123.5L1965.1 1051L1965.8 1042.9L1966 1102.9L1966.1 1055.5L1966.4 1115.3L1966.6 1111L1966.7 1057.6L1967 1106.7L1967.3 1053.3L1967.7 1056.1L1967.9 1103L1968.4 1045.2L1968.5 1099.4L1968.6 1059.7L1968.9 1098.6L1969.4 1101.9L1969.4 1062.5L1969.5 1118.3L1969.7 1056.8L1970.1 1048.7L1970.4 1107.6L1970.6 1109.9L1970.7 1049.4L1971.1 1055.7L1971.2 1102.1L1971.8 1058.6L1971.8 1104.2L1972.1 1049.2L1972.2 1101.5L1972.5 1051.3L1972.8 1101L1973.2 1107.1L1973.4 1050.4L1973.6 1057L1973.9 1101L1974 1050.1L1974.4 1116.9L1974.6 1060.2L1974.7 1098.1L1975.3 1102.5L1975.5 1052.4L1975.7 1040.1L1975.9 1094.5L1976.1 1112.5L1976.2 1040.6L1976.8 1047.7L1976.9 1092.3L1977.1 1052.1L1977.5 1101.9L1977.6 1098.6L1977.7 1048.5L1978.2 1083.1L1978.2 1062.7L1978.7 1041.6L1978.7 1103.1L1979.1 1097.4L1979.3 1059.3L1979.6 1053.3L1979.8 1110.3L1980.2 1056.9L1980.3 1096.7L1980.7 1110.4L1980.9 1054L1981.2 1056.9L1981.3 1127.4L1981.6 1059.3L1981.7 1098.3L1982.3 1094.6L1982.4 1064.1L1982.6 1050.3L1982.8 1097.9L1983.3 1117.2L1983.5 1062.6L1983.7 1045L1983.9 1107.4L1984.1 1059.7L1984.3 1089.7L1984.7 1103.7L1985 1052.6L1985.1 1063.7L1985.3 1093L1985.5 1057.4L1985.7 1098.3L1986 1097.9L1986.4 1062.3L1986.7 1093.3L1986.8 1049L1987.1 1045.1L1987.2 1092.1L1987.7 1117.8L1987.9 1065.4L1988 1116.5L1988.4 1058.9L1988.6 1106.8L1988.9 1060.8L1989.2 1100.5L1989.2 1052.3L1989.7 1100.7L1989.8 1071L1990.2 1059.5L1990.4 1109.2L1990.8 1093.1L1991 1053.6L1991.4 1055.9L1991.4 1097.3L1991.7 1059L1991.8 1096.1L1992.3 1060.4L1992.4 1089.7L1992.5 1048.8L1992.9 1095.6L1993.3 1065.5L1993.4 1127.1L1993.9 1060.6L1994 1140.2L1994.2 1099.6L1994.4 1065.6L1994.6 1057.7L1994.8 1087.9L1995.2 1052.9L1995.3 1098.3L1995.6 1111.3L1995.9 1061.3L1996.2 1099.5L1996.3 1057.6L1996.5 1094.9L1997 1057L1997.2 1056.3L1997.3 1088.9L1997.7 1058.5L1997.9 1105L1998.1 1049L1998.3 1095.4L1998.6 1048.8L1998.8 1107.5L1999.1 1101.8L1999.4 1058.2L1999.6 1057.3L1999.6 1104L2000 1061.9L2000.3 1092.9L2000.8 1114.9L2000.9 1053L2001.3 1060.8L2001.5 1100.7L2001.6 1089.4L2001.8 1048L2002.1 1048.6L2002.4 1103L2002.5 1053.7L2002.6 1096.2L2003.1 1109.5L2003.2 1058.6L2003.6 1056.3L2003.9 1096.8L2004.2 1057.6L2004.5 1089.3L2004.8 1058.3L2004.9 1115.8L2005.2 1091.2L2005.3 1049.4L2005.6 1098L2006 1036.5L2006.2 1051L2006.4 1104.5L2006.6 1053L2006.8 1096.4L2007.3 1103.5L2007.4 1048.8L2007.6 1053.2L2008 1091.9L2008.3 1046.2L2008.4 1098.2L2008.6 1105.7L2008.9 1039.9L2009.2 1058.6L2009.4 1098.9L2009.6 1096.2L2009.8 1058.7L2010.4 1102.5L2010.5 1048L2010.8 1054.5L2010.9 1105.9L2011 1115.6L2011.3 1054.9L2011.6 1123.7L2011.7 1058.8L2012 1099L2012.4 1055.9L2012.6 1060.8L2013 1094.9L2013.1 1114.2L2013.2 1058.6L2013.8 1056.7L2013.8 1120.7L2014.2 1065.8L2014.3 1102.6L2014.7 1054.6L2014.7 1084.5L2015.3 1096.5L2015.4 1056.5L2015.7 1102.3L2015.9 1044.7L2016.5 1128.2L2016.5 1056.2L2016.6 1051.5L2016.7 1100.8L2017.1 1100.3L2017.2 1041.7L2017.9 1097.7L2018 1052.5L2018.3 1053.8L2018.4 1114.8L2018.8 1039L2018.9 1101.2L2019.2 1053L2019.4 1107.4L2019.7 1103L2020 1057.7L2020.4 1092.4L2020.5 1050.8L2020.7 1059L2021 1100.8L2021.2 1118.8L2021.3 1047L2021.5 1116.9L2021.6 1060.3L2022.2 1046.4L2022.3 1110.4L2022.8 1052.2L2023 1112.3L2023 1046.3L2023.2 1107.7L2023.6 1107.3L2024 1059L2024.1 1048.6L2024.3 1110L2024.6 1086.1L2024.7 1043.6L2025.1 1089.5L2025.2 1054.8L2025.7 1108.5L2025.9 1052.8L2026.1 1051.5L2026.4 1104.9L2026.6 1058.7L2026.7 1107.2L2027.2 1055.8L2027.4 1115.7L2027.7 1098L2028 1055.9L2028.2 1106.9L2028.5 1048.6L2028.7 1047.6L2029 1091.9L2029 1096.8L2029.3 1051L2029.7 1103.9L2029.9 1058.4L2030.1 1118.3L2030.3 1061.9L2030.6 1051.2L2030.9 1088.9L2031.1 1099.2L2031.1 1055.6L2031.6 1045.7L2031.9 1099.7L2032 1104.6L2032.3 1059.8L2032.5 1096.3L2032.7 1050.4L2033.1 1100.5L2033.2 1036.5L2033.6 1102.8L2033.9 1061L2034 1054.8L2034.1 1104.3L2034.6 1053.6L2034.6 1109.5L2035.3 1045.9L2035.4 1137L2035.7 1059.2L2035.8 1099.7L2036.1 1046.1L2036.3 1104.2L2036.6 1060.4L2036.8 1101.3L2037.1 1104L2037.3 1037.3L2037.8 1140.4L2038 1051.3L2038.1 1046.3L2038.4 1110.5L2038.7 1051.9L2038.7 1119.4L2039.1 1055.8L2039.2 1102.8L2039.5 1107.2L2040 1061.3L2040.3 1103.8L2040.5 1051.9L2040.6 1058.5L2040.8 1092.4L2041.2 1105.5L2041.5 1045L2041.6 1126.9L2041.9 1061.3L2042.2 1103.1L2042.4 1047L2042.8 1047.9L2043 1105.9L2043.3 1048.6L2043.3 1123.7L2043.9 1106.1L2044 1046.4L2044.2 1050.5L2044.3 1097.2L2044.5 1061.1L2045 1103.3L2045.4 1099.7L2045.4 1054.6L2045.6 1043.6L2045.8 1140.5L2046.1 1056.9L2046.3 1113.7L2046.5 1054.8L2046.8 1102.8L2047.2 1105.4L2047.4 1060.4L2047.6 1119.4L2047.7 1050L2048.2 1120.7L2048.5 1050.1L2048.8 1093.2L2048.9 1055.2L2049.1 1118.4L2049.3 1058.6L2049.6 1104.8L2049.8 1051.2L2050.1 1053L2050.3 1099.8L2050.5 1100.5L2051 1054L2051.4 1094.6L2051.5 1055.8L2051.5 1047.4L2051.8 1109L2052.3 1115.9L2052.3 1056L2052.8 1052.9L2053 1105.4L2053.1 1105.2L2053.4 1041L2053.7 1097.6L2054 1058.5L2054 1109.4L2054.1 1057.9L2054.8 1051.5L2055 1108.9L2055.1 1044.9L2055.1 1104.2L2055.6 1043.9L2055.9 1089.5L2056.1 1133.7L2056.1 1062.6L2056.6 1108.9L2056.9 1050.4L2057.4 1135L2057.5 1045.8L2057.7 1046L2057.9 1106.2L2058 1126.7L2058.5 1044.3L2058.6 1106.1L2058.7 1049.8L2059 1115.2L2059.1 1054.3L2059.6 1051.1L2059.8 1086.8L2060 1105.5L2060 1064.4L2060.9 1106.5L2061 1051.9L2061.1 1108.6L2061.3 1054.6L2062 1120.5L2062 1054.9L2062.1 1060.2L2062.5 1112.4L2062.9 1057.8L2063 1100.3L2063.1 1061L2063.2 1094.2L2063.6 1051.3L2063.9 1117.3L2064.2 1134L2064.3 1057.9L2064.6 1060.7L2064.8 1100.2L2065.2 1109.7L2065.3 1051.3L2065.7 1048.8L2066 1108.9L2066.1 1100.3L2066.4 1038.3L2066.6 1064L2066.8 1106.8L2067.1 1099.1L2067.3 1060.3L2067.8 1053.3L2067.9 1096.2L2068.1 1045.4L2068.4 1115.7L2068.7 1103.6L2068.9 1043.5L2069 1092L2069.4 1051.2L2069.7 1121.3L2069.8 1064.7L2070.1 1056L2070.1 1111.2L2070.6 1057.9L2071 1129.5L2071.3 1063.9L2071.4 1098.4L2071.8 1049.9L2072 1110.6L2072.1 1036.2L2072.3 1108.5L2072.8 1112.2L2072.9 1051.5L2073.3 1103L2073.4 1052.4L2073.6 1109L2073.6 1053.1L2074.1 1111.7L2074.5 1049.5L2074.6 1058.2L2074.8 1114.7L2075.1 1058.4L2075.2 1121.5L2075.9 1055.5L2075.9 1123.5L2076.3 1089L2076.3 1053.1L2076.7 1116.9L2077 1060.2L2077.3 1036L2077.4 1103.6L2077.9 1115.2L2077.9 1052.4L2078.1 1058.3L2078.4 1107.6L2078.5 1059L2078.6 1092.9L2079.1 1102.1L2079.1 1049.5L2079.6 1052.6L2079.9 1106.1L2080.1 1039.5L2080.4 1115L2080.8 1117.4L2080.8 1054.1L2081.2 1051.9L2081.3 1124L2081.7 1059.8L2082 1124.7L2082.3 1055L2082.4 1102.9L2082.7 1050.1L2082.8 1108.2L2083.2 1111.5L2083.5 1034.4L2083.7 1033.3L2083.9 1107.1L2084 1098.5L2084.3 1050.2L2084.8 1041.8L2084.9 1112.3L2085.4 1104.9L2085.5 1051.4L2085.8 1106.5L2085.8 1048L2086.2 1046.6L2086.4 1105.5L2086.8 1111L2086.9 1044.2L2087.3 1059.8L2087.4 1109.3L2087.5 1114.3L2088 1052.8L2088.2 1094.1L2088.5 1044L2088.6 1114L2088.8 1060.8L2089.1 1053.2L2089.5 1097.2L2089.5 1095.7L2089.7 1054.1L2090.4 1060.8L2090.5 1109.6L2090.7 1104.6L2090.9 1046.4L2091.1 1120.8L2091.5 1041.2L2091.7 1048.2L2091.9 1104.7L2092.2 1108.4L2092.5 1055L2092.5 1122.1L2092.9 1041L2093.1 1054.8L2093.3 1109.1L2093.6 1111.7L2093.9 1042.6L2094.2 1095.7L2094.4 1046.2L2094.8 1108.4L2094.8 1055.8L2095.1 1040.5L2095.2 1096.6L2095.7 1114.1L2095.9 1052.7L2096.1 1103.5L2096.3 1063L2096.7 1103.6L2096.9 1045.9L2097.1 1131.7L2097.3 1053.7L2097.6 1052.9L2097.9 1103.8L2098.2 1031.5L2098.5 1111L2098.8 1103.2L2098.8 1042.4L2099.1 1043.2L2099.2 1103.1L2099.5 1050.6L2099.6 1106L2100.4 1105.6L2100.5 1049.5L2100.7 1051.9L2100.8 1100.8L2101 1068L2101 1106.8L2101.5 1109.7L2101.7 1060.9L2102.1 1053.3L2102.2 1103.2L2102.6 1100L2102.7 1052.1L2103.2 1093.4L2103.3 1043.3L2103.9 1094.8L2104 1052L2104.4 1102.9L2104.5 1047.4L2104.6 1047.5L2104.8 1104.3L2105.3 1099.6L2105.4 1054L2105.7 1100.5L2105.7 1052.4L2106.1 1107.1L2106.2 1055.8L2106.8 1122.7L2106.9 1053.4L2107.1 1117.5L2107.5 1049.9L2107.7 1101.1L2107.7 1053.9L2108.2 1055.9L2108.3 1109.9L2108.5 1054.6L2108.8 1112.8L2109.5 1049.9L2109.5 1097.7L2109.8 1122.3L2109.9 1051.2L2110 1047.2L2110.1 1103.7L2111 1099.1L2111 1057.7L2111.3 1095.4L2111.4 1053.9L2111.9 1104L2112 1045.6L2112.2 1107.4L2112.2 1058.2L2112.7 1039.3L2112.7 1126.4L2113.2 1059.9L2113.4 1101.6L2113.6 1117.3L2113.8 1048.6L2114.2 1120.7L2114.5 1053.3L2114.7 1105.6L2114.7 1053.1L2115.2 1101.9L2115.5 1055.1L2115.5 1105.8L2115.8 1050.8L2116.3 1112.4L2116.4 1051.1L2116.6 1102.1L2116.7 1047L2117.4 1119.1L2117.5 1055.2L2117.8 1049.5L2118 1104.3L2118.1 1056.3L2118.2 1105.4L2118.9 1041.1L2119 1100.8L2119.4 1106.5L2119.5 1041.6L2119.7 1109.8L2119.7 1056.6L2120.3 1102.4L2120.5 1051.3L2120.6 1055.2L2120.9 1108.1L2121.2 1100.3L2121.3 1053.8L2121.7 1050.5L2121.7 1104.9L2122.3 1058L2122.4 1112.5L2122.9 1107.4L2122.9 1051.4L2123.2 1108.9L2123.4 1043.8L2123.5 1047.2L2123.7 1098.8L2124.4 1109.2L2124.5 1051.8L2124.5 1048.5L2125 1096.4L2125.1 1045.1L2125.4 1093.7L2125.6 1120.9L2125.9 1051.8L2126.2 1107.1L2126.5 1048.9L2126.7 1100.3L2127 1052.2L2127.3 1043.3L2127.5 1113.4L2127.9 1107.4L2128 1042.2L2128.2 1050L2128.3 1113.4L2128.9 1119.4L2128.9 1054.5L2129.1 1116.8L2129.2 1051.5L2129.9 1114.4L2130 1053.8L2130.1 1114.5L2130.3 1039.6L2130.6 1052.4L2130.7 1102.6L2131 1046.9L2131.1 1126.3L2131.8 1096L2131.9 1044.3L2132.3 1123.2L2132.4 1045L2132.5 1061.4L2132.7 1106.5L2133.1 1035L2133.2 1101.7L2133.5 1048.8L2133.6 1107.1L2134 1050.6L2134.3 1104.6L2134.6 1118.9L2134.9 1056.5L2135.1 1103.9L2135.3 1051.8L2135.8 1043.3L2135.9 1107.3L2136 1048.1L2136.1 1104.3L2136.8 1054.8L2136.9 1115.1L2137.2 1057L2137.4 1111L2137.8 1109.5L2138 1062.9L2138.2 1039.6L2138.3 1118.8L2138.7 1102.3L2138.9 1036L2139.1 1044.6L2139.4 1108.1L2139.9 1099.9L2140 1058L2140.1 1052.3L2140.5 1097.5L2140.5 1059.2L2141 1102.2L2141.2 1100.3L2141.3 1039.2L2141.7 1112.6L2142 1053.6L2142.3 1099L2142.4 1050.4L2142.7 1132.3L2142.9 1047L2143 1130L2143.4 1043.6L2143.8 1042.4L2143.9 1126L2144.4 1099L2144.4 1052.7L2144.7 1054.5L2144.7 1100.2L2145.3 1115.8L2145.4 1045.5L2145.5 1113.7L2145.7 1038.8L2146 1053L2146.3 1116.9L2146.5 1103L2146.9 1058L2147.2 1131.6L2147.3 1049.4L2147.9 1051.1L2148 1103.9L2148.2 1107.8L2148.4 1047L2148.5 1104.2L2149 1053.4L2149 1120.2L2149.4 1058.3L2149.8 1048.5L2149.8 1121.3L2150.3 1048.6L2150.5 1116.3L2150.7 1043.7L2150.7 1105.6L2151.2 1117L2151.3 1043.8L2151.7 1111.6L2151.7 1051.6L2152.4 1120.8L2152.4 1061.1L2152.6 1045.1L2153 1119.7L2153.1 1104.2L2153.4 1051.2L2153.7 1055.1L2153.7 1110.5L2154.1 1040.5L2154.4 1104.1L2154.8 1048.1L2154.9 1120.5L2155.4 1051.7L2155.4 1109.8L2155.5 1059.3L2155.7 1102.2L2156.3 1028.9L2156.4 1114.1L2156.6 1110.7L2156.6 1049.6L2157 1054.7L2157.1 1118.8L2157.6 1101.2L2157.7 1051.1L2158.3 1117.2L2158.5 1047.5L2158.7 1053.8L2158.8 1096.3L2159.3 1122.5L2159.3 1051.2L2159.9 1042.9L2159.9 1114.6L2160.2 1111.4L2160.2 1049.5L2160.5 1058.5"/>
<path stroke="#00bfbf" d="M396.4 704.5L526.6 688.8L602.8 686.7L656.8 702.5L698.7 625L733 523.7L761.9 499L787 456L809.1 399L828.9 389.2L846.8 413.6L863.1 404L878.2 375.9L892.1 392.7L905 416.3L917.2 425.2L928.6 472.2L939.3 504.2L949.4 531L959.1 568L968.2 585.9L977 582.7L985.3 596.1L993.3 624.1L1001 668.8L1008.4 704.4L1015.4 711.4L1022.3 734.4L1028.9 748.4L1035.2 779L1041.4 801L1047.3 808.5L1053.1 819.3L1058.7 854.9L1064.2 856.5L1069.5 846.9L1074.6 834.5L1079.6 840.4L1084.5 872L1089.3 864.4L1093.9 874.6L1098.4 884.2L1102.8 855.5L1107.2 832L1111.4 816L1115.5 823L1119.5 830.8L1123.5 806L1127.4 786.8L1131.2 781L1134.9 776L1138.5 770.8L1142.1 765.7L1145.6 761.3L1149.1 742.7L1152.5 759.3L1155.8 779L1159 794.4L1162.3 754.8L1165.4 693.6L1168.5 672.5L1171.6 675.7L1174.6 711.4L1177.5 741L1180.4 711L1183.3 656.6L1186.1 642.6L1188.9 637L1191.7 642.6L1194.4 665.5L1197 693.6L1199.7 705L1202.2 691L1204.8 700L1207.3 691L1209.8 655L1212.3 672L1214.7 700L1217.1 707L1219.4 709L1221.8 695L1224.1 730L1226.4 790L1228.6 780L1230.8 735L1233 723L1235.2 750L1237.3 770L1239.5 788L1241.6 790L1243.6 770L1245.7 753L1247.7 760L1249.7 775L1251.7 787L1253.7 789L1255.6 790L1257.6 792L1259.5 840L1261.3 888L1263.2 885L1265.1 872L1266.9 835L1268.7 824L1270.5 850L1272.3 875L1274.1 893L1275.8 897L1277.5 905L1279.2 920L1280.9 939L1282.6 928L1284.3 925L1286 935L1287.6 927L1289.2 917L1290.8 925L1292.4 930L1294 909L1295.6 896L1297.1 915L1298.7 935L1300.2 950L1301.7 933.3L1303.3 926.3L1304.8 923L1306.2 930.3L1307.7 930.5L1309.2 934.6L1310.6 943.2L1312.1 940.5L1313.5 946.5L1314.9 956.9L1316.3 953.8L1317.7 940.5L1319.1 940.3L1320.5 939.9L1321.8 937.7L1323.2 933.2L1324.5 916L1325.9 886L1327.2 886L1328.5 916L1329.8 933.2L1331.1 938.3L1332.4 939.9L1333.7 940.3L1335 937.7L1336.2 937L1337.5 934.7L1338.7 927L1340 901.4L1341.2 816.1L1342.4 667L1343.7 667L1344.9 816.1L1346.1 901.4L1347.3 927L1348.4 934.7L1349.6 937L1350.8 964.7L1352 949.6L1353.1 951.5L1354.3 951.6L1355.4 946.3L1356.5 955.3L1357.7 960.6L1358.8 972.2L1359.9 980.7L1361 991.7L1362.1 985.5L1363.2 971.7L1364.3 969.1L1365.4 951.6L1366.5 942.3L1367.5 940.5L1368.6 866.5L1369.6 972.9L1370.7 947.2L1371.7 933.6L1372.8 940.2L1373.8 934.5L1374.8 948.4L1375.9 966.9L1376.9 970.7L1377.9 961.5L1378.9 948.8L1379.9 945.7L1380.9 949.9L1381.9 950.2L1382.9 956.6L1383.9 951.6L1384.8 950.2L1385.8 946.3L1386.8 946.8L1387.7 939.3L1388.7 949.9L1389.6 933.3L1390.6 870.7L1391.5 892.4L1392.5 910.9L1393.4 935.5L1394.3 938.6L1395.2 929.4L1396.2 892.6L1397.1 861.6L1398 874.1L1398.9 896.2L1399.8 916.3L1400.7 893.4L1401.6 896L1402.5 885.2L1403.4 874.5L1404.2 868.4L1405.1 891.9L1406 896.6L1406.9 889.3L1407.7 868.8L1408.6 876.6L1409.4 905.1L1410.3 923.4L1411.1 894.3L1412 938.9L1412.8 915.1L1413.7 907.9L1414.5 931.8L1415.3 940.5L1416.1 914.4L1417 889.3L1417.8 912.4L1418.6 925.3L1419.4 917.3L1420.2 902.9L1421 896.4L1421.8 900.3L1422.6 908.4L1423.4 897.8L1424.2 882.6L1425 873.3L1425.8 903.6L1426.6 903.5L1427.3 875.9L1428.1 847.9L1428.9 835.7L1429.6 849.8L1430.4 873.9L1431.2 849.3L1431.9 831.9L1432.7 856.7L1433.4 861.4L1434.2 845.6L1434.9 848.2L1435.7 853.1L1436.4 874.4L1437.2 896.5L1437.9 863.7L1438.6 857.9L1439.4 882.1L1440.1 886.4L1440.8 881.4L1441.5 891.3L1442.2 902.4L1443 868.6L1443.7 862.1L1444.4 874L1445.1 872.2L1445.8 880.1L1446.5 899.6L1447.2 913L1447.9 933.5L1448.6 940.4L1449.3 928L1450 909.2L1450.7 893L1451.3 904.7L1452 902.2L1452.7 895.6L1453.4 916.8L1454.1 926.2L1454.7 904.6L1455.4 901.3L1456.1 915.7L1456.7 930.3L1457.4 931.1L1458 920.2L1458.7 908L1459.4 900L1460 914.1L1460.7 912.3L1461.3 912.3L1462 933.2L1462.6 940.3L1463.2 943.1L1463.9 943.1L1464.5 926.1L1465.2 894L1465.8 896.8L1466.4 912.9L1467.1 899L1467.7 901L1468.3 920.4L1468.9 923.7L1469.6 898.6L1470.2 913.4L1470.8 932.7L1471.4 939.7L1472 939.8L1472.6 939.9L1473.2 903.7L1473.8 884.1L1474.4 911L1475 872.9L1475.6 868L1476.2 870.4L1476.8 891.8L1477.4 910L1478 885.1L1478.6 895.3L1479.2 900.4L1479.8 895.5L1480.4 878.9L1481 776.3L1481.6 727L1482.1 823.6L1482.7 878.9L1483.3 895.5L1483.9 888.8L1484.4 901.9L1485 926.1L1485.6 926.5L1486.2 931.8L1486.7 922.7L1487.3 891.2L1487.8 905.1L1488.4 942.6L1489 942.7L1489.5 922.4L1490.1 886.2L1490.6 898.4L1491.2 878.7L1491.7 908.4L1492.3 905.7L1492.8 863.9L1493.4 868.3L1493.9 875.3L1494.5 885.6L1495 916.6L1495.6 891L1496.1 881.3L1496.6 913.3L1497.2 935.2L1497.7 896.5L1498.2 905.2L1498.8 899.9L1499.3 881.3L1499.8 884L1500.4 877.6L1500.9 854.1L1501.4 869.2L1501.9 885.1L1502.4 883.9L1503 879.9L1503.5 855.8L1504 822.8L1504.5 746L1505 746L1505.5 822.8L1506.1 837.8L1506.6 879.9L1507.1 883.9L1507.6 885.1L1508.1 888.4L1508.6 856.3L1509.1 842.8L1509.6 873.9L1510.1 898.6L1510.6 883.6L1511.1 874.9L1511.6 882L1512.1 866.9L1512.6 861.5L1513.1 911.8L1513.6 904.2L1514 863.2L1514.5 860.6L1515 927.6L1515.5 900.8L1516 867.9L1516.5 895.5L1517 881.9L1517.4 863.3L1517.9 887.1L1518.4 892.9L1518.9 907.9L1519.3 873.4L1519.8 872.9L1520.3 863.9L1520.8 867.1L1521.2 852.3L1521.7 802.6L1522.2 728.6L1522.6 716L1523.1 728.6L1523.6 802.6L1524 852.3L1524.5 867.1L1525 853.5L1525.4 857.2L1525.9 844.3L1526.3 881.4L1526.8 896L1527.3 884.1L1527.7 849.3L1528.2 907.4L1528.6 882L1529.1 888.1L1529.5 885.9L1530 800.2L1530.4 856L1530.9 858.1L1531.3 852.9L1531.8 863.3L1532.2 882.5L1532.7 860.9L1533.1 863.1L1533.5 868.3L1534 883.2L1534.4 831.2L1534.9 838.6L1535.3 842.6L1535.7 814.2L1536.2 810.6L1536.6 852.6L1537 835.3L1537.5 777.7L1537.9 677L1538.3 777.7L1538.8 835.3L1539.2 851.8L1539.6 816.7L1540 848.1L1540.5 828L1540.9 829.3L1541.3 854.2L1541.7 904.6L1542.2 883.1L1542.6 825.5L1543 846.4L1543.4 876.5L1543.8 867.2L1544.3 836L1544.7 855.2L1545.1 859.4L1545.5 855.9L1545.9 863L1546.3 857L1546.7 903.4L1547.1 873.2L1547.6 874.9L1548 889.3L1548.4 878.7L1548.8 859.5L1549.2 840.7L1549.6 833.9L1550 827.6L1550.4 850L1550.8 868.6L1551.2 828.2L1551.6 838.3L1552 857.2L1552.4 836.7L1552.8 829.5L1553.2 847.8L1553.6 861.6L1554 834.6L1554.4 845.5L1554.8 867.2L1555.2 868.1L1555.6 871.4L1556 858.3L1556.3 854.3L1556.7 841.2L1557.1 895.9L1557.5 882.5L1557.9 889.1L1558.3 869.5L1558.7 843.6L1559.1 847.6L1559.4 827.8L1559.8 830L1560.2 845.3L1560.6 820.5L1561 809.2L1561.4 830.3L1561.7 822.8L1562.1 823.9L1562.5 865.8L1562.9 853.6L1563.2 834.6L1563.6 870.1L1564 900.6L1564.4 848L1564.7 845.9L1565.1 851.6L1565.5 899.9L1565.9 873.5L1566.2 827.6L1566.6 859.4L1567 900L1567.3 862L1567.7 870.6L1568.1 875.8L1568.4 860.6L1568.8 880.3L1569.2 850.2L1569.5 843L1569.9 827.6L1570.3 840.8L1570.6 814.5L1571 815.9L1571.3 851.4L1571.7 876L1572.1 875L1572.4 857L1572.8 849.3L1573.1 867L1573.5 827.6L1573.9 838L1574.2 809.1L1574.6 832.7L1574.9 822.2L1575.3 806L1575.6 799.6L1576 802.8L1576.3 810.1L1576.7 832L1577 828.1L1577.4 792.8L1577.7 848.5L1578.1 851L1578.4 814.4L1578.8 843.7L1579.1 850.1L1579.5 796.4L1579.8 788.5L1580.2 772.3L1580.5 858.3L1580.8 875.7L1581.2 836.7L1581.5 818L1581.9 772.3L1582.2 795.7L1582.5 840.3L1582.9 841.7L1583.2 854.1L1583.6 879.8L1583.9 853.7L1584.2 848.4L1584.6 870.4L1584.9 838.7L1585.2 868.9L1585.6 866.4L1585.9 844.3L1586.2 853.8L1586.6 825.7L1586.9 841.1L1587.2 859L1587.6 855.4L1587.9 876.9L1588.2 817L1588.6 827.5L1588.9 861.7L1589.2 814.9L1589.5 814.6L1589.9 812.6L1590.2 797.7L1590.5 801.6L1590.8 770.4L1591.2 723.9L1591.5 716L1591.8 723.9L1592.1 770.4L1592.5 801.6L1592.8 791.7L1593.1 813.8L1593.4 814.6L1593.7 815.5L1594.1 838L1594.4 810.4L1594.7 844.1L1595 832.7L1595.3 799.3L1595.7 806.5L1596 810.9L1596.3 779.8L1596.6 787.5L1596.9 818.4L1597.2 805.1L1597.6 799.4L1597.9 846.4L1598.2 857.5L1598.5 805.9L1598.8 839.8L1599.1 824L1599.4 804.3L1599.7 810.5L1600 810.8L1600.4 785L1600.7 790.3L1601 793L1601.3 855.9L1601.6 802.5L1601.9 828.7L1602.2 780.5L1602.5 773.9L1602.8 809.7L1603.1 761L1603.4 777.9L1603.7 807.9L1604 783.1L1604.3 751.7L1604.6 768L1604.9 767.4L1605.2 763.5L1605.5 780L1605.8 777.8L1606.1 772.1L1606.4 756L1606.7 758.9L1607 752.8L1607.3 775.9L1607.6 768.1L1607.9 791.4L1608.2 767.8L1608.5 804.7L1608.8 809.5L1609.1 744.8L1609.4 760.6L1609.7 758.2L1610 760.9L1610.3 752.3L1610.6 760.1L1610.9 755L1611.2 741.7L1611.4 708L1611.7 703.8L1612 702L1612.3 708.2L1612.6 707.5L1612.9 741.7L1613.2 755L1613.5 760.1L1613.8 762L1614 762.8L1614.3 763.1L1614.6 776.8L1614.9 765.6L1615.2 763L1615.5 772.6L1615.8 746.4L1616 749L1616.3 749.1L1616.6 762L1616.9 752.3L1617.2 748.2L1617.5 760.6L1617.7 740.7L1618 726.7L1618.3 752.5L1618.6 762.9L1618.9 752.7L1619.1 744.7L1619.4 730.9L1619.7 753.5L1620 746.4L1620.3 739.8L1620.5 728.5L1620.8 729.5L1621.1 754.2L1621.4 737.7L1621.6 738.2L1621.9 736L1622.2 733.8L1622.5 736.2L1622.7 733.6L1623 727.6L1623.3 714.3L1623.6 684.9L1623.8 621.8L1624.1 614L1624.4 609L1624.7 609L1624.9 617.7L1625.2 620.4L1625.5 684.9L1625.7 714.4L1626 727.6L1626.3 730.6L1626.5 710L1626.8 724.8L1627.1 723.8L1627.4 745.6L1627.6 732.5L1627.9 734.9L1628.2 735.6L1628.4 746.6L1628.7 734.1L1628.9 719.3L1629.2 730.1L1629.5 733.8L1629.7 726.7L1630 734.9L1630.3 754.6L1630.5 716.3L1630.8 740.3L1631.1 724.9L1631.3 724.1L1631.6 722L1631.8 716.3L1632.1 701.7L1632.4 663.3L1632.6 569.3L1632.9 556.6L1633.1 549L1633.4 553.2L1633.7 567.8L1633.9 663.3L1634.2 701.7L1634.4 715.6L1634.7 718.5L1635 724.1L1635.2 724.9L1635.5 738.1L1635.7 721.3L1636 714.4L1636.2 712.2L1636.5 759.8L1636.7 735.3L1637 719.9L1637.3 707.8L1637.5 692.3L1637.8 711.9L1638 696.1L1638.3 650.1L1638.5 644L1639 650.1L1639.3 696.1L1639.5 711.9L1639.8 704.4L1640 712.1L1640.3 715L1640.5 704.6L1640.8 707.4L1641 714.8L1641.3 704.1L1641.5 720.2L1641.8 722.4L1642 735.7L1642.3 710.7L1642.5 690.5L1642.8 706.2L1643 705.1L1643.2 721.3L1643.7 714.2L1644 702.2L1644.2 703.9L1644.5 714L1644.7 697.8L1645 655.4L1645.2 546.1L1645.4 541.6L1645.7 529L1645.9 534.5L1646.2 551.8L1646.4 655.4L1646.7 677.6L1646.9 639L1647.1 568.8L1647.4 452.6L1647.6 437.9L1647.9 445.6L1648.1 416L1648.6 431.8L1648.8 437.4L1649.1 455L1649.3 568.8L1649.5 639L1649.8 677.6L1650 698.8L1650.5 716.8L1650.7 717.6L1651 722.2L1651.2 723.2L1651.4 751.7L1651.7 735.4L1651.9 735.9L1652.1 738.5L1652.4 754.1L1652.6 751.5L1652.8 769.2L1653.1 744.7L1653.3 754.3L1653.8 741.9L1654 760.4L1654.2 753.3L1654.5 759.3L1654.7 750.9L1654.9 744.6L1655.2 745L1655.4 746.5L1655.6 747.6L1655.8 741.9L1656.1 759.9L1656.3 769.8L1656.8 765.2L1657 760L1657.2 778.5L1657.4 786.5L1657.7 749.1L1657.9 785.5L1658.1 750L1658.4 760.1L1658.6 770.6L1658.8 770.8L1659 773L1659.3 796.6L1659.7 765.2L1659.9 761.8L1660.2 763.2L1660.4 762.4L1660.6 763.3L1660.8 786L1661.1 766.9L1661.3 769L1661.5 792L1661.7 773.7L1662.2 752L1662.4 780.9L1662.6 785.3L1662.8 788.9L1663.1 769.4L1663.3 740.8L1663.7 775.9L1663.9 780.4L1664.2 778.5L1664.4 776.5L1664.6 772.6L1664.8 790.3L1665 780.7L1665.5 790.9L1665.7 787.1L1665.9 779L1666.1 786.9L1666.3 775.5L1666.6 798.2L1667 794.1L1667.2 794.5L1667.4 823.5L1667.6 836.4L1667.9 857L1668.1 850.8L1668.3 842.7L1668.7 838.2L1668.9 856.4L1669.2 858.2L1669.4 852.6L1669.6 837L1669.8 863L1670 864.9L1670.4 857.8L1670.6 850.9L1670.9 875.2L1671.3 872.8L1671.5 858.7L1671.7 886L1671.9 869.3L1672.1 863.6L1672.3 870.9L1672.8 871.1L1673 898.3L1673.2 885.4L1673.4 889.4L1673.6 866.7L1673.8 894.3L1674 864L1674.2 908.7L1674.6 909.9L1674.8 879.8L1675.1 910.1L1675.5 883.2L1675.7 902.7L1675.9 885.3L1676.1 906.6L1676.3 905.8L1676.5 912.7L1676.9 901.1L1677.1 885.4L1677.3 906.1L1677.5 886.9L1677.7 906L1678.1 897.1L1678.3 907.2L1678.6 903.8L1678.8 894.3L1679.2 908.4L1679.4 909.6L1679.6 884.9L1680 917.9L1680.2 918L1680.4 913.3L1680.6 915.2L1680.8 932.7L1681.2 920.9L1681.4 899.1L1681.6 912.6L1682 944.5L1682.2 918.1L1682.4 922.5L1682.6 900.8L1682.8 916.1L1683.2 899.7L1683.4 933.7L1683.6 903.1L1684 926.2L1684.2 908.1L1684.4 932.6L1684.8 928.2L1685 907.4L1685.2 930.2L1685.4 928.1L1685.5 901.9L1685.9 924.7L1686.1 920.7L1686.3 914.2L1686.7 934L1686.9 859.9L1687.1 903.6L1687.3 942.4L1687.5 739.7L1687.7 930.7L1688.1 729L1688.5 735.7L1688.7 752.4L1688.9 747.4L1689 753.1L1689.4 938.7L1689.6 920.7L1689.8 918.8L1690.2 937.2L1690.4 861.7L1690.6 927.1L1691 954.1L1691.2 933.3L1691.3 955.1L1691.7 914.2L1691.9 648.7L1692.1 648.7L1692.3 947L1692.7 666L1692.9 944.3L1693.1 674.7L1693.4 821.5L1693.6 964.8L1694 906.7L1694.2 955.6L1694.4 915.5L1694.6 895.7L1694.9 822L1695.1 941.6L1695.5 660.9L1695.7 947L1695.9 653.1L1696 965.2L1696.2 632L1696.6 947.5L1697 644L1697.2 652.5L1697.3 945L1697.5 946.6L1697.7 822L1698.1 895.7L1698.4 970.4L1698.6 985.6L1699 963L1699.2 964.3L1699.4 952.2L1699.5 987.6L1699.9 971L1700.3 983.5L1700.4 957.9L1700.8 965.1L1701 983.4L1701.2 958.5L1701.3 970.6L1701.5 952.1L1701.9 970.3L1702.2 988.3L1702.4 955L1702.6 946.1L1703 975.9L1703.1 963L1703.3 983.3L1703.7 988.9L1703.9 961.3L1704 983.2L1704.2 966.4L1704.7 964L1704.9 971.5L1705.3 978.2L1705.5 957.2L1705.8 994.1L1706 989.1L1706.2 1001.7L1706.3 971.8L1706.5 968.2L1706.7 958.1L1707 930.8L1707.4 876.5L1707.6 1006.3L1707.7 769.5L1708.3 755.7L1708.4 999.5L1708.8 750L1709 981.2L1709.3 757.4L1709.5 763.2L1709.6 976.6L1710 986L1710.2 970.9L1710.3 876.5L1710.5 908.2L1710.8 946.7L1711 958.1L1711.4 971.8L1711.7 1009.2L1711.9 980.8L1712 978.9L1712.4 984L1712.6 992.7L1712.9 975.5L1713.1 968L1713.4 989.7L1713.7 1016.5L1713.9 988.6L1714.2 979.3L1714.4 1002L1714.8 1000.6L1714.9 992.2L1715.3 1006.4L1715.4 975.4L1715.8 1012.4L1715.9 988.5L1716.1 1002.2L1716.4 998.2L1716.6 1031.8L1716.8 1005.4L1717.3 1003.5L1717.4 1017.6L1717.6 998.1L1717.9 1017.9L1718.1 1036.1L1718.2 1015.4L1718.6 990.6L1718.9 1002.8L1719.2 1021.5L1719.4 995.5L1719.6 1016.6L1719.7 990.3L1720.2 1003.9L1720.4 994L1720.5 1000L1720.9 1021.3L1721.2 1036.8L1721.4 988.4L1721.5 1003.3L1721.7 1013.8L1722 1040.6L1722.2 1010.5L1722.8 993.1L1723 1048L1723.3 1022.7L1723.5 983.6L1723.6 1051.5L1723.8 1015.7L1724.1 1026.1L1724.4 999.5L1724.7 1022.6L1724.9 1029.5L1725.2 1037.8L1725.4 1029L1725.5 1009.4L1725.7 1043.4L1726.2 1011.7L1726.5 1035.8L1726.6 1058.5L1726.8 1031.6L1727.3 1023.2L1727.4 1034.8L1727.6 1028L1727.9 1053L1728.2 1039.4L1728.4 1027.7L1728.5 1017.6L1728.7 1035L1729.1 1048.3L1729.3 1022.9L1729.6 1053.5L1729.8 1020.1L1730.1 1020L1730.2 1056.1L1730.5 1040.1L1730.8 931.4L1731.3 1036.6L1731.5 919.6L1731.6 919.6L1731.9 1054.6L1732.2 926.2L1732.4 1061.6L1732.5 933.9L1732.8 1039.7L1733.1 1011.9L1733.4 1039.6L1733.7 1023L1733.9 1028.7L1734.1 1045.8L1734.4 976.8L1734.7 922.4L1734.8 1046.3L1735.1 1027.9L1735.4 873.9L1735.6 1069L1735.9 866L1736 866L1736.3 1062L1736.6 873.6L1736.8 1051.7L1737.1 883.3L1737.4 1061.6L1737.5 1048.7L1737.7 993.9L1738.1 1023L1738.4 1054.5L1738.5 1034.9L1738.8 1049.1L1739.3 1032.3L1739.4 1041.6L1739.6 1046.7L1739.9 1063L1740.2 1060.8L1740.5 1086L1740.8 1054.2L1740.9 1032.4L1741.3 1041.2L1741.5 1069.5L1741.6 1060.2L1741.9 1020.8L1742.1 1056.2L1742.2 1034.4L1742.8 1027.6L1742.9 1039.5L1743.1 1041.1L1743.2 1053.5L1743.7 1036.1L1743.8 1073.5L1744.1 1064L1744.4 1029.1L1744.5 1081.4L1744.7 1027.8L1745.1 1053L1745.2 1040.6L1745.8 1022.9L1745.9 1084.2L1746.2 1096.3L1746.4 1029.8L1746.7 1027.1L1746.8 1061.9L1747.1 1041.9L1747.2 1055.9L1747.6 1043.1L1747.8 1054.3L1748.2 1045.6L1748.3 1072.8L1748.6 1028L1748.8 1044.2L1749.2 1050.8L1749.5 1020.7L1749.6 1036.6L1749.7 1058.8L1750.3 1023.1L1750.4 1059.9L1750.7 1022.9L1751 1039.4L1751.3 1012.4L1751.4 1040.3L1751.7 1083.2L1751.8 1022.8L1752.2 1028.3L1752.4 1053.1L1752.7 1029L1752.9 1060.1L1753.1 1021.5L1753.5 1063.2L1753.6 1075.9L1753.7 1030.4L1754.3 1070.1L1754.4 1026.4L1754.7 1040.4L1755 1061L1755.2 1037.6L1755.4 1065.9L1755.8 1065.8L1755.9 1040.6L1756.2 1028L1756.3 1068.2L1756.9 1045.2L1757 1064.6L1757.1 1036.3L1757.4 1044.6L1757.5 1082.7L1757.7 1028.1L1758.1 1090.6L1758.3 1050.1L1758.6 1071.4L1759 1022.8L1759.1 1058.3L1759.3 1036.4L1759.7 1013.7L1759.8 1048.8L1760.2 1020.5L1760.5 1068.6L1760.6 1027.9L1760.8 1053.6L1761.1 1054.3L1761.2 1031.5L1761.8 1018.1L1761.9 1052.7L1762 1044L1762.3 1076.5L1762.8 1026.3L1762.9 1071.2L1763.1 1083.4L1763.5 1004.4L1763.7 1047.1L1764 1060.8L1764.2 1014.5L1764.5 1040.4L1764.6 1066.7L1764.7 1044.4L1765.1 1028.7L1765.4 1072.7L1765.6 1012L1765.9 1043L1766 1024.8L1766.3 1070.7L1766.8 1048L1766.9 1019.1L1767.1 1076.1L1767.4 1017.8L1767.7 1051.6L1767.9 1019.2L1768.1 1034.9L1768.4 957.1L1768.8 1036.4L1769 888L1769.1 1044.7L1769.5 871.2L1769.6 870L1770 1062.2L1770.3 879L1770.5 1059.2L1770.6 894.1L1770.7 1062.7L1771.2 1054.4L1771.5 1026.2L1771.6 1065.5L1771.9 1040L1772.2 1042.7L1772.4 1060.5L1772.6 1086.2L1772.9 1027.2L1773.1 1078.8L1773.3 1030.3L1773.8 1096.5L1773.9 1029.4L1774 1032.7L1774.3 1052L1774.7 1072.4L1774.8 1032L1775 1044.8L1775.4 1022.3L1775.5 1042.4L1776 1021.2L1776.1 1048.2L1776.5 1006.7L1776.6 1065.6L1777 915.8L1777.2 868.4L1777.3 1055.1L1777.8 1016L1777.9 855L1778.2 1072.2L1778.3 858.8L1778.6 1046.2L1778.8 872.2L1779.1 949.5L1779.2 1031.2L1779.6 1016.9L1779.8 1005.9L1780.1 979.1L1780.4 892.3L1780.7 1028.4L1780.8 1044.5L1781.1 843.9L1781.4 824L1781.6 1070.3L1781.8 829.3L1782.1 1019.1L1782.2 840.5L1782.5 930.2L1782.9 1076.4L1783 1010.1L1783.5 1042.4L1783.7 1033.1L1783.9 962.9L1784.2 1036.9L1784.4 859.2L1784.5 1039.8L1784.9 848.9L1785.1 843L1785.2 1036.4L1785.6 851.7L1785.9 1006.6L1786.1 904L1786.3 1073.5L1786.6 995.2L1786.9 1050L1787.1 1017L1787.4 1049.6L1787.7 1073.3L1787.9 1032.5L1788.2 1023.6L1788.4 1083.7L1788.8 1056.6L1788.9 1023.4L1789.1 1032.8L1789.4 1059.4L1789.7 1020.7L1789.9 1034L1790 1031.3L1790.3 1004.8L1790.6 1062.2L1790.8 1031.7L1791.4 921.5L1791.5 1074L1791.7 917.2L1791.9 1024.4L1792 1060.1L1792.1 920L1792.7 956.9L1792.9 1061.2L1793 1007.2L1793.1 1067.6L1793.7 1036L1793.8 1065L1794.1 1036.2L1794.3 1041.3L1794.6 1040.7L1794.9 1039.1L1795 1024L1795.1 1053.3L1795.5 1037.6L1796 1006.9L1796.1 1038.1L1796.2 985.1L1796.9 854.7L1797 1048.8L1797.3 1035L1797.4 840.3L1797.6 1067L1797.7 835.9L1798 1084L1798.4 850.9L1798.6 1067.1L1798.7 854.8L1799 924.8L1799.4 1085.2L1799.7 1044L1800 1003.8L1800.1 1046.1L1800.3 988.9L1800.7 1067.2L1800.8 816.3L1801 1065.1L1801.5 725.8L1801.7 712.5L1801.9 1051.5L1802.2 1050.3L1802.3 730.5L1802.5 1075.7L1802.6 816.3L1803.2 988.9L1803.5 1082.4L1803.9 1020L1804 1069.1L1804.1 1006.7L1804.4 1051.5L1804.7 893.9L1804.8 1038.5L1805.2 1064.9L1805.3 843.5L1805.8 837.5L1806 1073.1L1806.2 1010.8L1806.3 841.3L1806.6 854.3L1806.8 1038.5L1807.1 950.3L1807.2 1033.2L1807.5 1006.7L1807.8 1042.8L1808 1019.6L1808.2 1045.9L1808.5 1046.2L1808.8 1026.1L1809.3 989L1809.4 1040.6L1809.6 1063.6L1809.8 878.6L1810.3 1076.8L1810.5 826.4L1810.7 1049.8L1811 820L1811.1 820L1811.5 1048.5L1811.6 1064.7L1812 834.9L1812.1 1066.9L1812.2 878.6L1812.8 1000L1812.9 1072.1L1813.3 1029.8L1813.4 1077.4L1813.6 1064.4L1813.7 1038.6L1814.1 1042.3L1814.5 1034.7L1814.5 1075L1814.6 1030L1815 1075L1815.2 997.3L1815.8 894.4L1815.9 1055.1L1816.3 1033L1816.4 878.1L1816.5 1070.2L1816.9 875L1817 875L1817.5 1053.8L1817.8 883.3L1817.9 898.4L1818.2 916.7L1818.5 1100.6L1818.6 986.9L1818.7 1083.8L1819 1023.1L1819.1 1077.1L1819.5 1048.6L1820 1030.4L1820.3 1014.1L1820.4 1048.8L1820.6 1022.3L1820.7 1072.9L1821.1 1063.7L1821.4 1021.9L1821.5 1066.2L1821.9 985.9L1822.4 1064.4L1822.5 935.1L1822.8 1078L1822.9 934.4L1823.2 930L1823.3 1032.9L1823.5 935.3L1823.7 1076L1824.2 939L1824.5 1069.2L1824.5 1094.9L1824.7 996.2L1825 1017.3L1825.5 1033.5L1825.9 1064.7L1825.9 1029L1826.3 1006.6L1826.4 1027.4L1826.7 1063L1826.9 871.7L1827.2 822.5L1827.3 1095.5L1827.7 800.8L1827.9 1042.8L1828.1 1057.2L1828.4 817.7L1828.5 828.6L1828.6 1078.5L1829.1 996.2L1829.4 1090.5L1829.7 1028.2L1829.9 1070.5L1830.1 1023.5L1830.2 1046.7L1830.6 1035L1831 1076.7L1831.2 1033.5L1831.4 1078L1831.6 1039.1L1831.9 1016.7L1832.3 1059L1832.3 964.9L1832.6 1074.6L1833 859.5L1833.2 1061.8L1833.3 865.8L1833.6 1049.5L1833.7 848.6L1834 852.7L1834.5 1056L1834.6 864.4L1834.8 1081.3L1835.2 1072.3L1835.3 991.9L1835.7 1026.7L1836 1075.7L1836.2 1039.4L1836.4 1063L1836.7 1022.1L1836.9 1045.4L1837 1056.1L1837.1 1032.4L1837.8 989.6L1837.9 1091.8L1838.1 1046.2L1838.4 729.6L1838.6 1043L1839 683.7L1839 683.7L1839.4 1053.9L1839.7 737.6L1839.8 1070.4L1840.1 970.4L1840.3 1070.9L1840.8 1029.9L1840.9 1040.7L1841.3 1061.3L1841.4 959L1841.6 1063.8L1841.9 872.3L1842.1 868.6L1842.5 876.4L1842.7 901.6L1842.8 1063.2L1843.2 1015.3L1843.4 1053L1843.8 1021.5L1843.9 1067.9L1844.1 1069.3L1844.3 1023.8L1844.6 1030.6L1844.8 1065L1845.2 1028.5L1845.4 1059.6L1845.5 1064.8L1845.8 1015L1846.2 1026.6L1846.4 1056.5L1846.5 1016.3L1846.9 1049L1847.4 1057.1L1847.4 1031.3L1847.5 1024.8L1847.9 1052.8L1848 1075.8L1848.1 1037L1848.8 1034.1L1848.9 1065.1L1849.1 1072.2L1849.2 1030.6L1849.9 1065.6L1850 1019.8L1850.2 1054L1850.2 1030.1L1850.7 1046.2L1850.8 1020.5L1851.3 1025.5L1851.4 1079.8L1851.8 1071.3L1851.9 1025L1852.3 1016.9L1852.3 1043.3L1852.5 1017.9L1852.9 1061.5L1853.2 1067L1853.4 1030L1853.7 1043.1L1853.8 1067.3L1854.1 1054.6L1854.4 1024L1854.8 1069.6L1854.9 1032.1L1855.1 1056.8L1855.3 1027.4L1855.6 1020.5L1855.8 1069.7L1856 1058.7L1856.1 1014.2L1856.7 1064.7L1856.7 1022.7L1857 1066.6L1857.3 1045.1L1857.5 1022.2L1857.8 1065L1858.3 1030.8L1858.4 1053.6L1858.7 1065.8L1858.9 1031.9L1859.1 1027.5L1859.4 1070.3L1859.7 1073.7L1859.8 1014.8L1860 1072.7L1860.2 1019.6L1860.7 1031.1L1860.8 1055.2L1861.1 1030.7L1861.4 1091.9L1861.6 1066.8L1861.7 1010.7L1862.3 1058.1L1862.4 1015.2L1862.8 1032.1L1862.9 1071.5L1863.1 1016.1L1863.5 1056.1L1863.6 1055.6L1863.9 1042.4L1864.2 1035.5L1864.5 1080.5L1864.5 1092.3L1864.9 1022.3L1865.2 1071.3L1865.4 1016L1865.7 1017.9L1865.9 1068.5L1866.2 1039.7L1866.4 1075.8L1866.7 1084.6L1866.9 1042.6L1867.3 1071L1867.5 1051.5L1867.9 1091.7L1868 1062.7L1868.1 1099.6L1868.4 1063.7L1868.7 1115.3L1868.7 1050.1L1869.4 1079.9L1869.5 1053.1L1869.9 1097.5L1870 1074.9L1870.1 1055.6L1870.4 1089.6L1870.6 1056L1870.9 1083.9L1871.2 1084.2L1871.2 1053.9L1871.7 1054.3L1871.9 1093.5L1872 1061L1872.4 1101.1L1872.5 1108.3L1872.8 1057.5L1873 1056.5L1873.1 1093.1L1873.6 1054.5L1873.9 1091.6L1874.2 1055.5L1874.3 1104.8L1874.6 1043.9L1874.8 1086.3L1875.3 1101L1875.3 1066.3L1875.6 1044.5L1875.6 1083.8L1876.1 1095.9L1876.3 1064.8L1876.7 1084L1876.8 1051.7L1877.1 1051.6L1877.2 1082.5L1877.5 1066.9L1877.8 1110.8L1878 1060.5L1878.2 1096.3L1878.7 1079.3L1878.8 1062.1L1879.1 1045.2L1879.3 1098.8L1879.9 1051.4L1879.9 1082.6L1880 1051.1L1880.5 1086.2L1880.7 1074.3L1881 1038.5L1881.1 1087.7L1881.3 1044.3L1881.7 1108.9L1881.9 1056L1882.4 1107.8L1882.5 1044.7L1882.7 1058.2L1882.9 1092.3L1883.4 1111.7L1883.5 1035.8L1883.7 1088.1L1883.7 1051.4L1884.1 1054.6L1884.2 1082.7L1884.5 1054.4L1884.7 1080.1L1885.2 1061.7L1885.2 1118.3L1885.8 1093.2L1885.9 1065.2L1886 1065L1886.3 1045.3L1886.7 1083.9L1886.9 989.4L1887.1 1110.8L1887.3 983L1887.5 987.7L1887.8 1097.5L1888 1022.7L1888.3 1083.3L1888.8 1068.9L1888.9 1043.9L1889 1029.4L1889.2 1100.1L1889.6 1040.8L1889.7 1094.9L1890.2 1086.6L1890.3 1044.9L1890.7 1043.9L1890.9 1088.1L1891.2 1058.8L1891.4 1077.8L1891.7 1094.5L1891.8 1063.1L1892.3 1044L1892.4 1081.2L1892.5 1058.5L1892.7 1085.1L1893.3 1102.5L1893.4 1053.5L1893.7 1048.5L1894 1085.3L1894.1 1045.3L1894.4 1105.3L1894.5 1041.6L1894.6 1107.2L1895.3 1062.9L1895.4 1078.6L1895.6 1097.9L1896 1038.8L1896.1 1045.1L1896.2 1095L1896.5 1067.3L1897 1093.7L1897 1045.3L1897.3 1088.2L1897.7 1084.1L1897.7 1046.4L1898.4 1086.1L1898.4 1038.6L1898.7 1064.6L1898.8 1090.4L1899 1049L1899.1 1085.2L1899.6 1082.5L1899.6 1058.7L1900.3 1104.1L1900.4 1052.1L1900.6 1092.6L1900.9 1063.8L1901.1 1060.3L1901.2 1095.1L1901.5 1054.6L1901.9 1093.7L1902 1053.6L1902.3 1090.2L1902.6 1043.3L1903 1070.8L1903.2 1099.3L1903.4 1073.1L1903.7 1086.6L1904 1048.8L1904 1055.3L1904.3 1090.4L1904.7 1029.4L1905 1094.3L1905.1 1089.8L1905.1 1050.5L1905.9 1040.5L1905.9 1083.5L1906.2 1086.2L1906.4 1041.3L1906.6 1076.2L1906.8 983.9L1907.1 979.7L1907.3 1091L1907.5 1093.2L1907.9 1041.3L1908 1053.1L1908.3 1074.6L1908.6 1103L1908.8 1050.7L1909.1 1092.8L1909.4 1046.5L1909.8 1090.9L1909.9 1043.6L1910 1090.3L1910.4 1038L1910.9 1050.4L1911 1080.7L1911 1061.4L1911.2 1107.7L1911.7 1064.6L1912 1098.4L1912.3 1076.8L1912.4 1042.7L1912.8 1044.2L1912.9 1096.4L1913 1090.3L1913.1 1031.7L1913.5 1104.7L1913.6 1055.8L1914.1 1089.9L1914.3 1035.6L1914.8 1101.4L1914.9 1051.2L1915.1 1056.8L1915.3 1090.5L1915.7 1044.9L1915.9 1090.9L1916.1 1094.7L1916.5 1048.6L1916.6 1050.9L1917 1116.7L1917.1 1037.9L1917.3 1086.5L1917.7 1047.9L1918 1090.7L1918.4 1086.1L1918.5 1039.6L1918.8 1079L1918.9 1038.8L1919.1 1050.1L1919.4 1088.7L1919.6 1048.5L1919.8 1106.8L1920.3 1093.1L1920.4 1056.9L1920.7 1047.2L1921 1091.9L1921.3 1078.3L1921.5 1036L1921.7 1037L1921.9 1094.2L1922.1 1050.5L1922.2 1102.9L1922.6 1097.2L1922.7 1057.3L1923 1039.9L1923.1 1078.1L1923.6 1051.5L1923.8 1104.7L1924.3 1061.9L1924.4 1098.9L1924.8 1054.2L1924.9 1117.7L1925.1 1113.3L1925.4 1047.1L1925.8 1099.3L1925.8 1056L1926 1050.2L1926.4 1097.1L1926.6 1098.1L1926.8 1045.5L1927.1 1109.8L1927.1 1034.7L1927.6 1098.9L1927.7 1054.9L1928.4 1081.1L1928.4 1038.1L1928.8 1098.3L1928.9 791.4L1929.3 770.6L1929.4 1071.7L1929.6 787.9L1929.7 1105.3L1930.1 1105.9L1930.2 1028.1L1930.9 1044.9L1930.9 1076.4L1931.2 1053.4L1931.4 1102.6L1931.7 1081.2L1931.9 1044.8L1932 1086.2L1932.2 1059L1932.7 1112.2L1933 1055L1933.2 1096.3L1933.4 1044.7L1933.8 1054.8L1933.9 1106.6L1934.2 1060.6L1934.3 1087.7L1934.6 1092.3L1934.7 1035.7L1935.1 1101.6L1935.2 1038.2L1935.6 1051.6L1936 1095.8L1936 1086.9L1936.1 1052.9L1936.5 1089.4L1936.6 1052.9L1937.2 1115.2L1937.3 1048.3L1937.9 1117.5L1937.9 932.4L1938 1073.4L1938.3 922L1938.5 928.6L1939 1099.7L1939 1043.7L1939.1 1083.2L1939.9 1038L1940 1089.7L1940 1040L1940.3 1101.6L1940.6 1043.6L1941 1092.3L1941 1056.1L1941.4 1092.7L1941.8 1107.2L1941.8 1050.5L1942.2 1086.3L1942.4 1063L1942.8 1094.2L1942.8 1058.6L1943.3 1048.7L1943.4 1096.7L1943.8 1110.1L1944 1030.1L1944.1 1086.9L1944.3 1039.5L1944.6 1043.7L1944.9 1096.5L1945 1089.9L1945.4 1033.5L1945.5 1047.1L1945.9 1105.2L1946.4 1081.8L1946.5 1032.2L1946.6 1081.7L1947 1046.5L1947.4 1091.7L1947.4 1021.5L1947.9 1086.2L1948 949L1948.1 951.3L1948.3 1100.6L1948.6 1042.6L1948.7 1078.1L1949.2 1092.6L1949.4 1062.5L1949.5 1050.8L1949.8 1105.9L1950.1 1046.3L1950.4 1109.3L1950.5 1048.7L1950.8 1090.6L1951.4 1109.3L1951.4 1032.4L1951.9 1048.9L1952 1088.7L1952.4 1051.6L1952.5 1077.8L1952.8 1058.2L1952.9 1087.2L1953.3 1087.8L1953.4 1044.3L1953.6 1095.2L1953.8 1054.9L1954.1 1038.9L1954.4 1079.6L1954.8 1036.5L1955 1102.1L1955.1 1105.1L1955.2 1046.7L1955.8 1047.3L1955.9 1111.2L1956.1 1042.7L1956.4 1090L1956.6 1047.4L1956.8 1092.8L1957.1 1095.5L1957.4 1058.8L1957.7 1093.7L1957.9 1041.9L1958.2 1102.1L1958.3 1053.9L1958.7 1048.8L1958.8 1109.8L1959.1 1040.2L1959.4 1103.8L1959.6 1050.8L1959.9 1094.4L1960.2 1036.9L1960.4 1088.1L1960.6 1115L1960.9 1040L1961.2 1101.7L1961.4 1046.9L1961.6 1097.6L1962 1041L1962.3 1095.2L1962.4 1041.1L1962.7 1042.4L1962.7 1097.2L1963.4 1032.3L1963.5 1086L1963.5 1051.2L1964 1081.8L1964.2 1087.3L1964.2 1052.3L1964.6 1079.7L1964.8 1042.3L1965.2 1036.9L1965.4 1102.7L1965.9 1038.7L1966 1095.7L1966.2 1096.5L1966.3 1046.4L1966.7 1095.6L1966.9 1047.8L1967.2 1053.1L1967.4 1097.5L1967.9 1100.5L1968 1054.1L1968 1111.5L1968.1 1064.9L1968.8 1054.6L1968.9 1106.9L1969.2 1048.1L1969.4 1095.6L1969.6 1037L1970 1117.1L1970.3 1052L1970.4 1105L1970.8 1105L1971 1057.6L1971.3 1046.4L1971.3 1117L1971.7 1097.2L1971.9 1039.1L1972.3 1107.8L1972.5 1034.4L1972.5 1098.2L1972.7 1047.4L1973.1 1086.4L1973.4 1043.1L1973.6 1060.5L1973.9 1083.5L1974.3 1102.7L1974.5 1042.7L1974.9 1055.8L1975 1093.6L1975.4 1047.5L1975.4 1098.1L1975.8 1106.7L1976 1036.7L1976.1 1055.5L1976.4 1114.4L1976.6 1104L1976.9 1039.9L1977.3 1042.5L1977.5 1095.9L1977.7 1055.5L1977.7 1086.5L1978.2 1043L1978.3 1089.7L1978.7 1052.3L1978.9 1105.3L1979.3 1049.9L1979.4 1092.1L1979.7 1059.6L1979.9 1098.6L1980.5 1101.7L1980.5 1057.7L1980.9 1048L1980.9 1086.7L1981.3 1116.9L1981.4 1039.5L1981.7 1048.7L1981.9 1108.4L1982.2 1103.7L1982.4 1051.7L1982.8 1099.5L1982.8 1044.3L1983.1 1040L1983.1 1103.6L1983.7 1056.5L1983.8 1106.9L1984.1 1042.2L1984.5 1109L1984.7 1040.3L1984.9 1102.1L1985.1 1088L1985.1 1050.8L1985.5 1052.7L1985.7 1102.1L1986.4 1090.2L1986.5 1037.5L1986.8 1099.1L1986.8 1049.1L1987.1 1039.7L1987.2 1104.4L1987.5 1045.5L1987.6 1097.6L1988.2 1057.8L1988.5 1106.6L1988.6 1047.8L1988.7 1098.4L1989.3 1068.8L1989.4 1105.8L1989.5 1105.8L1989.9 1051.2L1990.2 1108.4L1990.4 1034.9L1990.6 1101.8L1991 1051L1991.1 1097.5L1991.2 1031.6L1991.6 1036.5L1991.6 1085.1L1992.2 1050.2L1992.5 1089.1L1992.9 1084.2L1992.9 1032.9L1993.1 1116.7L1993.4 1041L1993.8 1097.1L1993.9 1050.2L1994.1 1043.4L1994.2 1097.3L1994.8 1049.5L1995 1096.1L1995.2 1045.2L1995.4 1086.9L1995.5 1047.5L1995.7 1089.6L1996.1 1051.8L1996.4 1086L1996.5 1100.1L1996.9 1040.2L1997.3 1057.3L1997.4 1093.9L1997.6 1027.2L1997.7 1091.8L1998.4 1057.5L1998.5 1104.3L1998.8 1108.2L1998.9 1045.8L1999.2 1099.8L1999.4 1048L1999.9 1102L1999.9 1054L2000.2 1046.4L2000.3 1105L2000.8 1103.3L2000.9 1029.6L2001.2 1084.5L2001.4 1047.5L2001.6 1078.9L2002 1053.5L2002.1 1051.9L2002.2 1086.6L2002.8 1103.8L2002.8 1045.4L2003 1052.2L2003.1 1087.6L2003.6 1093.7L2003.6 1048.5L2004 1104.3L2004.1 1048.3L2004.7 1090.8L2005 1041.1L2005.1 1092.6L2005.4 1032.9L2005.6 1091.8L2006 1034.4L2006 1039.7L2006.5 1084.8L2006.9 1042.5L2007 1102.8L2007.3 1097.6L2007.4 1045.4L2007.6 1091.2L2007.9 1038.3L2008 1099.2L2008.2 1040L2008.8 1021.2L2009 1091.9L2009.1 1093.6L2009.4 1052.2L2009.6 1028.8L2009.6 1085.3L2010.1 1094L2010.2 1047.6L2010.6 1042.2L2010.9 1100.4L2011.1 1100.1L2011.1 1050.4L2011.6 1059.7L2011.8 1098.6L2012.1 1048.3L2012.3 1096L2012.7 1041.6L2012.7 1104.6L2013.2 1047.8L2013.2 1088.6L2013.8 1093.1L2013.9 1039L2014.1 1020.5L2014.3 1098.6L2014.5 1049L2014.7 1108.2L2015.4 1044.7L2015.4 1097.2L2015.6 1038.5L2015.8 1102.9L2016.3 1090L2016.5 1040.8L2016.7 1106.4L2016.9 1050.1L2017 1038.9L2017.1 1093.9L2017.8 1085L2017.8 1037.6L2018.4 1044.8L2018.4 1092.9L2018.6 1051L2018.8 1087.6L2019.3 1045.8L2019.5 1093.1L2019.6 1088.2L2019.8 1043.2L2020.3 1088.7L2020.3 1030.5L2020.5 1105.5L2020.8 1049.3L2021.4 1115.6L2021.5 1045L2021.7 1104.2L2021.7 1051.3L2022.2 1047.8L2022.4 1095.8L2022.6 1050.7L2022.7 1100L2023 1098.8L2023.2 1057.7L2023.6 1035L2023.8 1098.3L2024.2 1098L2024.2 1046.3L2024.5 1038.2L2024.8 1115.3L2025.4 1086.8L2025.4 1047.2L2025.9 1044.1L2025.9 1096.6L2026 1098L2026.2 1042.1L2026.7 1086.2L2026.9 1046.4L2027.2 1037L2027.4 1090.7L2027.5 1095.1L2027.9 1045.3L2028.1 1094.7L2028.2 1030.4L2028.7 1055L2028.8 1087.3L2029.2 1039.9L2029.4 1088.2L2029.8 1111.4L2029.9 1044.6L2030 1109.7L2030.2 1039.3L2030.7 1039.3L2030.9 1094.3L2031.3 1043L2031.4 1092.9L2031.7 1104.5L2031.9 1036.3L2032.1 1097.7L2032.4 1045.6L2032.6 1051.2L2033 1102.9L2033 1102.2L2033.5 1044.4L2033.6 1054.1L2033.7 1075.6L2034.4 1081.9L2034.4 1048.5L2034.8 1091.5L2034.9 1039.4L2035.2 1092.4L2035.2 1050.9L2035.7 1093L2035.8 1047.6L2036.1 1104.1L2036.3 1039.9L2036.5 1093.7L2036.7 1048.3L2037.2 1098.5L2037.4 1057.1L2037.6 1085.5L2037.7 1049.7L2038.2 1047.1L2038.3 1087.8L2038.9 1040.3L2038.9 1114L2039.1 1101L2039.4 1035.5L2039.6 1043.9L2039.7 1098.5L2040 1098.5L2040.3 1038.6L2040.6 1097.6L2040.8 1026.4L2041.2 1094.9L2041.3 1026.5L2041.7 1038.5L2041.7 1111.3L2042.1 1040.2L2042.5 1101.7L2042.5 1104.2L2042.6 1043.2L2043.3 1110.1L2043.3 1052.7L2043.6 1040.1L2043.9 1087.3L2044.1 1048.1L2044.2 1084.1L2044.6 1045.8L2044.6 1094.6L2045.2 1045.3L2045.3 1101.2L2045.5 1090.8L2045.8 1050.3L2046.1 1113.4L2046.1 1038.9L2046.5 1109.6L2046.7 1045.4L2047 1092.4L2047.3 1051.6L2047.5 1085.5L2047.9 1037.6L2048.1 1094.2L2048.4 1041.3L2048.5 1081L2048.6 1034.4L2049.2 1106L2049.3 1031.5L2049.8 1090.7L2049.9 1032.8L2050.2 1099.4L2050.2 1039.2L2050.6 1045.6L2050.9 1100L2051.1 1098.2L2051.5 1041.8L2051.6 1097.5L2051.9 1051.5L2052.1 1088.6L2052.4 1040.3L2052.7 1033.9L2053 1112.8L2053 1038.8L2053.3 1082.7L2053.6 1112.8L2053.9 1041L2054 1087.9L2054.5 1033.9L2054.8 1086.2L2054.8 1033.2L2055.3 1087.5L2055.4 1038.4L2055.6 1050.2L2055.9 1098.6L2056.1 1024.5L2056.2 1098.2L2056.5 1036.8L2056.8 1080.1L2057.3 1090.5L2057.3 1043.1L2057.8 1035L2058 1090L2058 1038.7L2058.4 1085.7L2058.6 1096.7L2058.7 1037.9L2059 1101.1L2059.1 1033.9L2059.6 1100L2060 1033L2060.3 1031.9L2060.5 1085.2L2060.6 1043.3L2061 1086.1L2061.1 1028.4L2061.1 1097.1L2061.6 1101L2061.7 1033.9L2062.1 1084.2L2062.3 1042.9L2062.8 1045.4L2062.9 1082.3L2063.3 1091L2063.4 1037.5L2063.6 1033.5L2064 1089L2064.1 1097.8L2064.2 1042.3L2064.7 1037.6L2064.9 1082.8L2065 1094.3L2065.5 1027L2065.8 1087.5L2066 1032.5L2066.1 1085.8L2066.4 1041.5L2066.7 1033.1L2066.9 1099.2L2067.3 1089.4L2067.4 1044.8L2067.7 1034.8L2068 1085L2068.1 1038.4L2068.5 1087.3L2068.6 1097.3L2068.9 1038.9L2069.1 1040.6L2069.5 1089.2L2069.6 1033.4L2069.9 1104.9L2070.3 1091.9L2070.5 1033.2L2070.8 1035.5L2070.9 1089.7L2071.1 1090.6L2071.4 1040L2071.6 1036.4L2071.9 1108.1L2072.1 1092.3L2072.2 1034.2L2072.5 1031.7L2072.6 1096.7L2073.2 1031.9L2073.3 1096.1L2073.9 1030.2L2074 1092.2L2074.1 1095.5L2074.2 1034.5L2074.7 1084.8L2074.8 1030.9L2075.2 1044.3L2075.3 1093.4L2075.5 1094.2L2075.9 1039.6L2076.2 1033.6L2076.5 1085.3L2076.6 1041.7L2076.9 1093.2L2077.1 1040.8L2077.4 1098.5L2077.8 1086.9L2077.9 1040.2L2078.2 1030.6L2078.3 1097.9L2078.6 1029.2L2078.9 1110.6L2079.1 1094.5L2079.3 1041.7L2079.5 1087.4L2080 1031.5L2080.1 1044.3L2080.2 1086.7L2080.7 1100.8L2080.9 1043.8L2081 1099.5L2081.4 1036.7L2081.9 1086.4L2082 1042.2L2082.1 1034.5L2082.4 1084.1L2082.5 1098.4L2082.9 1030.3L2083.2 1094.2L2083.4 1044.9L2083.6 1103.3L2083.9 1036.2L2084.2 1039.5L2084.5 1088.8L2084.9 1028.6L2085 1076.7L2085.3 1109.1L2085.4 1017.3L2085.5 1109.9L2085.7 1044.2L2086.2 1037.6L2086.2 1094.6L2086.5 1109.8L2087 1036.6L2087.2 1042L2087.4 1100.1L2087.6 1035.6L2087.8 1085.1L2088.2 1044.5L2088.2 1086.1L2088.6 1028.9L2088.9 1084.7L2089 1041.3L2089.3 1101.1L2089.8 1096.4L2090 1046.3L2090.3 1096.5L2090.5 1028.2L2090.8 1086.7L2090.9 1035.5L2091.2 1095.9L2091.5 1039.7L2091.5 1031.1L2091.9 1100.5L2092.2 1041.6L2092.5 1091.6L2092.5 1034.7L2093 1109.2L2093.2 1090.2L2093.2 1037.1L2093.6 1098.5L2093.9 1033.9L2094.1 1033.5L2094.2 1101.7L2094.7 1024.9L2094.9 1109L2095 1025.1L2095.3 1084.7L2095.8 1036.7L2095.8 1093.5L2096.1 1036.5L2096.3 1094.3L2096.6 1088L2096.7 1032.9L2097.1 1037L2097.5 1104.7L2097.6 1091.2L2097.7 1040.6L2098.3 1103.9L2098.3 1035.4L2098.7 1086.1L2098.9 1036.1L2099.2 1105.5L2099.4 1035L2099.6 1079L2099.8 1030.4L2100 1026.7L2100.4 1108.4L2100.8 1028.6L2100.8 1095.7L2101.1 1040.9L2101.4 1093.7L2101.6 1085.6L2101.7 1026.6L2102.3 1032.9L2102.4 1106.3L2102.7 1090L2102.8 1026.2L2103.1 1100.6L2103.3 1040L2103.7 1096L2103.9 1042.7L2104 1037.8L2104.1 1082.5L2104.8 1086.2L2104.9 1030.2L2105.1 1088.5L2105.2 1028.5L2105.8 1085.8L2105.9 1034.9L2106.3 1037.7L2106.4 1107.9L2106.7 1105.8L2106.9 1023L2107.2 1033.8L2107.3 1097.1L2107.6 1035.4L2107.8 1101.6L2108.1 1089.2L2108.2 1032.8L2108.6 1102.3L2109 1030.1L2109.2 1039.7L2109.3 1107.6L2109.5 1035.4L2109.8 1083L2110 1034.3L2110.2 1091.3L2110.8 1084.5L2110.9 1030.6L2111.1 1035.3L2111.1 1097.7L2111.6 1107.3L2111.8 1035.8L2112.4 1039.7L2112.5 1092L2112.7 1042.5L2112.8 1083.5L2113.3 1081.1L2113.3 1036.8L2113.6 1035.6L2113.7 1087.1L2114.2 1027.7L2114.3 1087.8L2114.5 1032L2114.7 1091.2L2115.3 1038.8L2115.5 1085.3L2115.8 1098.2L2115.8 1028.7L2116.4 1094.1L2116.4 1013.1L2116.7 1096.3L2116.9 1031.5L2117.3 1081.3L2117.5 1029.7L2117.6 1091.3L2117.9 1039.1L2118.2 1089.1L2118.4 1037.6L2118.6 1027.4L2118.9 1093.6L2119.2 1023L2119.3 1099.2L2119.5 1031.6L2119.9 1092.7L2120.1 1036.2L2120.1 1085.2L2120.8 1025.1L2120.8 1090.5L2121.1 1101.7L2121.2 1035.7L2121.6 1027.3L2121.7 1104.9L2122.2 1035.7L2122.3 1093.4L2122.8 1106.2L2122.9 1037.6L2123.2 1034.8L2123.4 1106.2L2123.9 1088.6L2123.9 1035.3L2124.3 1029.9L2124.3 1091.9L2124.7 1088L2125 1028.1L2125.3 1081.4L2125.4 1030.5L2125.5 1101.5L2126 1026.8L2126.2 1089.1L2126.3 1034.8L2126.6 1035.6L2126.7 1099.9L2127.2 1035.7L2127.4 1090L2127.8 1090.7L2127.8 1018.7L2128.1 1092.1L2128.3 1037.8L2128.5 1022.3L2128.9 1077.3L2129.3 1036.9L2129.4 1091.3L2129.5 1098.4L2129.7 1029.4L2130.2 1095.1L2130.4 1032.4L2130.6 1105.5L2130.7 1037.1L2131.1 1026.6L2131.5 1080.9L2131.8 1026.3L2132 1078L2132.3 1038.2L2132.4 1092L2132.6 1020.8L2133 1079.9L2133 1099.4L2133.1 1025.5L2133.8 1091.2L2133.9 1030.2L2134.1 1019.9L2134.2 1080.4L2134.7 1094.9L2135 1030.1L2135.1 1097.5L2135.2 1023.1L2135.9 1031.6L2135.9 1081.6L2136.1 1033.3L2136.3 1097.5L2136.9 1019.3L2137 1092.1L2137.1 1026.5L2137.4 1103.6L2137.6 1100L2137.9 1033.4L2138.2 1092.3L2138.3 1018.1L2138.5 1019.5L2138.8 1104.6L2139.1 1104.6L2139.4 1025.4L2139.5 1090.5L2139.7 1020L2140.2 1097.5L2140.3 1027.8L2140.5 1031.5L2140.9 1091.4L2141.2 1035.6L2141.4 1094.5L2141.5 1097.2L2141.6 1023.1L2142.2 1018L2142.3 1084.2L2142.7 1035.1L2142.9 1104.2L2143.2 1088.9L2143.4 1032.9L2143.6 1022.1L2143.8 1088L2144.1 1029.5L2144.3 1082.6L2144.7 1017.6L2144.9 1093L2145.4 1073.4L2145.5 1021.5L2145.5 1080.5L2145.7 1026.1L2146.3 1030.3L2146.5 1086.8L2146.5 1026.6L2146.9 1085.1L2147.2 1097.1L2147.3 1036L2147.6 1075.7L2147.7 1022.1L2148 1103.7L2148.2 1026.2L2148.5 1082.9L2148.9 1030.6L2149.3 1023.4L2149.5 1085.6L2149.6 1100.1L2149.9 1032L2150.1 1032.5L2150.4 1085.9L2150.7 1028.2L2150.7 1088.8L2151.1 1032.1L2151.5 1101.9L2151.8 1019.7L2151.9 1092L2152.2 1025.1L2152.2 1077.2L2152.6 1038.6L2152.9 1084.1L2153.2 1032.8L2153.4 1081.8L2153.8 1036.2L2153.9 1103.2L2154 1018.2L2154.2 1089.2L2154.6 1027L2154.9 1103.1L2155.1 1093L2155.2 1035L2155.6 1022.7L2155.7 1093.1L2156 1081.5L2156.4 1030.9L2156.8 1077.4L2156.8 1013.6L2157.1 1082.2L2157.5 1009.6L2157.5 1028.1L2157.7 1093.6L2158.1 1021.7L2158.3 1081.8L2158.7 1078.4L2158.9 1029L2159.2 1091.7L2159.4 1035.4L2159.7 1097.7L2159.8 1023.8L2160.3 1096.3L2160.4 1033.3L2160.5 1073.1"/>
<path stroke="#bf00bf" d="M396.4 703L526.6 686.8L602.8 685L656.8 704L698.7 625L733 523.2L761.9 499L787 456L809.1 399L828.9 387.2L846.8 411.6L863.1 404L878.2 375.9L892.1 391.2L905 414.8L917.2 423.7L928.6 472.2L939.3 504.2L949.4 531L959.1 568L968.2 585.9L977 582.7L985.3 596.1L993.3 624.1L1001 668.8L1008.4 704.4L1015.4 711.4L1022.3 734.4L1028.9 748.4L1035.2 779L1041.4 799.5L1047.3 808.5L1053.1 819.3L1058.7 845.9L1064.2 842L1069.5 837.4L1074.6 840.5L1079.6 854.4L1084.5 874L1089.3 856.4L1093.9 869.6L1098.4 885.7L1102.8 864.5L1107.2 841L1111.4 825L1115.5 832L1119.5 833.8L1123.5 806L1127.4 786.8L1131.2 781L1134.9 776L1138.5 770.8L1142.1 765.7L1145.6 761.3L1149.1 742.7L1152.5 759.3L1155.8 779L1159 791.9L1162.3 754.8L1165.4 693.6L1168.5 672.5L1171.6 675.7L1174.6 711.4L1177.5 747L1180.4 711L1183.3 656.6L1186.1 642.6L1188.9 637L1191.7 642.6L1194.4 665.5L1197 693.6L1199.7 710L1202.2 694L1204.8 700L1207.3 691L1209.8 655L1212.3 672L1214.7 700L1217.1 707L1219.4 709L1221.8 695L1224.1 730L1226.4 793L1228.6 780L1230.8 735L1233 723L1235.2 750L1237.3 770L1239.5 788L1241.6 790L1243.6 770L1245.7 753L1247.7 760L1249.7 775L1251.7 787L1253.7 789L1255.6 790L1257.6 792L1259.5 840L1261.3 884L1263.2 883L1265.1 872L1266.9 835L1268.7 824L1270.5 850L1272.3 875L1274.1 893L1275.8 897L1277.5 905L1279.2 920L1280.9 935L1282.6 924L1284.3 925L1286 935L1287.6 927L1289.2 917L1290.8 933L1292.4 940L1294 915L1295.6 904L1297.1 915L1298.7 935L1300.2 950L1301.7 927.8L1303.3 925.2L1304.8 919.6L1306.2 929.4L1307.7 929.5L1309.2 937.2L1310.6 944.3L1312.1 936.1L1313.5 941.7L1314.9 949.7L1316.3 947L1317.7 941.6L1319.1 941.5L1320.5 941L1321.8 939.5L1323.2 934.2L1324.5 916.6L1325.9 886L1327.2 886L1328.5 916.6L1329.8 934.2L1331.1 939.5L1332.4 941L1333.7 941.5L1335 937.8L1336.2 937.1L1337.5 934.8L1338.7 927.1L1340 901.5L1341.2 816.1L1342.4 667L1343.7 667L1344.9 816.1L1346.1 901.5L1347.3 927.1L1348.4 934.8L1349.6 937.1L1350.8 969.7L1352 952.7L1353.1 949L1354.3 953.1L1355.4 950.9L1356.5 958.9L1357.7 957.6L1358.8 967.8L1359.9 977.2L1361 991.7L1362.1 986.9L1363.2 971.9L1364.3 966.1L1365.4 947.3L1366.5 941.1L1367.5 941.3L1368.6 957.1L1369.6 973L1370.7 953.4L1371.7 938.8L1372.8 944.3L1373.8 937.7L1374.8 949.1L1375.9 933L1376.9 967.8L1377.9 967.9L1378.9 961.4L1379.9 949.6L1380.9 946.8L1381.9 946.6L1382.9 958.4L1383.9 957.1L1384.8 955.2L1385.8 949.3L1386.8 948.1L1387.7 932.7L1388.7 945.4L1389.6 930.4L1390.6 909.3L1391.5 907.7L1392.5 902.1L1393.4 931.5L1394.3 938.6L1395.2 922.1L1396.2 883.6L1397.1 886.6L1398 873.9L1398.9 889.9L1399.8 902.9L1400.7 888.4L1401.6 895.8L1402.5 883.3L1403.4 876.7L1404.2 865.8L1405.1 888.5L1406 896.8L1406.9 890.7L1407.7 867.8L1408.6 877.1L1409.4 916.7L1410.3 928.2L1411.1 941.8L1412 942.1L1412.8 919L1413.7 914L1414.5 936.9L1415.3 935.5L1416.1 901.7L1417 906.3L1417.8 905.8L1418.6 923.8L1419.4 914.1L1420.2 909.7L1421 905.7L1421.8 913.9L1422.6 925.9L1423.4 904L1424.2 883.9L1425 872L1425.8 890.1L1426.6 889.2L1427.3 864.2L1428.1 846.3L1428.9 841.8L1429.6 860.2L1430.4 875.4L1431.2 849L1431.9 834.2L1432.7 819.4L1433.4 864.8L1434.2 847.5L1434.9 856L1435.7 862.3L1436.4 883.9L1437.2 902L1437.9 864.3L1438.6 853.2L1439.4 882.3L1440.1 897.8L1440.8 895L1441.5 878.2L1442.2 902.7L1443 866.9L1443.7 866.3L1444.4 871.8L1445.1 876.3L1445.8 891.8L1446.5 905.2L1447.2 910.9L1447.9 933.8L1448.6 937.7L1449.3 924.8L1450 897.8L1450.7 890.7L1451.3 917.3L1452 911.1L1452.7 893.4L1453.4 912.5L1454.1 922.7L1454.7 904.3L1455.4 905.9L1456.1 914.7L1456.7 918.2L1457.4 914.6L1458 912.2L1458.7 909.6L1459.4 903.4L1460 919.4L1460.7 915.1L1461.3 914.2L1462 941.1L1462.6 958.9L1463.2 922.3L1463.9 953.6L1464.5 932.7L1465.2 894.9L1465.8 894.6L1466.4 909.6L1467.1 901.7L1467.7 911.9L1468.3 915.2L1468.9 910.4L1469.6 901.5L1470.2 917.7L1470.8 930.7L1471.4 939.7L1472 939.8L1472.6 939.9L1473.2 903L1473.8 886.8L1474.4 914.8L1475 877.1L1475.6 872.3L1476.2 864.5L1476.8 889.4L1477.4 860.5L1478 890.4L1478.6 895.9L1479.2 901.7L1479.8 896.7L1480.4 880L1481 824.3L1481.6 727L1482.1 824.3L1482.7 880L1483.3 896.7L1483.9 891.5L1484.4 903.2L1485 942L1485.6 928.6L1486.2 916.5L1486.7 901.8L1487.3 876.7L1487.8 892.9L1488.4 934L1489 942.7L1489.5 941.8L1490.1 899.5L1490.6 882.1L1491.2 865.2L1491.7 897.9L1492.3 898.6L1492.8 874.4L1493.4 881.4L1493.9 882.1L1494.5 888.5L1495 909.7L1495.6 889.3L1496.1 879.6L1496.6 911L1497.2 938.1L1497.7 915.7L1498.2 911.6L1498.8 894.2L1499.3 877.1L1499.8 884.6L1500.4 886.5L1500.9 858.5L1501.4 882.1L1501.9 888.8L1502.4 887.7L1503 883.7L1503.5 864.3L1504 787.2L1504.5 750L1505 750L1505.5 826.6L1506.1 870.1L1506.6 883.7L1507.1 887.7L1507.6 888.8L1508.1 903L1508.6 870.5L1509.1 861.6L1509.6 895.7L1510.1 911.2L1510.6 894L1511.1 884L1511.6 883.3L1512.1 860.9L1512.6 846.2L1513.1 901.1L1513.6 908.1L1514 876.1L1514.5 882.3L1515 927.6L1515.5 912.2L1516 897.8L1516.5 884.8L1517 863.1L1517.4 854.1L1517.9 887L1518.4 910.3L1518.9 907.1L1519.3 874.1L1519.8 873.7L1520.3 872.4L1520.8 868L1521.2 853.4L1521.7 804.8L1522.2 732.3L1522.6 720L1523.1 732.3L1523.6 804.8L1524 853.4L1524.5 868L1525 853.5L1525.4 873.7L1525.9 883.5L1526.3 893.6L1526.8 911.1L1527.3 897L1527.7 862.1L1528.2 898.4L1528.6 866.8L1529.1 862.4L1529.5 907.6L1530 899.6L1530.4 870.9L1530.9 852.5L1531.3 842.9L1531.8 863.9L1532.2 862.5L1532.7 842.8L1533.1 869.8L1533.5 872.3L1534 860.5L1534.4 810.1L1534.9 823.4L1535.3 815.8L1535.7 819.8L1536.2 835.3L1536.6 842.3L1537 837.2L1537.5 779.9L1537.9 680L1538.3 779.9L1538.8 837.2L1539.2 840.3L1539.6 827.6L1540 853.5L1540.5 841.5L1540.9 861.9L1541.3 848L1541.7 861.7L1542.2 870.2L1542.6 798.7L1543 826.4L1543.4 861.8L1543.8 836.8L1544.3 809.6L1544.7 829.6L1545.1 867.3L1545.5 845.5L1545.9 823.9L1546.3 871.3L1546.7 890.2L1547.1 864L1547.6 866.7L1548 910.9L1548.4 910.1L1548.8 848.1L1549.2 829.2L1549.6 823L1550 858.9L1550.4 868.2L1550.8 861.7L1551.2 863.7L1551.6 857.9L1552 853.5L1552.4 846.4L1552.8 839.3L1553.2 854.9L1553.6 778.7L1554 836.2L1554.4 858.3L1554.8 881.2L1555.2 904.2L1555.6 870.8L1556 830.4L1556.3 838.8L1556.7 833.1L1557.1 877.6L1557.5 890.7L1557.9 908.6L1558.3 858.3L1558.7 856.4L1559.1 874.7L1559.4 832.8L1559.8 850.2L1560.2 840.3L1560.6 827.7L1561 772L1561.4 839.6L1561.7 826.8L1562.1 836.6L1562.5 866.5L1562.9 868.3L1563.2 858.3L1563.6 824.5L1564 902.9L1564.4 851.8L1564.7 857.2L1565.1 833.1L1565.5 850.7L1565.9 874L1566.2 829.5L1566.6 841.1L1567 900L1567.3 847.8L1567.7 856.2L1568.1 862.8L1568.4 841.1L1568.8 860.6L1569.2 838.1L1569.5 846.1L1569.9 829.9L1570.3 829.7L1570.6 835.1L1571 819.5L1571.3 851.7L1571.7 842.5L1572.1 843.7L1572.4 848.7L1572.8 836.9L1573.1 836.5L1573.5 850.4L1573.9 808.1L1574.2 846.1L1574.6 848.1L1574.9 832L1575.3 824.2L1575.6 803.9L1576 775.5L1576.3 798.8L1576.7 816.8L1577 835.6L1577.4 812.8L1577.7 836.1L1578.1 830.8L1578.4 822.3L1578.8 840.9L1579.1 847.1L1579.5 825.1L1579.8 788.3L1580.2 783.5L1580.5 814.6L1580.8 855.4L1581.2 840.9L1581.5 824.7L1581.9 801.2L1582.2 812.1L1582.5 852.1L1582.9 820.4L1583.2 861L1583.6 882.3L1583.9 845.4L1584.2 837.8L1584.6 827.3L1584.9 821.6L1585.2 837.7L1585.6 833L1585.9 829.3L1586.2 865.6L1586.6 840.9L1586.9 801.2L1587.2 810L1587.6 847.6L1587.9 831.8L1588.2 814.9L1588.6 806.3L1588.9 848L1589.2 777.4L1589.5 818.9L1589.9 817.7L1590.2 780.1L1590.5 804.9L1590.8 771.3L1591.2 721.2L1591.5 712.7L1591.8 721.2L1592.1 771.3L1592.5 804.9L1592.8 815L1593.1 818L1593.4 818.9L1593.7 814.1L1594.1 808.7L1594.4 829.4L1594.7 825.1L1595 823.9L1595.3 850.2L1595.7 801.1L1596 799.6L1596.3 812.8L1596.6 806.2L1596.9 816.4L1597.2 819.7L1597.6 806L1597.9 857.9L1598.2 860L1598.5 848.1L1598.8 860L1599.1 807.9L1599.4 797.6L1599.7 780.3L1600 768.3L1600.4 793L1600.7 808.2L1601 873.5L1601.3 882.9L1601.6 818L1601.9 825.1L1602.2 818.4L1602.5 818.9L1602.8 777.8L1603.1 834.9L1603.4 785.3L1603.7 807.7L1604 786.3L1604.3 761.4L1604.6 776.8L1604.9 814L1605.2 807.5L1605.5 806L1605.8 811.9L1606.1 792.9L1606.4 781.5L1606.7 775.7L1607 800.2L1607.3 825.1L1607.6 783.7L1607.9 799.4L1608.2 800.3L1608.5 813.3L1608.8 836.2L1609.1 798.5L1609.4 799.9L1609.7 778.8L1610 777.7L1610.3 777.5L1610.6 775.1L1610.9 768.6L1611.2 751.9L1611.4 710.8L1611.7 713.8L1612 702L1612.3 704.2L1612.6 709.2L1612.9 751.9L1613.2 768.6L1613.5 775.1L1613.8 777.5L1614 773.5L1614.3 778.8L1614.6 770.5L1614.9 756L1615.2 774.9L1615.5 776.1L1615.8 785.1L1616 763.8L1616.3 753.4L1616.6 759.6L1616.9 769.6L1617.2 770.2L1617.5 784.3L1617.7 761.8L1618 751.5L1618.3 767.4L1618.6 751.3L1618.9 745.8L1619.1 751.5L1619.4 781L1619.7 770.4L1620 776.6L1620.3 783.3L1620.5 777.1L1620.8 769.8L1621.1 756.8L1621.4 740.4L1621.6 754.8L1621.9 754.5L1622.2 753.9L1622.5 752.6L1622.7 749.6L1623 743L1623.3 728.3L1623.6 695.5L1623.8 622.7L1624.1 624.1L1624.4 611L1624.7 611L1624.9 618.3L1625.2 625.4L1625.5 695.5L1625.7 728.3L1626 743L1626.3 733.7L1626.5 752.6L1626.8 750.2L1627.1 753.8L1627.4 757.4L1627.6 755.8L1627.9 764.9L1628.2 729.8L1628.4 788.9L1628.7 765.9L1628.9 741L1629.2 760.3L1629.5 759L1629.7 748.3L1630 740.8L1630.3 774L1630.5 738.3L1630.8 756.2L1631.1 739.8L1631.3 738.9L1631.6 736.6L1631.8 726.6L1632.1 714.8L1632.4 673.6L1632.6 587.6L1632.9 562.5L1633.1 551L1633.4 562.1L1633.7 578.8L1633.9 673.6L1634.2 714.8L1634.4 730.5L1634.7 736.6L1635 738.9L1635.2 739.8L1635.5 730.8L1635.7 739.2L1636 745L1636.2 748.4L1636.5 736.8L1636.7 731.3L1637 731.8L1637.3 727L1637.5 725.2L1637.8 722.8L1638 704.9L1638.3 652.9L1638.5 646L1639 652.9L1639.3 704.9L1639.5 720.4L1639.8 725.6L1640 731.1L1640.3 731.8L1640.5 725.4L1640.8 743.1L1641 728.3L1641.3 739.9L1641.5 734.8L1641.8 712.7L1642 729.6L1642.3 733.6L1642.5 703.9L1642.8 738.3L1643 727.9L1643.2 743.1L1643.7 725.4L1644 730.5L1644.2 728.1L1644.5 721.7L1644.7 704.9L1645 661.2L1645.2 551.8L1645.4 539.7L1645.7 531L1645.9 536.7L1646.2 553.4L1646.4 661.2L1646.7 683.9L1646.9 644.7L1647.1 573.2L1647.4 470.2L1647.6 437L1647.9 426.7L1648.1 418L1648.6 430.2L1648.8 450.7L1649.1 458L1649.3 573.2L1649.5 644.7L1649.8 683.9L1650 705.4L1650.5 722.2L1650.7 710.5L1651 728.6L1651.2 730.3L1651.4 749.7L1651.7 723.3L1651.9 734.6L1652.1 736.9L1652.4 731L1652.6 727L1652.8 760L1653.1 737.8L1653.3 734.4L1653.5 721.7L1653.8 726.5L1654.2 737.3L1654.5 735.9L1654.7 739.8L1654.9 746.4L1655.2 725.1L1655.4 760.3L1655.6 766L1655.8 747.5L1656.1 758.6L1656.3 761.8L1656.5 734.2L1656.8 767L1657.2 750.1L1657.4 757.9L1657.7 751.1L1657.9 772L1658.1 767.1L1658.4 764.9L1658.6 771L1658.8 773.3L1659 769.8L1659.5 757.9L1659.7 769.6L1659.9 755.4L1660.2 789.3L1660.4 777.4L1660.6 782.7L1660.8 783.7L1661.1 759.3L1661.3 772.5L1661.5 783.1L1661.9 751.2L1662.2 765.9L1662.4 778.1L1662.6 751.3L1662.8 757.6L1663.1 779.5L1663.3 779.1L1663.5 781L1663.9 761.2L1664.2 757.4L1664.4 779.3L1664.6 767.7L1664.8 777.7L1665 783.8L1665.5 775.6L1665.7 761.9L1665.9 790.5L1666.1 786L1666.3 785.8L1666.6 804.1L1666.8 773.9L1667.2 774.6L1667.4 775.2L1667.6 798.7L1667.9 790.2L1668.1 814.8L1668.3 792.7L1668.5 779.9L1668.9 813.6L1669.2 797.1L1669.4 803.4L1669.6 807.3L1669.8 795.4L1670 825.2L1670.2 802.4L1670.6 807.2L1670.9 793.5L1671.3 819.6L1671.5 807L1671.7 804.4L1671.9 828.8L1672.1 812.3L1672.3 812.9L1672.5 820.2L1673 826.3L1673.2 813.2L1673.4 815.1L1673.6 817.3L1673.8 819.7L1674.2 841.1L1674.4 818.6L1674.6 811.1L1674.8 846.7L1675.3 851.8L1675.5 818.2L1675.7 843.5L1675.9 847.1L1676.1 833.8L1676.3 845.2L1676.5 842.4L1676.7 855.6L1677.1 815.1L1677.3 832.2L1677.5 847.3L1677.7 863.5L1678.1 861.1L1678.3 848.4L1678.6 827.9L1678.8 866.9L1679.2 865L1679.4 841.5L1679.8 844.3L1680 853.6L1680.2 856.8L1680.4 863.8L1680.6 879.1L1681 849.1L1681.2 856L1681.4 885.1L1681.8 847.9L1682 865.7L1682.2 864.3L1682.4 870.2L1682.8 870.4L1683 886.6L1683.2 854.3L1683.4 874.6L1683.6 860.1L1683.8 866.5L1684.2 884.1L1684.4 880.3L1684.6 887.1L1684.8 869.3L1685.2 867.9L1685.4 874.5L1685.5 893.8L1685.7 898L1686.1 864.2L1686.3 901.7L1686.5 879.2L1686.9 843.7L1687.1 900L1687.3 753.6L1687.5 750.7L1687.7 744.5L1688.1 738L1688.5 745.7L1688.7 749.8L1688.9 899.2L1689 755.1L1689.4 843.7L1689.6 897.9L1689.8 890.9L1690.2 888.5L1690.4 841.7L1690.8 899.2L1691 678.3L1691.2 925.3L1691.3 904.5L1691.5 898.7L1691.9 657.7L1692.3 660.6L1692.5 912.8L1692.7 678.1L1692.9 686.5L1693.1 683.6L1693.4 807L1693.6 921.5L1694 880.5L1694.2 905.9L1694.4 894.9L1694.6 878.4L1694.7 920.8L1695.1 762.8L1695.5 926.8L1695.7 941L1695.9 673.3L1696 925.6L1696.2 660L1696.6 943L1696.8 664.6L1697.2 685.9L1697.3 698.3L1697.7 935L1697.9 853.9L1698.3 894.9L1698.4 933.2L1698.6 858.5L1699 727.9L1699.2 938.9L1699.4 925.6L1699.5 710.1L1699.7 703.8L1700.3 947.6L1700.4 721.8L1700.8 942.2L1701 959.7L1701.2 890.6L1701.3 961.4L1701.5 948.2L1701.7 930.3L1702.2 939.7L1702.4 933.8L1702.6 973.9L1703 954.7L1703.1 980.3L1703.3 973.5L1703.7 972.4L1703.9 951.4L1704.2 958.1L1704.4 968.1L1704.7 979.9L1704.9 947.1L1705.1 952.2L1705.5 999.1L1705.8 975.6L1706 968.4L1706.2 965.3L1706.3 957L1706.7 945.9L1706.9 973.3L1707 916.3L1707.4 857.4L1707.7 744.5L1707.9 958.4L1708.3 979.4L1708.4 729L1708.8 720L1709 988.4L1709.3 996.7L1709.5 760.1L1709.6 740.7L1710 976.4L1710.2 988.7L1710.3 1003.7L1710.5 996.5L1710.8 950.7L1711 966.1L1711.2 954.7L1711.5 1004.7L1711.9 984.5L1712 1003.9L1712.2 973.3L1712.6 1004.5L1712.9 975.2L1713.2 1003.5L1713.4 988.1L1713.7 996.6L1713.9 968.8L1714.1 986.2L1714.2 978.6L1714.6 977.5L1714.8 992.9L1715.1 1004.8L1715.4 985.2L1715.8 1004.6L1715.9 977L1716.1 1013.4L1716.3 966.2L1716.6 1017L1716.8 941.8L1717.3 991L1717.4 915.8L1717.8 915.1L1717.9 989.7L1718.1 1007.7L1718.2 913.6L1718.7 916.4L1718.9 910.7L1719.2 1001.8L1719.4 910L1719.6 1040.6L1719.9 910.4L1720.2 911L1720.4 1008.9L1720.7 914.4L1720.9 1009.8L1721 920.9L1721.4 1022.6L1721.5 997.4L1721.7 917.9L1722 1016.1L1722.3 951.2L1722.6 966.2L1723 977L1723.1 981.2L1723.5 987.9L1723.6 990.6L1723.9 1055.5L1724.1 1043.4L1724.4 998.9L1724.6 1033.8L1724.9 996.5L1725 1036.6L1725.4 1003.1L1725.5 1003.5L1726 1044L1726.2 1004.5L1726.3 1031L1726.6 1005L1726.8 1066.9L1727.1 1015.8L1727.3 1035.1L1727.6 1023.7L1727.9 1042.8L1728 1034.3L1728.2 1009.8L1728.5 1025.8L1728.7 1021.1L1729.3 1052.1L1729.4 1027.2L1729.6 1030.1L1729.9 1013.5L1730.1 1051.2L1730.4 975.2L1730.8 1078.7L1731 947.9L1731.3 1040.8L1731.5 943.5L1731.6 943.5L1731.8 1031.7L1732.2 948.9L1732.4 1038.9L1732.5 1030.2L1732.7 975.2L1733.1 1013.5L1733.3 1031.9L1733.7 1029.4L1733.9 1012.3L1734.1 1032.1L1734.2 989.2L1734.7 914.6L1735 1068.6L1735.3 1057.5L1735.4 867L1735.7 866L1735.9 855.8L1736.2 1061.7L1736.5 860.1L1736.8 867.2L1736.9 869.9L1737.2 1029.7L1737.4 1057.7L1737.5 1048L1737.7 989.2L1738.1 1043L1738.2 1024.9L1738.5 1031.9L1738.7 1046.4L1739.1 1045.2L1739.3 1038.4L1739.7 1048.7L1739.9 1053.9L1740 1040.4L1740.5 1029.7L1740.8 1086.6L1740.9 1026.8L1741.3 1079.7L1741.5 1020.2L1741.6 1039.7L1741.9 1068.8L1742.1 1040.2L1742.5 1065.5L1742.8 1047.5L1742.9 1022.4L1743.1 1031.4L1743.2 1070.2L1743.5 1072.5L1743.8 1033.3L1744.1 1044L1744.4 1073.5L1744.7 1048.5L1744.8 1064.4L1745.1 1045.5L1745.2 1033.2L1745.5 1036.3L1745.8 1043.3L1746.1 1027.8L1746.4 1034.4L1746.8 1055.8L1746.9 1027.1L1747.1 1049.7L1747.4 1019.5L1747.5 1076.2L1747.9 1017.2L1748.1 1012.5L1748.3 1046.4L1748.6 1065.4L1748.8 1017.2L1749.2 1064.9L1749.5 1035.4L1749.6 1045.8L1749.7 1030.3L1750 1045.2L1750.2 1028L1750.6 1021.9L1751 1068.4L1751.1 1036.6L1751.4 1028.8L1751.8 1040.8L1752 988.8L1752.1 1066L1752.4 967.6L1752.7 1081.1L1752.8 964.1L1753.1 962L1753.2 1052L1753.6 965.9L1753.7 1073.6L1754 969L1754.2 1037.6L1754.6 1014.6L1755 1030.6L1755.1 1039.3L1755.4 1031.6L1755.5 1042.3L1755.9 1007.3L1756.1 1030L1756.5 1014.6L1756.7 1050.1L1757 957L1757.3 1023.8L1757.4 949.4L1757.5 952L1757.9 1059.5L1758.1 946.7L1758.5 1057.4L1758.6 950.9L1759 1098L1759.1 976.6L1759.4 1054L1759.5 1039.1L1759.7 1021.3L1760.1 1037.1L1760.5 1034L1760.6 1036.3L1761 1045L1761.1 1030.4L1761.4 1041.1L1761.5 1035.1L1761.9 1081.6L1762.2 1044.3L1762.4 984.9L1762.8 1038.9L1762.9 983.4L1763.1 986L1763.5 1040.3L1763.6 989.1L1763.8 1049.3L1764.2 1025.4L1764.4 1086.4L1764.6 1030.4L1764.9 1048.3L1765.1 1036.3L1765.3 1028.1L1765.5 1002.7L1765.8 1065.1L1766 1029.3L1766.3 1070.9L1766.5 1028.6L1766.8 1050.4L1767.1 1020.9L1767.4 1061.4L1767.8 1035.5L1767.9 1011.7L1768.1 1000.8L1768.4 939.8L1768.8 1041.3L1769 856.2L1769.2 845.3L1769.3 1033L1769.6 839L1769.7 1067.3L1770.1 846.1L1770.5 1042.1L1770.6 1078.7L1771 966.5L1771.1 1024.7L1771.2 1000.8L1771.6 1025.6L1771.7 1047.7L1772.1 1042.3L1772.3 1035.8L1772.6 1014L1772.7 1060.3L1773.3 1066.8L1773.4 963.3L1773.7 960.9L1773.8 1066.2L1774.2 1077.8L1774.3 954.7L1774.7 963.4L1774.8 1060.9L1775 960.2L1775.3 1059.2L1775.5 997.5L1775.9 1065.5L1776.1 1031.4L1776.5 1037.2L1776.6 1053.9L1776.8 1017.2L1777.1 1040.3L1777.4 1029.8L1777.6 1060.3L1777.9 1027L1778.2 1034L1778.3 1080.9L1778.8 1062.1L1778.9 1027.4L1779.1 1030.7L1779.5 1052.8L1779.6 1025.8L1780 1002.6L1780.1 1064.6L1780.4 911.7L1780.7 1058.9L1780.9 1042.2L1781.3 1051L1781.5 851L1781.7 1074.4L1781.8 857L1782.1 869L1782.4 1053.8L1782.5 945.4L1782.7 1026.4L1783 1012.7L1783.2 1058.8L1783.6 1029L1783.8 1039.3L1784.3 1015.9L1784.4 1069.7L1784.5 1029.1L1785 1071.2L1785.3 1036.4L1785.4 1068.4L1785.6 1038.6L1785.9 1033.5L1786 1067.8L1786.3 1035.4L1786.7 1021.4L1786.8 1062.4L1787.2 1054.3L1787.3 1037.7L1787.5 1005.7L1788 1065.3L1788.1 1056.8L1788.2 1026.9L1788.5 1059.8L1788.8 1029.4L1789.1 1031.8L1789.4 1066.8L1789.6 1085L1789.7 1051.3L1790 1079.8L1790.1 1029.1L1790.7 1057.8L1790.8 1029.7L1791 1062.7L1791.2 1022L1791.7 1050.3L1791.8 1025.2L1792.1 1044.8L1792.4 1013.3L1792.6 1051.4L1792.7 1023L1793.2 1049L1793.5 1035.5L1793.7 1079.2L1793.9 1040L1794.1 1005.3L1794.3 1055.9L1794.7 1034.3L1794.8 1064.6L1795.1 1041.1L1795.4 1090.3L1795.9 1011.9L1796 1076.8L1796.1 1043.9L1796.2 1076L1796.6 1072.2L1797 1008.9L1797.1 1072.5L1797.2 1046.4L1797.7 1015.1L1797.8 1065L1798.2 1038.6L1798.4 1081L1798.6 1027.9L1798.7 1066.5L1799 1065.4L1799.1 1011.9L1799.5 1005.7L1800 1075.6L1800.1 1022.2L1800.4 983.5L1800.5 1063.6L1800.9 767.3L1801 764L1801.1 745.2L1801.7 731L1802 1051L1802.2 763.9L1802.4 1080.6L1802.6 832.2L1802.7 1078.7L1803 983.5L1803.2 1080.4L1803.6 1089.4L1803.7 1037.9L1804.2 1077.2L1804.3 1035.4L1804.6 1086.1L1804.9 1006.5L1805 1073.3L1805.4 1043.3L1805.5 1030.3L1805.9 1075.1L1806.3 1067.7L1806.4 1024.3L1806.8 1030.7L1806.9 1089.9L1807.2 1023.7L1807.3 1052.4L1807.7 1065L1807.8 1024.6L1808.2 1084.6L1808.3 1003.2L1808.6 1018.6L1808.7 1057.6L1809.2 1065.2L1809.3 1016.7L1809.6 1021.2L1809.7 1063.7L1810.1 1041L1810.2 1064.9L1810.6 1032.1L1811 1053.2L1811.2 1023.7L1811.4 1066.6L1811.6 1036.7L1811.8 1074.6L1812.1 1020.8L1812.2 1072L1812.6 1078.4L1812.7 1017L1813.1 1044.4L1813.3 1077.7L1813.6 1057.7L1813.7 1016.9L1814.2 1012L1814.4 1079.6L1814.5 1034.5L1814.9 1068L1815 1020.2L1815.2 1045.4L1815.5 1031.4L1815.9 1061.3L1816.1 1025.7L1816.2 1061.2L1816.7 1078.8L1816.9 1032.7L1817.2 1057.3L1817.4 1025.6L1817.6 1013.8L1817.7 1063L1818.1 1060.9L1818.4 1022.2L1818.6 1073L1818.7 1019.7L1819.1 1013.9L1819.2 1066L1819.5 1060.3L1819.9 1037.2L1820.2 1028.5L1820.5 1053.5L1820.8 1079.2L1820.9 1040.6L1821.3 1064.1L1821.4 1034.1L1821.6 1084.3L1821.8 1037.9L1822.1 1051.5L1822.3 1012.4L1822.6 1067.5L1822.7 1022.9L1823.1 1039.4L1823.4 1094.3L1823.7 1088.9L1824 1023.5L1824.1 1053.3L1824.3 1033.4L1824.5 1029.9L1824.9 1065.6L1825.4 1024L1825.5 1058L1825.7 1039L1825.8 1068.9L1826.1 1021.9L1826.4 1098.9L1826.7 1066.3L1827 1007.5L1827.2 1050.6L1827.2 1015.1L1827.9 1014.8L1828 1054.9L1828.1 1070.4L1828.2 1041.4L1828.6 1084L1829 1024.3L1829.2 1060.5L1829.4 1038.3L1829.5 1029.8L1829.6 1086.7L1830.1 1085.6L1830.2 1037.5L1830.5 1017L1830.8 1063.7L1831.2 1015.4L1831.3 1081.8L1831.5 1021.4L1831.6 1076.4L1832.2 1063.6L1832.3 1022.3L1832.8 1096.3L1832.9 1020.9L1833.1 1055.2L1833.1 1042L1833.7 1073L1833.9 1041.7L1834.1 1024.8L1834.3 1064.3L1834.6 1096.3L1834.8 1035.2L1835.1 1036.9L1835.2 1095.4L1835.9 1060.2L1836 1038.7L1836.3 1019.9L1836.3 1089.3L1836.7 1037.8L1837 1073.1L1837.2 1070.2L1837.5 1029.5L1837.8 1011.7L1837.9 1059.6L1838.1 941.9L1838.2 1068.6L1838.6 1014.2L1839 745L1839 1061.2L1839.1 751.4L1839.6 767.1L1839.7 1043L1840.1 994.9L1840.2 1082.7L1840.6 1048.8L1840.7 1059.2L1841.1 1037.5L1841.3 1074.3L1841.6 1048.9L1841.7 1092.9L1842.1 1050.8L1842.3 1092.3L1842.7 1081.2L1842.7 1037.5L1843.1 1038.5L1843.4 1087.3L1843.6 1056.6L1843.9 1081.8L1844.1 1050.6L1844.3 1089.9L1844.5 1025.9L1844.6 1081.4L1845.3 1077.5L1845.4 1033.9L1845.7 1054L1845.8 1071.9L1846 1066.6L1846.4 1036.9L1846.5 1040.2L1846.6 1092.1L1847 1044.6L1847.4 1082.9L1847.7 1049.1L1847.8 1091.6L1848.2 1087.6L1848.4 1047.3L1848.7 1038.7L1848.9 1095L1849.4 1079.4L1849.5 1042.6L1849.7 1082.7L1849.8 1063.4L1850.1 1089.5L1850.3 1041.8L1850.6 1104.7L1850.7 1057.1L1851 1089.2L1851.4 1046L1851.9 1062.9L1851.9 1092.6L1852 1042L1852.1 1094.5L1852.6 1037.3L1852.7 1089L1853.1 1087.4L1853.3 1049.4L1853.6 1053.8L1853.7 1090.7L1854 1047.9L1854.4 1070.9L1854.5 1037.1L1854.6 1095L1855.2 1089.2L1855.2 1046.6L1855.5 1100.6L1855.9 1045.9L1856 1070.7L1856.1 1041.1L1856.7 1087.4L1856.8 1046.3L1857.2 1076L1857.4 1036.5L1857.8 1027.9L1857.9 1095.9L1858.1 1108.9L1858.3 1053.5L1858.7 1047.7L1858.8 1070.3L1859.2 1043.5L1859.3 1084.1L1859.6 1074.7L1859.9 1050.2L1860 1043.6L1860.4 1090L1860.6 1043.6L1860.8 1097.7L1861 1027.6L1861.2 1084.3L1861.7 1044.6L1861.8 1095.1L1862.1 1080.8L1862.4 1041.6L1862.6 1079.4L1862.9 1035.8L1863 1071.2L1863.2 1031.9L1863.6 1079.6L1863.9 1033.5L1864 1093.2L1864.2 1046.3L1864.6 1094.5L1864.7 1049.2L1865.1 1042L1865.4 1083.5L1865.5 1047.3L1865.7 1092.3L1866.1 1043.5L1866.3 1084.5L1866.8 1042.5L1866.9 1085.1L1867.2 1073.3L1867.3 1037.9L1867.9 1076.2L1868 1043.2L1868.2 1057L1868.3 1068.3L1868.6 1071.4L1868.9 1034.8L1869.2 1032.8L1869.3 1081.8L1869.7 1083L1870 1043.9L1870.1 1034.3L1870.3 1082.3L1870.7 1061.4L1870.8 1030.4L1871.1 1042.8L1871.2 1087.4L1871.6 1110.1L1871.7 1046L1872 1080.7L1872.5 1040.8L1872.8 1090L1872.8 1039.7L1873.3 1080.5L1873.4 1045.5L1873.8 1040.4L1873.8 1077.5L1874.1 1038.8L1874.3 1081L1874.8 1096.9L1874.9 1037.4L1875.3 1110.1L1875.4 1041.1L1875.6 1026.3L1876 1109.7L1876.1 1041.1L1876.4 1100.5L1876.6 1046.8L1876.8 1072.1L1877.4 1082.9L1877.5 1054.3L1877.5 1039.6L1877.7 1095.5L1878.2 1074.4L1878.4 1060.1L1878.5 1085.5L1878.8 1041.9L1879.3 1030.2L1879.4 1086.4L1879.5 1028.4L1879.8 1082.9L1880.2 1051.5L1880.5 1077.1L1880.6 1045.5L1880.6 1073.9L1881.3 1050.1L1881.4 1093.5L1881.5 1044.7L1881.8 1079.8L1882 1083.8L1882.3 1038L1882.6 1094.6L1883 1055.3L1883.3 1072.8L1883.4 1036L1883.7 1085L1883.9 1021.9L1884.3 1087.8L1884.4 1047L1884.7 1065L1884.8 1046L1885 1090L1885.5 1042.1L1885.6 1086.2L1885.6 1046L1886 1049.2L1886.1 1091.2L1886.6 1044.7L1887 1086.1L1887.1 1084.8L1887.4 1035.9L1887.8 1067.4L1887.9 1051.9L1888.1 1076.5L1888.2 1053.5L1888.6 1032.9L1888.9 1092.5L1889.2 1045.3L1889.4 1079.2L1889.5 1028.2L1889.6 1096.8L1890.2 1056.4L1890.3 1079.3L1890.7 1042.2L1890.8 1103.3L1891.1 1039L1891.2 1072.3L1891.6 1038.1L1891.9 1076.5L1892.2 1077.9L1892.3 1060.1L1892.9 1043.5L1893 1086.2L1893.4 1084.3L1893.4 1036.8L1893.5 1051L1893.7 1097.6L1894.1 1091.5L1894.2 1053.7L1894.6 1096.4L1894.9 1040L1895.1 1069.4L1895.3 1044.8L1895.6 1035.2L1896 1090.1L1896.1 1081.9L1896.4 1050L1896.6 1059.6L1896.8 1093.8L1897.1 1082.9L1897.5 1025.5L1897.7 1037.8L1897.9 1072.8L1898.1 1068.6L1898.4 1055.5L1898.6 1054.7L1898.8 1079.8L1899.1 1079.5L1899.1 1051.6L1899.5 1045.8L1899.6 1067.6L1900.1 1079.6L1900.2 1043.2L1900.7 1037.7L1900.8 1071.2L1901.2 1037.3L1901.4 1071.1L1901.7 1067.1L1901.9 1038.2L1902.1 1091L1902.3 977.3L1902.7 971.5L1902.9 1081.1L1903.2 978.9L1903.5 1074.8L1903.5 1083.4L1903.6 1038.2L1904.2 1028.8L1904.3 1083.3L1904.7 1037.6L1904.8 1079.7L1905.1 1081.8L1905.3 1034.4L1905.5 1066.2L1905.8 1029L1906.3 1040.5L1906.4 1089.2L1906.7 1038.1L1906.7 1069.9L1907 1051.8L1907.4 1087.3L1907.7 1091.8L1908 1059.9L1908 1047.6L1908.2 1078L1908.6 1085.7L1908.8 1031.5L1909.1 1045.8L1909.3 1071.5L1909.7 1099.1L1909.8 1049.1L1910.2 1054.3L1910.4 1095.8L1910.5 1070.1L1910.8 1034.6L1911.3 1082.3L1911.4 1036.8L1911.6 1028.3L1912 1080.6L1912.1 1050.3L1912.3 1079.6L1912.7 1099.8L1912.9 1031.5L1913 1047.2L1913.5 1103.4L1913.5 1082.8L1913.7 1048.6L1914.3 1075.3L1914.4 1050.1L1914.8 1049.7L1914.9 1091.9L1915.1 1084.9L1915.4 1034.4L1915.7 1046.9L1915.8 1085.3L1916 1037.5L1916.5 1085.4L1916.8 1093.9L1916.8 1036.2L1917.3 1030.6L1917.4 1073.4L1917.9 1049.7L1918 1086.1L1918.3 1043.7L1918.5 1077.8L1918.6 1055.3L1918.7 1107L1919 1080.7L1919.2 1055L1919.6 1045.5L1919.7 1087L1920.2 1082.3L1920.4 1036.2L1920.5 1090.1L1921 876.9L1921.3 866L1921.4 1082L1921.5 871.9L1921.9 1080L1922.1 1030.4L1922.4 1066.3L1922.5 1088.8L1922.9 1035.5L1923.3 1089.2L1923.3 1047.9L1923.7 1075.9L1924 1045.7L1924.3 1084.3L1924.4 1047.4L1924.7 1079.6L1924.9 1048.8L1925 1052L1925.1 1082.3L1925.5 1059.3L1925.9 1093.2L1926 1092.7L1926.2 1035.1L1926.8 1046.9L1926.9 1098L1927 1038.2L1927.1 1072L1927.8 1087.1L1928 1047.3L1928.1 1043L1928.3 1077.8L1928.9 1067.7L1929 970.3L1929.2 1084.3L1929.3 962L1929.5 966.6L1929.8 1094.7L1930.1 1038.6L1930.5 1060.3L1930.6 1032.3L1930.9 1084.1L1931.4 1051.8L1931.5 1078.6L1931.8 1080.3L1931.9 1035.4L1932.2 1078L1932.4 1043.1L1932.5 1088.6L1932.8 1033.9L1933.3 1042.5L1933.4 1082.6L1933.7 1024.8L1933.8 1072.2L1934.1 1037.7L1934.4 1083.9L1934.5 1041.5L1934.9 1084.4L1935.3 1054.8L1935.4 1086.6L1935.6 1048.6L1935.7 1109.3L1936.1 1044.2L1936.4 1079.6L1936.7 1030.3L1936.9 1084.6L1937 1076.3L1937.2 1036.8L1937.6 1102.3L1937.7 1054.7L1938.3 1082.8L1938.3 1016.4L1938.6 1045.5L1938.8 1076.1L1939.4 1038.4L1939.4 1091.6L1939.9 1040.7L1940 1107.6L1940.1 1086L1940.4 1050.6L1940.6 1083.2L1940.8 1042.5L1941.3 1045.1L1941.4 1092L1941.8 1087L1941.8 1040.8L1942.2 1046.2L1942.5 1091.9L1942.6 1038L1943 1109.2L1943 1051.5L1943.1 1080.4L1943.7 1074.4L1943.9 1037.1L1944.3 1072.5L1944.5 1040L1944.6 1027.8L1944.6 1086.9L1945.1 1049.9L1945.5 1106.2L1945.5 1084.3L1945.9 1038.3L1946.1 1039.7L1946.4 1102.6L1946.8 1019.9L1946.9 1097.6L1947.1 1054.6L1947.3 1109.2L1947.7 1087.7L1948 1033.9L1948.2 1085.1L1948.4 1041.9L1948.5 1095.3L1948.7 1043.9L1949.2 1073.1L1949.5 1050.7L1949.7 1088.6L1949.8 1038L1950.1 1088L1950.3 1053.9L1950.8 1092.1L1950.9 1052.2L1951.4 1040.4L1951.5 1075.3L1951.7 1039.4L1951.9 1100L1952.2 1088.1L1952.2 1034.9L1952.6 1046.1L1952.6 1080L1953.1 1068L1953.4 1024.9L1953.6 1084.4L1953.7 1036.7L1954.1 1103.2L1954.3 1022.2L1954.6 1017.7L1955 1077.6L1955 1108.2L1955.5 1037.8L1955.7 1091.4L1955.9 1030.8L1956.1 1039.9L1956.2 1087.5L1956.8 1079.9L1956.9 1042.5L1957.1 1092.7L1957.2 1034.9L1957.5 1076L1957.6 1033.1L1958.1 1099.7L1958.2 1052.4L1958.7 1039.3L1958.9 1096L1959 1095.9L1959.2 1029L1959.7 1039.7L1959.9 1077.8L1960.1 1044.7L1960.3 1089.3L1960.8 1074.3L1960.9 1039.7L1961.1 1080.3L1961.4 1030.4L1961.6 1077.7L1961.8 1042.3L1962.4 1084.5L1962.5 1038.4L1962.5 1081.9L1962.6 1030.4L1963.2 1043.8L1963.4 1092L1963.6 1030.3L1964 1101.6L1964 1080.3L1964.2 1058.1L1964.6 1107.5L1964.8 1040.8L1965.1 1108.9L1965.1 1039.3L1965.5 1088.2L1965.6 1045.5L1966.2 1075.4L1966.4 1037.9L1966.7 1097.2L1966.8 1040.7L1967.4 1099.7L1967.4 1027.3L1967.6 1091.6L1967.9 1043.7L1968.3 1082.8L1968.4 1039.7L1968.8 1038.9L1968.9 1082.8L1969.2 1042.2L1969.5 1088.4L1969.6 1087.5L1969.7 1037.6L1970.1 1032.3L1970.2 1107.3L1970.6 1037L1970.8 1080.7L1971.3 1083.8L1971.4 1041.1L1971.5 1097.6L1971.9 1053.1L1972.1 1101.5L1972.3 1023.6L1972.7 1069L1972.9 1041.3L1973.3 1108.8L1973.5 1026.4L1973.6 1094.7L1973.8 1025.2L1974.2 1095.7L1974.4 1023.1L1974.6 1085.3L1974.7 1030.7L1975.2 1045.2L1975.4 1078.1L1975.5 1085.8L1975.7 1033.6L1976.2 1038.6L1976.5 1095.2L1976.7 1048.6L1977 1108.8L1977.2 1085.1L1977.3 1049.4L1977.7 1078.3L1977.9 1036.3L1978.2 1037.5L1978.4 1087.8L1978.6 1072.2L1979 1032.7L1979.1 1020.7L1979.3 1095.1L1979.6 1090.6L1979.7 1045L1980.2 1088.1L1980.5 1041L1980.6 1049.2L1980.7 1095.8L1981.2 1038.9L1981.4 1075.5L1981.6 1096.9L1981.8 1032.5L1982.2 1037.6L1982.2 1097.6L1982.6 1048.3L1982.9 1093.1L1983.1 1023.6L1983.3 1093.7L1983.6 1095.8L1983.9 1044.1L1984.1 1031.4L1984.5 1106L1984.5 1042.9L1984.9 1093.1L1985 1029.5L1985.1 1100.9L1985.7 1048.7L1985.8 1094.5L1986.1 1020.7L1986.3 1085.6L1986.6 1044.6L1986.6 1108.7L1987.1 1033.7L1987.2 1095.8L1987.6 1041.5L1987.8 1083.8L1988.1 1032.9L1988.3 1108.6L1988.6 1044.2L1988.6 1101.1L1989.3 1034L1989.5 1080.7L1989.7 1022L1989.9 1083.1L1990.2 1089L1990.3 1033.3L1990.6 1026.1L1990.8 1065.3L1991.2 1046.7L1991.4 1092.9L1991.7 1037.7L1991.9 1097.6L1992.1 1080L1992.2 1029.5L1992.5 1078.8L1992.6 1035.9L1993.1 1088.8L1993.4 1045.2L1993.7 1090.9L1993.9 1032.2L1994.1 1035.3L1994.2 1068.6L1994.6 1046L1995 1076.2L1995.1 1033.1L1995.5 1102.6L1995.8 1043L1996 1081.4L1996 1089.2L1996.4 1043.6L1996.7 1076.8L1996.8 1036L1997.2 1051.3L1997.3 1093.9L1997.8 1036.7L1997.9 1088.2L1998.4 1096.1L1998.5 1042.7L1998.5 1108.5L1998.9 1034.4L1999.4 1044.8L1999.4 1091L1999.5 1035.7L1999.6 1088.7L2000.1 1040.5L2000.5 1093.5L2000.6 1074.4L2001 1051.9L2001.2 1056.5L2001.4 1108.5L2001.8 1095.3L2002 1042.5L2002.1 1038.7L2002.3 1092.2L2002.6 1088.7L2002.7 1036.7L2003.4 1032.7L2003.5 1093.8L2003.6 1102.4L2003.7 1038.3L2004.1 1095.9L2004.2 1039.7L2004.9 1028.5L2005 1087.6L2005.1 1087.9L2005.2 1041.2L2006 1027.5L2006 1091.3L2006.3 1077.7L2006.5 1029.8L2006.9 1034.3L2007 1087.1L2007.1 1088.7L2007.4 1049.3L2007.6 1032.7L2007.9 1071.8L2008.2 1086L2008.2 1050.2L2009 1049.1L2009 1096.3L2009.4 1032L2009.5 1097L2009.5 1095.3L2009.7 1032.3L2010 1093.5L2010.4 1039L2010.5 1042.3L2010.8 1108.4L2011.3 1086.6L2011.4 1028.5L2011.7 1027.5L2011.9 1077.6L2012.2 1039.6L2012.5 1074.3L2012.8 1045.6L2012.9 1096.4L2013.1 1045.5L2013.3 1084.4L2013.5 1018.6L2013.8 1095.5L2014.2 1089.7L2014.5 1034L2014.7 1035.4L2014.9 1086L2015.1 1096.3L2015.2 1047.9L2015.8 1089.6L2015.8 1035.9L2016.1 1040.5L2016.4 1108.3L2016.7 1079.2L2017 1039.7L2017.4 1040.8L2017.4 1088.8L2017.7 1092.8L2017.8 1036.8L2018.1 1035.4L2018.4 1078.5L2018.6 1033.6L2018.8 1080.1L2019 1092.2L2019.3 1039.8L2019.6 1097.9L2019.7 1038.2L2020.3 1087.1L2020.4 1036.5L2020.7 1037.6L2021 1087.6L2021.1 1046.1L2021.2 1108.2L2021.6 1044.1L2021.8 1084.1L2022 1081.4L2022.2 1030.9L2022.9 1037.7L2022.9 1075.9L2023 1083L2023.4 1048.6L2023.8 1035.3L2023.9 1096.4L2024.3 1086.5L2024.4 1041.2L2024.7 1083.4L2024.9 1037.1L2025.1 1091.6L2025.3 1043.9L2025.6 1091.6L2025.9 1021.4L2026.2 1091.5L2026.5 1036.1L2026.7 1105.1L2026.9 1046.2L2027.1 1036.2L2027.4 1099.3L2027.9 1043.1L2028 1108.2L2028.1 1088.5L2028.1 1030.6L2028.7 1035.3L2028.8 1086.2L2029.2 1028.8L2029.3 1080.2L2029.8 1096.9L2029.9 1041.2L2030.3 1036.3L2030.4 1093.4L2030.6 1028L2030.7 1083.2L2031.1 1033.2L2031.2 1087.1L2031.8 1107.7L2031.9 1039.6L2032 1019.6L2032.4 1079.7L2032.6 1105.8L2032.8 1035.9L2033.1 1085.8L2033.4 1046L2033.8 1088.3L2033.8 1021.7L2034 1040.8L2034.1 1105.8L2034.7 1037.3L2034.8 1087.4L2035.4 1071.5L2035.4 1040L2035.7 1038.7L2035.8 1087.9L2036.1 1034.2L2036.2 1090.8L2036.6 1088.1L2036.7 1042.7L2037 1092.3L2037.1 1045.5L2037.5 1075.1L2037.7 1035.5L2038.1 1091.2L2038.2 1044.6L2038.5 1040.1L2038.9 1100.4L2039.1 1082.7L2039.5 1038.6L2039.7 1043.7L2039.9 1079.4L2040.2 1023.5L2040.4 1086.5L2040.6 1045L2040.8 1083.9L2041.1 1037.3L2041.5 1087.9L2041.6 1037.1L2041.8 1080.9L2042.2 1037.3L2042.5 1086.3L2042.8 1096L2043 1031.4L2043.3 1042.8L2043.5 1084L2043.7 1103.9L2044 1039.4L2044.2 1096.2L2044.5 1035.5L2044.6 1080.9L2044.8 1043.2L2045.2 1030.7L2045.3 1092.6L2045.9 1037.5L2046 1092.3L2046 1038.8L2046.1 1081.4L2046.5 1038.6L2046.8 1091.7L2047.4 1029.3L2047.4 1079.4L2047.6 1027.1L2047.7 1097.6L2048 1089.6L2048.2 1032.4L2048.6 1032.2L2048.9 1083.8L2049.4 1085.2L2049.5 1032.3L2049.5 1039.3L2049.8 1086.6L2050.1 1036.4L2050.2 1093.1L2050.7 1093.2L2050.9 1035.3L2051.1 1040.8L2051.2 1107L2051.6 1092.1L2051.7 1027.2L2052.1 1107.9L2052.2 1033.5L2052.8 1107.8L2052.9 1031.9L2053.2 1080.9L2053.3 1050.4L2053.5 1081.9L2054 1024.4L2054.1 1024.8L2054.2 1087.4L2054.7 1094.1L2054.9 1037L2055.2 1046L2055.4 1086.1L2055.9 1095L2055.9 1026.9L2056.1 1078.2L2056.3 1034L2056.8 1039.3L2056.8 1079L2057.2 1093.7L2057.5 1035.9L2057.6 1090.4L2057.8 1042.8L2058.3 1097.9L2058.4 1033.4L2058.7 1107.8L2059 1031.6L2059.1 1087.3L2059.3 1028.7L2059.7 1082.5L2059.8 1039L2060.3 1096.3L2060.5 1037.3L2060.6 1032.5L2060.9 1092.7L2061.1 1038.3L2061.3 1090.1L2061.8 1097.2L2061.9 1052.3L2062 1033.3L2062.4 1099.8L2062.6 1036.9L2062.9 1088L2063.2 1076.9L2063.4 1036.5L2063.9 1043.6L2063.9 1100.4L2064.1 1104.3L2064.3 1033.5L2064.7 1090.4L2065 1026.1L2065 1092.3L2065.2 1048.5L2065.7 1030.3L2065.9 1081L2066 1093.1L2066.4 1043.7L2066.6 1097.1L2066.7 1031.7L2067.1 1041.8L2067.4 1103.9L2067.5 1023.2L2067.9 1084.7L2068.3 1027.5L2068.3 1091.6L2068.8 1077.9L2069 1045.4L2069.2 1073.3L2069.3 1032.1L2069.6 1031.6L2069.9 1080.7L2070.1 1088.5L2070.4 1030.8L2070.7 1039.5L2070.8 1107.6L2071.1 1032.8L2071.1 1095L2071.8 1031L2071.9 1085.9L2072.2 1083.9L2072.3 1034L2072.5 1027.4L2072.9 1086.8L2073.3 1090.6L2073.4 1041L2073.9 1101.6L2074 1033.6L2074.1 1022.3L2074.4 1096.1L2074.8 1028.3L2074.8 1078.3L2075.1 1093.5L2075.2 1028L2075.7 1085.6L2076 1032.8L2076.1 1089.7L2076.4 1036.1L2076.7 1037.6L2076.7 1089.7L2077.1 1026.3L2077.4 1093.9L2077.7 1103.5L2077.9 1034.1L2078 1019.5L2078.5 1099.5L2078.8 1034.4L2078.8 1107.5L2079 1107.5L2079.2 1031.6L2079.6 1038.4L2079.8 1089.7L2080.2 1079.8L2080.3 1027.9L2080.5 1096L2080.6 1034.5L2081.2 1091.2L2081.2 1038.6L2081.8 1089L2081.8 1035.6L2082.1 1085.1L2082.2 1033.9L2082.6 1026.7L2082.8 1107.5L2083.3 1104.3L2083.4 1025.7L2083.6 1038.7L2083.9 1095.6L2084 1033.9L2084.3 1079.9L2084.5 1045.7L2084.7 1092.7L2085.2 1036.2L2085.2 1093.9L2085.7 1028.7L2085.7 1084.7L2086 1038.3L2086.2 1089.8L2086.8 1035.8L2086.8 1098.8L2087 1105.6L2087.3 1032.5L2087.6 1100.3L2088 1038.3L2088.1 1035.2L2088.4 1098.3L2088.9 1036.8L2088.9 1087.9L2089.1 1031.8L2089.1 1107.4L2089.5 1107.4L2089.7 1041.8L2090.2 1098.5L2090.5 1039L2090.8 1102.9L2090.9 1024L2091.4 1037.9L2091.5 1089.4L2091.5 1076.6L2091.9 1040.8L2092 1035.8L2092.3 1087.2L2092.5 1013.3L2092.6 1097.5L2093.1 1093.5L2093.2 1033.1L2093.8 1097.8L2093.9 1044.5L2094 1107.3L2094.2 1033.4L2094.5 1038.4L2094.7 1086.9L2095.2 1036.4L2095.4 1080.2L2095.8 1085.6L2095.8 1030.6L2096.3 1093L2096.5 1035.6L2096.7 1032L2096.8 1080L2097 1085.2L2097.2 1033.2L2097.9 1090L2097.9 1031.9L2098 1039L2098.1 1107.3L2098.5 1036.5L2099 1090.5L2099.1 1029.3L2099.4 1084L2099.7 1083.1L2100 1032.8L2100.1 1023.8L2100.3 1092.6L2100.8 1017.4L2101 1089.6L2101 1073.9L2101.4 1044L2101.6 1107.2L2101.6 1037.1L2102.1 1088.6L2102.2 1041.7L2102.7 1094.7L2102.9 1028L2103 1103.1L2103.3 1032.1L2103.7 1086.1L2103.8 1040.5L2104.2 1032.2L2104.3 1107.2L2104.5 1031.2L2104.9 1098.2L2105 1085.5L2105.3 1036.6L2105.5 1034L2105.6 1082.1L2106.4 1107.2L2106.4 1021.4L2106.5 1037.7L2106.7 1086.1L2107.2 1087.6L2107.3 1029.2L2107.5 1084.7L2107.8 1038.2L2108 1093.3L2108.2 1020.6L2108.6 1025.3L2108.6 1097.6L2109.3 1032L2109.4 1097.9L2109.7 1031.9L2109.9 1085L2110.2 1024.1L2110.4 1093.3L2110.7 1100.3L2110.9 1042.1L2111.2 1082.1L2111.4 1031.8L2111.6 1028.6L2112 1079.5L2112.1 1097L2112.4 1021.7L2112.9 1085.3L2113 1025.2L2113.2 1098.1L2113.5 1038.5L2113.5 1033.6L2113.7 1105.8L2114.2 1025.5L2114.4 1094.6L2114.6 1085.6L2114.7 1035.4L2115.2 1030.8L2115.3 1101.2L2115.9 1072.6L2116 1027.8L2116 1092.7L2116.1 1038.1L2116.7 1037.6L2116.9 1094.4L2117.1 1031.6L2117.5 1094.1L2117.7 1028.4L2117.9 1090.2L2118.1 1026.6L2118.3 1093.1L2118.5 1094.9L2119 1036L2119.1 1107L2119.2 1036.8L2119.9 1040.5L2120 1090.7L2120.2 1033.3L2120.2 1104.7L2120.8 1030.1L2121 1070.6L2121.3 1032.3L2121.3 1090.6L2121.8 1033.1L2121.9 1096.4L2122.3 1032.3L2122.4 1083.1L2122.6 1087L2123 1027.8L2123.2 1107L2123.3 1045.2L2123.6 1093.2L2124 1030.6L2124.2 1089.6L2124.5 1031L2124.8 1089.9L2125 1016.3L2125.1 1031.9L2125.2 1083.2L2125.5 1093.8L2126 1034.7L2126.3 1029.6L2126.4 1103.9L2126.5 1105.3L2126.8 1028.6L2127.1 1040.9L2127.2 1081.6L2127.7 1094.6L2128 1032.7L2128 1037.1L2128.1 1079.9L2128.6 1096.3L2128.7 1030.4L2129.2 1087.2L2129.3 1033L2129.8 1106.9L2129.9 1037.4L2130.2 1031.6L2130.3 1106.9L2130.7 1102.5L2130.9 1020.9L2131.2 1029.6L2131.3 1087.9L2131.8 1033.3L2132 1084.3L2132.1 1102.7L2132.1 1030.4L2132.8 1086.7L2132.9 1034.4L2133.3 1106.1L2133.4 1029.9L2133.8 1036.9L2133.9 1093.7L2134.2 1034.1L2134.2 1088.9L2134.6 1084.2L2134.6 1025.7L2135.3 1098.2L2135.5 1031.7L2135.8 1030.2L2135.9 1082.5L2136.1 1082.7L2136.2 1034L2136.5 1025.1L2136.6 1095.8L2137.1 1075.4L2137.3 1031.9L2137.7 1025L2137.8 1091L2138.1 1083L2138.3 1031.8L2138.6 1093.1L2138.9 1027.3L2139.1 1101.7L2139.3 1034.4L2139.5 1075.3L2139.6 1039.4L2140.2 1034.6L2140.4 1094.4L2140.6 1036.1L2140.6 1080.3L2141 1099.5L2141.5 1036.1L2141.6 1081.3L2141.7 1036L2142.3 1106.7L2142.3 1032.2L2142.8 1103.9L2143 1029.7L2143.2 1036.3L2143.2 1101.1L2143.7 1028.4L2143.9 1083.3L2144 1090.7L2144.5 1024.8L2144.6 1029.2L2145 1086.9L2145.3 1078.7L2145.4 1040.6L2145.8 1080.8L2145.8 1024.4L2146.2 1100.2L2146.4 1036.8L2146.5 1025.9L2146.9 1106.7L2147 1094.4L2147.2 1036.6L2147.6 1024.2L2147.7 1086.9L2148.3 1032.1L2148.3 1094L2148.5 1089.6L2148.7 1035.2L2149.2 1018.7L2149.4 1086.1L2149.6 1038.7L2149.8 1101.1L2150.1 1083.8L2150.2 1034.3L2150.5 1097.2L2150.8 1032.4L2151.3 1041.8L2151.5 1090.6L2151.6 1088.6L2151.7 1037L2152.4 1089.2L2152.5 1026L2152.8 1083.6L2152.8 1032.3L2153.2 1091.3L2153.3 1035.3L2153.5 1083.4L2154 1030.5L2154.4 1027.3L2154.5 1092.5L2154.6 1034.3L2154.8 1103.3L2155.1 1085.9L2155.2 1036.3L2155.6 1024.1L2156 1083.6L2156.3 1090.4L2156.3 1020.1L2156.6 1024.9L2156.8 1103.1L2157 1102.8L2157.4 1039.7L2157.7 1022L2157.8 1106.5L2158.1 1090.1L2158.3 1033.1L2158.5 1032.6L2158.8 1098.5L2159.2 1106.5L2159.4 1027.7L2159.8 1106.5L2159.9 1022.9L2160.3 1092.3L2160.4 1025L2160.5 1044.6"/>
<path stroke="#bfbf00" d="M396.4 703L526.6 687.8L602.8 686.2L656.8 704L698.7 625L733 523.7L761.9 499L787 456L809.1 399L828.9 387.2L846.8 411.6L863.1 404L878.2 375.9L892.1 391.2L905 414.8L917.2 423.7L928.6 472.2L939.3 504.2L949.4 531L959.1 568L968.2 585.9L977 582.7L985.3 596.1L993.3 624.1L1001 668.8L1008.4 704.4L1015.4 711.4L1022.3 734.4L1028.9 748.4L1035.2 779L1041.4 799.5L1047.3 808.5L1053.1 819.3L1058.7 854.9L1064.2 853L1069.5 843.4L1074.6 834.5L1079.6 843.4L1084.5 872L1089.3 864.4L1093.9 874.6L1098.4 884.2L1102.8 855.5L1107.2 832L1111.4 816L1115.5 823L1119.5 830.8L1123.5 806L1127.4 786.8L1131.2 781L1134.9 776L1138.5 770.8L1142.1 765.7L1145.6 761.3L1149.1 742.7L1152.5 759.3L1155.8 779L1159 791.9L1162.3 754.8L1165.4 693.6L1168.5 672.5L1171.6 675.7L1174.6 711.4L1177.5 741L1180.4 711L1183.3 656.6L1186.1 642.6L1188.9 637L1191.7 642.6L1194.4 665.5L1197 693.6L1199.7 705L1202.2 694L1204.8 700L1207.3 691L1209.8 655L1212.3 672L1214.7 700L1217.1 707L1219.4 709L1221.8 695L1224.1 730L1226.4 790L1228.6 780L1230.8 735L1233 723L1235.2 750L1237.3 770L1239.5 788L1241.6 790L1243.6 770L1245.7 753L1247.7 760L1249.7 775L1251.7 787L1253.7 789L1255.6 790L1257.6 792L1259.5 840L1261.3 880L1263.2 879L1265.1 872L1266.9 835L1268.7 824L1270.5 850L1272.3 875L1274.1 893L1275.8 897L1277.5 905L1279.2 920L1280.9 929L1282.6 916L1284.3 925L1286 935L1287.6 927L1289.2 917L1290.8 925L1292.4 930L1294 915L1295.6 904L1297.1 915L1298.7 935L1300.2 950L1301.7 930.8L1303.3 926.7L1304.8 921.5L1306.2 928.2L1307.7 930.5L1309.2 939.8L1310.6 915.8L1312.1 908L1313.5 957.2L1314.9 959.7L1316.3 956.1L1317.7 940.8L1319.1 940.6L1320.5 940.2L1321.8 938.5L1323.2 933.3L1324.5 915.7L1325.9 885L1327.2 885L1328.5 915.7L1329.8 933.3L1331.1 938.6L1332.4 940.2L1333.7 940.6L1335 934.7L1336.2 934L1337.5 931.7L1338.7 924.1L1340 898.7L1341.2 813.9L1342.4 665.9L1343.7 665.9L1344.9 813.9L1346.1 898.7L1347.3 924.1L1348.4 931.7L1349.6 934L1350.8 968.2L1352 946.2L1353.1 949.4L1354.3 953.6L1355.4 952.3L1356.5 963L1357.7 958.1L1358.8 959.9L1359.9 967.3L1361 991.7L1362.1 983.3L1363.2 972.3L1364.3 969.6L1365.4 948L1366.5 936.9L1367.5 914.5L1368.6 951.8L1369.6 962.1L1370.7 945.8L1371.7 941.9L1372.8 943.7L1373.8 934.2L1374.8 949.5L1375.9 922.5L1376.9 968.9L1377.9 968.6L1378.9 954.7L1379.9 945.8L1380.9 943.7L1381.9 947.9L1382.9 962.4L1383.9 957L1384.8 953.5L1385.8 949.8L1386.8 953.3L1387.7 943.9L1388.7 954L1389.6 934.6L1390.6 918.7L1391.5 916.9L1392.5 907.7L1393.4 930.7L1394.3 938.6L1395.2 927.9L1396.2 885.8L1397.1 884.4L1398 870.9L1398.9 889.2L1399.8 911.5L1400.7 896.8L1401.6 904.9L1402.5 887.2L1403.4 868.2L1404.2 862.7L1405.1 892.8L1406 904L1406.9 896.6L1407.7 866L1408.6 872.3L1409.4 912.6L1410.3 929.6L1411.1 895.5L1412 941.5L1412.8 911.4L1413.7 896.5L1414.5 929.8L1415.3 889.1L1416.1 893.5L1417 912.4L1417.8 911.2L1418.6 932.8L1419.4 925L1420.2 911.7L1421 898.8L1421.8 912.5L1422.6 919.3L1423.4 898.2L1424.2 883.1L1425 868L1425.8 890.3L1426.6 890.7L1427.3 861.6L1428.1 834.3L1428.9 840L1429.6 859.5L1430.4 877.7L1431.2 850.4L1431.9 838.6L1432.7 862.6L1433.4 867.8L1434.2 851.5L1434.9 857.6L1435.7 857L1436.4 875.3L1437.2 904.9L1437.9 875.4L1438.6 860.3L1439.4 880.6L1440.1 884.8L1440.8 882.6L1441.5 895.2L1442.2 907.8L1443 882.1L1443.7 869.9L1444.4 878.5L1445.1 871.4L1445.8 878.6L1446.5 902.2L1447.2 909.2L1447.9 935L1448.6 940.8L1449.3 933.6L1450 908.6L1450.7 896.8L1451.3 911.3L1452 906.5L1452.7 886.5L1453.4 905.5L1454.1 919.1L1454.7 899.3L1455.4 904L1456.1 914.6L1456.7 926.1L1457.4 923.9L1458 918.4L1458.7 915.3L1459.4 903.7L1460 921.7L1460.7 923.8L1461.3 920.4L1462 932.3L1462.6 948.4L1463.2 960.1L1463.9 954.5L1464.5 936.4L1465.2 900.6L1465.8 902.9L1466.4 917.9L1467.1 897.1L1467.7 902.1L1468.3 914.1L1468.9 918.8L1469.6 906.2L1470.2 923.7L1470.8 937.8L1471.4 939.7L1472 939.8L1472.6 939.9L1473.2 911.8L1473.8 889.4L1474.4 896.9L1475 867.8L1475.6 871.9L1476.2 870L1476.8 902.1L1477.4 938.8L1478 839.7L1478.6 902.1L1479.2 901.1L1479.8 896.1L1480.4 867.6L1481 823.4L1481.6 725.8L1482.1 823.4L1482.7 879.3L1483.3 896.1L1483.9 899.2L1484.4 902.7L1485 935.6L1485.6 933L1486.2 929L1486.7 909L1487.3 879.7L1487.8 908.5L1488.4 942.6L1489 942.7L1489.5 942.8L1490.1 905.2L1490.6 887L1491.2 866.2L1491.7 893.9L1492.3 890.2L1492.8 854.4L1493.4 863.6L1493.9 904.8L1494.5 888.8L1495 898.3L1495.6 887.9L1496.1 894.4L1496.6 921.9L1497.2 935.7L1497.7 910L1498.2 913.3L1498.8 878.9L1499.3 869.2L1499.8 892.4L1500.4 890.6L1500.9 864L1501.4 871L1501.9 889.9L1502.4 888.7L1503 884.7L1503.5 849.2L1504 826.3L1504.5 748L1505 748L1505.5 826.3L1506.1 871.2L1506.6 884.7L1507.1 888.7L1507.6 889.9L1508.1 901.2L1508.6 872L1509.1 849.7L1509.6 876.8L1510.1 915.6L1510.6 899.4L1511.1 889.9L1511.6 881.4L1512.1 868.7L1512.6 859L1513.1 894.1L1513.6 893.4L1514 778.6L1514.5 860.8L1515 924.3L1515.5 919.8L1516 920.1L1516.5 901.9L1517 866.2L1517.4 856.6L1517.9 895.5L1518.4 907.7L1518.9 909.8L1519.3 871.7L1519.8 871.3L1520.3 870L1520.8 865.7L1521.2 851.1L1521.7 802.6L1522.2 730.3L1522.6 718L1523.1 730.3L1523.6 802.6L1524 838L1524.5 865.7L1525 857.4L1525.4 840.2L1525.9 871.8L1526.3 902.8L1526.8 898.7L1527.3 875.1L1527.7 842.7L1528.2 879.1L1528.6 863L1529.1 871.5L1529.5 909.7L1530 865.9L1530.4 865.4L1530.9 869.2L1531.3 876L1531.8 889.2L1532.2 882.8L1532.7 852.7L1533.1 860.7L1533.5 794.3L1534 891.7L1534.4 852.7L1534.9 839.6L1535.3 836.7L1535.7 839.5L1536.2 825.1L1536.6 843.2L1537 840.5L1537.5 781.7L1537.9 679L1538.3 781.7L1538.8 840.5L1539.2 858.1L1539.6 860.3L1540 848.5L1540.5 833.5L1540.9 872L1541.3 857.1L1541.7 872.3L1542.2 884.7L1542.6 849.4L1543 862.3L1543.4 863.8L1543.8 845.3L1544.3 819.8L1544.7 861.7L1545.1 872.1L1545.5 868.5L1545.9 870L1546.3 851.9L1546.7 896.7L1547.1 877.5L1547.6 900.8L1548 895.1L1548.4 868.9L1548.8 868.2L1549.2 845.3L1549.6 835.6L1550 835L1550.4 845.3L1550.8 871.3L1551.2 840.4L1551.6 847.5L1552 857.2L1552.4 868.3L1552.8 841.1L1553.2 856.4L1553.6 885.1L1554 867L1554.4 881L1554.8 868.3L1555.2 870.5L1555.6 889.6L1556 849.7L1556.3 857.4L1556.7 835.7L1557.1 885.4L1557.5 909.3L1557.9 908.9L1558.3 865.5L1558.7 848.3L1559.1 879.1L1559.4 820.9L1559.8 819.4L1560.2 836.2L1560.6 857.9L1561 832.2L1561.4 849.6L1561.7 842.1L1562.1 827.3L1562.5 852.9L1562.9 721.9L1563.2 856.5L1563.6 851.4L1564 902.9L1564.4 826.1L1564.7 815.2L1565.1 833L1565.5 889.6L1565.9 869.8L1566.2 825.7L1566.6 848.3L1567 900L1567.3 840L1567.7 842.8L1568.1 857.2L1568.4 850.5L1568.8 860.9L1569.2 832.9L1569.5 816.1L1569.9 803L1570.3 838.4L1570.6 817.7L1571 834.8L1571.3 850.3L1571.7 844.3L1572.1 757.6L1572.4 857.1L1572.8 862.8L1573.1 863.7L1573.5 834.5L1573.9 818.4L1574.2 861.1L1574.6 832.9L1574.9 784.9L1575.3 797.8L1575.6 782.3L1576 795.2L1576.3 827.7L1576.7 831.3L1577 814L1577.4 797.6L1577.7 792.8L1578.1 837.5L1578.4 780.4L1578.8 836.2L1579.1 802.5L1579.5 798.4L1579.8 789L1580.2 791.8L1580.5 858.1L1580.8 845.5L1581.2 818.8L1581.5 835.9L1581.9 796.1L1582.2 812.3L1582.5 827.8L1582.9 804.2L1583.2 862.5L1583.6 865.8L1583.9 880.2L1584.2 842.5L1584.6 838.6L1584.9 833.9L1585.2 853.3L1585.6 843.6L1585.9 821.3L1586.2 848.3L1586.6 832.9L1586.9 783.9L1587.2 787.2L1587.6 822.7L1587.9 847.7L1588.2 806.4L1588.6 846.6L1588.9 865.6L1589.2 809.5L1589.5 807L1589.9 808.4L1590.2 780.8L1590.5 796.8L1590.8 767.1L1591.2 722.8L1591.5 715.3L1591.8 722.8L1592.1 767.1L1592.5 796.8L1592.8 805.7L1593.1 808.4L1593.4 809.2L1593.7 820.3L1594.1 819.2L1594.4 803.2L1594.7 807.7L1595 819L1595.3 806.9L1595.7 794.4L1596 789.2L1596.3 765.2L1596.6 769.2L1596.9 829.7L1597.2 806.1L1597.6 795.6L1597.9 828.9L1598.2 872.5L1598.5 826.7L1598.8 835.4L1599.1 814.1L1599.4 765.9L1599.7 787.7L1600 797L1600.4 817.6L1600.7 794L1601 833.5L1601.3 863.1L1601.6 813.9L1601.9 808.7L1602.2 809.9L1602.5 790.7L1602.8 807.8L1603.1 820.7L1603.4 796.6L1603.7 797.4L1604 761.9L1604.3 752.9L1604.6 778.8L1604.9 789L1605.2 745.2L1605.5 761.1L1605.8 777.1L1606.1 781.6L1606.4 775.5L1606.7 740.7L1607 749.6L1607.3 780.8L1607.6 780.8L1607.9 767.5L1608.2 755.3L1608.5 794.1L1608.8 762.5L1609.1 761.3L1609.4 759.5L1609.7 747.8L1610 759.9L1610.3 759.2L1610.6 757.3L1610.9 752.2L1611.2 739.1L1611.4 709.8L1611.7 707.4L1612 700L1612.3 702.2L1612.6 706.2L1612.9 739.1L1613.2 752.1L1613.5 757.3L1613.8 759.2L1614 759.9L1614.3 760.2L1614.6 763.8L1614.9 753.3L1615.2 769.3L1615.5 772.3L1615.8 754.5L1616 758.6L1616.3 748.9L1616.6 739.2L1616.9 735L1617.2 733L1617.5 760.5L1617.7 735.2L1618 743.3L1618.3 766.1L1618.6 751.2L1618.9 735.6L1619.1 747.6L1619.4 744.9L1619.7 742.3L1620 744.3L1620.3 759.5L1620.5 772.7L1620.8 740.1L1621.1 749.4L1621.4 739.9L1621.6 735.4L1621.9 735.1L1622.2 734.6L1622.5 733.4L1622.7 730.8L1623 724.8L1623.3 711.7L1623.6 682.4L1623.8 618.7L1624.1 614.1L1624.4 607L1624.7 607L1624.9 616.1L1625.2 619.3L1625.5 682.4L1625.7 711.7L1626 724.8L1626.3 709.4L1626.5 714.3L1626.8 718.2L1627.1 719.5L1627.4 763.7L1627.6 727.8L1627.9 725.3L1628.2 734.2L1628.4 752.3L1628.7 733.7L1628.9 727L1629.2 731.7L1629.5 727.7L1629.7 720L1630 722.5L1630.3 735.5L1630.5 732.6L1630.8 743.6L1631.1 724.3L1631.3 723.5L1631.6 714.1L1631.8 715.6L1632.1 700.8L1632.4 662.1L1632.6 562.7L1632.9 557.4L1633.1 546.7L1633.4 556.6L1633.7 563L1633.9 662.1L1634.2 700.8L1634.4 715.6L1634.7 721.3L1635 707.8L1635.2 724.3L1635.5 705L1635.7 714.7L1636 712.3L1636.2 724.2L1636.5 741.9L1636.7 728.7L1637 719L1637.3 704.4L1637.5 706.7L1637.8 703.7L1638 694.5L1638.3 647.3L1638.5 641L1639 647.3L1639.3 694.5L1639.5 710.8L1639.8 716.4L1640 718.3L1640.3 716.2L1640.5 719.2L1640.8 708.5L1641 710.9L1641.3 719.1L1641.5 724.7L1641.8 695L1642 702.5L1642.3 712.9L1642.5 695.2L1642.8 700.2L1643 714L1643.2 723.3L1643.7 703.2L1644 719.1L1644.2 689L1644.5 713.2L1644.7 696.8L1645 653.9L1645.2 542L1645.4 530.4L1645.7 526L1645.9 541L1646.2 547.7L1646.4 653.9L1646.7 677.1L1646.9 638.3L1647.1 567.6L1647.4 441.7L1647.6 457.6L1647.9 427.1L1648.1 414L1648.6 424.7L1648.8 447L1649.1 439.6L1649.3 567.6L1649.5 638.3L1649.8 677.1L1650 698.4L1650.2 710L1650.7 715.4L1651 721.9L1651.2 723L1651.4 759.3L1651.7 730.3L1651.9 712.1L1652.1 736.5L1652.4 758.3L1652.6 752L1652.8 750L1653.1 724.7L1653.3 747.6L1653.5 736.2L1654 759.1L1654.2 758.8L1654.5 760.1L1654.7 746.6L1654.9 752L1655.2 770.9L1655.4 774.9L1655.6 744.6L1655.8 746.2L1656.1 764L1656.3 762.5L1656.5 748.2L1657 764L1657.2 778.2L1657.4 768.4L1657.7 761.4L1657.9 773.6L1658.1 764L1658.4 757.5L1658.6 779.1L1658.8 757.1L1659 751.8L1659.3 767.2L1659.7 776.2L1659.9 772.8L1660.2 772.9L1660.4 734.9L1660.6 773.1L1660.8 768.4L1661.1 759.4L1661.3 773.8L1661.5 768.8L1661.9 751L1662.2 776.4L1662.4 764.4L1662.6 769.4L1662.8 768L1663.1 780.8L1663.3 765.7L1663.5 775.3L1663.9 745.3L1664.2 791L1664.4 755L1664.6 764.6L1664.8 757.6L1665 801.2L1665.5 764.9L1665.7 777.8L1665.9 765.4L1666.1 781.4L1666.3 817.2L1666.6 781.2L1667 815.2L1667.2 829.4L1667.4 843.6L1667.6 838.7L1667.9 813.5L1668.1 828.4L1668.3 824.1L1668.5 835.8L1668.9 844L1669.2 862.1L1669.4 868.9L1669.6 882.8L1669.8 856L1670 840.6L1670.4 855.3L1670.6 857.2L1670.9 890.1L1671.1 886.3L1671.3 848.8L1671.7 883.9L1671.9 891.3L1672.1 866.2L1672.3 888.4L1672.8 878.6L1673 867.2L1673.2 881.2L1673.4 871.7L1673.6 860.5L1673.8 888.6L1674 920.8L1674.2 867.4L1674.6 898.3L1674.8 897.8L1675.1 887.9L1675.5 894L1675.7 890.3L1675.9 899.9L1676.1 878.2L1676.3 894.9L1676.5 899.6L1676.9 916.8L1677.1 902.6L1677.3 910.5L1677.5 924.6L1677.7 900.4L1678.1 905.5L1678.3 915.8L1678.6 886.8L1678.8 912.4L1679.2 907.9L1679.4 912.3L1679.6 894.5L1679.8 932.7L1680.2 895.1L1680.4 897.6L1680.8 940.2L1681 888.7L1681.2 910.9L1681.4 899.4L1681.8 910.1L1682 933.9L1682.2 924.4L1682.4 915.8L1682.6 927.2L1683 919.5L1683.2 926.2L1683.4 906.5L1683.6 925.9L1683.8 931.7L1684.2 931.8L1684.4 933.2L1684.6 917.5L1684.8 908.8L1685.2 916.2L1685.4 917.2L1685.5 905.2L1685.7 920.2L1686.1 918.6L1686.3 923.6L1686.5 932L1686.7 886.4L1687.1 943L1687.3 923.9L1687.7 923.7L1687.9 739.3L1688.1 735L1688.5 738.8L1688.7 934.4L1688.9 922.4L1689 753.1L1689.4 917.8L1689.6 924.9L1689.8 914.2L1690.2 927.4L1690.4 862.6L1690.8 772.1L1691 927.1L1691.2 942.6L1691.3 935.7L1691.7 965.5L1691.9 670L1692.1 957L1692.3 672.7L1692.7 967.7L1692.9 939.4L1693.1 699.6L1693.4 939.8L1693.6 943.8L1693.8 887L1694.2 935.8L1694.4 913.4L1694.6 926.5L1694.9 825.2L1695.1 763.1L1695.5 948.2L1695.7 927L1695.9 943.4L1696 956.5L1696.4 646L1696.8 652.8L1697 958.8L1697.2 937L1697.3 683.1L1697.5 763.1L1697.9 866.8L1698.3 940L1698.4 979.1L1698.6 954.9L1698.8 940L1699.2 946.3L1699.4 946.9L1699.5 949.1L1699.9 970.2L1700.3 965.2L1700.4 949.1L1700.6 964.4L1701 985.6L1701.2 960L1701.3 965.8L1701.5 963.9L1701.7 977.5L1702.1 981.1L1702.4 963.9L1702.6 1008.5L1703 963.9L1703.1 966.7L1703.3 980.1L1703.5 982.2L1703.9 947.8L1704.2 988.6L1704.4 973.5L1704.6 970.6L1704.9 982.5L1705.1 959.5L1705.3 982.3L1705.6 972.6L1705.8 1019.3L1706.2 974L1706.3 981.2L1706.5 981.8L1706.9 996.3L1707 997.1L1707.2 969L1707.7 978.7L1707.9 977.2L1708.3 980.4L1708.4 757L1708.6 977.1L1708.8 743L1709.3 996.2L1709.5 753.3L1709.6 1000.2L1709.8 968.9L1710.2 826.7L1710.3 872.4L1710.5 904.8L1710.7 984.5L1711.2 964L1711.4 990.8L1711.5 979.9L1711.7 967.8L1712 977.4L1712.2 991L1712.6 1003.9L1712.7 983.8L1713.1 1003.6L1713.2 981.8L1713.6 982.2L1713.7 1018.5L1714.2 1011.2L1714.4 994L1714.8 1005.1L1714.9 985.8L1715.1 1018.2L1715.4 999.7L1715.8 994.1L1715.9 1033.4L1716.1 1003.1L1716.3 980.4L1716.6 983.4L1716.9 998.3L1717.1 1008L1717.4 993.5L1717.6 1012.9L1717.8 1028.8L1718.1 989.8L1718.2 1001.9L1718.6 1041.3L1718.7 998.5L1719.2 1025.1L1719.4 996.9L1719.6 994.1L1719.9 1016.1L1720.1 976.3L1720.4 1020.4L1720.7 1009.7L1720.9 1030L1721.2 1035.1L1721.4 1008.1L1721.7 1027.9L1721.8 1022L1722.3 993L1722.5 1047.3L1722.6 1027.2L1723 1005.9L1723.1 1011.7L1723.5 998.8L1723.6 990.7L1723.9 1036.7L1724.1 1027.2L1724.3 1012.4L1724.7 1039.3L1724.9 1024.9L1725 1012.6L1725.4 1039L1725.5 1029.4L1726 1010.2L1726.3 1030.1L1726.5 1017.3L1726.6 1013.7L1726.9 1026L1727.1 1020.3L1727.4 1014.7L1727.7 1056.7L1727.9 1017.9L1728.2 1040.2L1728.4 1015.1L1728.5 1017.7L1729 1038L1729.3 1042.3L1729.4 1056.8L1729.6 1044.3L1729.8 1047.8L1730.1 1010.7L1730.4 1029.6L1730.5 1029.4L1730.8 1047.1L1731.1 1037.1L1731.5 1048.7L1731.6 1037.2L1731.8 1016.7L1732.2 1017.7L1732.4 1061.8L1732.5 1064.7L1733 1034.1L1733.3 1049.8L1733.4 1029.2L1733.6 1029.4L1733.9 1017L1734.2 1059.2L1734.4 976.9L1734.7 1019.7L1735 877.5L1735.3 881.8L1735.4 872L1735.7 869.9L1735.9 863.8L1736 1051.6L1736.5 868.2L1736.8 1056.6L1736.9 875.7L1737.2 921.3L1737.4 1085.7L1737.5 976.9L1738 1021.1L1738.1 1024.1L1738.4 1033.3L1738.7 1031.6L1739 1052.3L1739.1 1041.9L1739.3 1046.7L1739.6 1061.7L1739.7 1045.6L1740.3 1034L1740.5 1061.1L1740.6 1019.8L1740.9 1062.9L1741 1035.7L1741.3 1073L1741.6 1044.9L1741.8 1080.1L1742.1 1039.2L1742.5 1054.5L1742.6 1099.3L1742.8 1036.2L1743.1 1069.5L1743.2 1028.3L1743.5 1070.2L1743.8 1020.7L1744.1 1046L1744.2 1059.1L1744.7 1026.4L1744.8 1057.5L1745.2 1050.9L1745.4 1067.9L1745.5 1029.1L1745.8 1056.4L1746.1 1092.2L1746.4 1050.5L1746.5 1067.6L1746.9 1053.9L1747.2 1049.4L1747.4 1030L1747.8 1046.5L1747.9 1072.2L1748.1 1055.6L1748.5 1020.5L1748.8 1069.4L1748.9 1028.3L1749.2 1078.3L1749.3 1036.3L1749.6 1048L1749.9 1028.9L1750.3 1065.1L1750.4 1035.2L1750.6 1059.7L1751 1034.8L1751.1 1036.2L1751.4 1080.4L1751.6 1063.6L1752 986.8L1752.1 1047.4L1752.4 1089.4L1752.5 961.1L1752.7 1039.8L1753.1 958L1753.5 963.4L1753.6 961.5L1753.7 1054.2L1754 965.5L1754.2 1062L1754.6 1014.6L1755 1052.6L1755.1 1068.4L1755.2 1040.8L1755.7 1032.3L1755.8 1046.1L1756.2 1088.5L1756.5 1019.2L1756.9 983.6L1757 1061.7L1757.1 967.6L1757.4 958.1L1757.7 960.9L1757.9 955.5L1758.1 955.5L1758.5 1047L1758.6 958.7L1759 968.4L1759.3 999.1L1759.4 1051L1759.5 1019.2L1759.9 1052.9L1760.1 1061.4L1760.3 1018.2L1760.8 1083.7L1761 1016.9L1761.2 1042.5L1761.4 1070L1761.5 1084.9L1761.8 1034.9L1762.2 1055.7L1762.3 1032.7L1762.5 1074.2L1762.9 1013.4L1763.2 1055L1763.5 1024.6L1763.6 1022.3L1763.8 1059L1764.2 1012.5L1764.4 1053.8L1764.7 1023.8L1764.9 1052.6L1765 1078.5L1765.1 1032.9L1765.5 1023.1L1765.9 1063.7L1766.2 1024.4L1766.3 1047.3L1766.7 1056.7L1766.8 1017.3L1767.2 1043.1L1767.4 1026.4L1767.8 1069.8L1767.9 1018.8L1768.3 1058.4L1768.4 951.3L1768.8 1057L1769 864.9L1769.3 1057.4L1769.5 858.1L1769.6 856.6L1769.7 1063.7L1770.1 1059.5L1770.3 872L1770.7 917.5L1771 1050.9L1771.2 1008.6L1771.3 1065L1771.6 1047L1771.7 1039L1772.2 1050.6L1772.3 1027.4L1772.6 1074.7L1772.9 1029.6L1773.1 1067.9L1773.3 1034.2L1773.6 1026.2L1773.8 1051.9L1774.2 1061.6L1774.4 1033.9L1774.5 1053.7L1774.7 1034.9L1775 1053.9L1775.4 1022.9L1775.5 1017.3L1775.7 1051.3L1776.1 1055.7L1776.5 1008L1776.8 957L1777 1055.7L1777.3 892.8L1777.4 1052.1L1777.6 1060.3L1777.9 872.6L1778.3 1053L1778.4 886.2L1778.8 882.9L1779 1037L1779.1 957L1779.4 1046.1L1779.7 1023.4L1780 1009.5L1780.2 984.1L1780.3 1055.8L1780.8 903.3L1780.9 1055.7L1781 1053.5L1781.4 890L1781.7 1051.4L1781.8 1093.2L1782.1 1055L1782.3 910L1782.5 964.4L1782.9 1038.8L1783 1017.5L1783.1 1032.2L1783.7 1036.6L1783.9 991L1784.1 1044.7L1784.2 1026.9L1784.9 917.4L1785 1032.3L1785.1 912.4L1785.3 1066.1L1785.8 918.1L1785.9 1042.7L1786 1062.2L1786.4 991L1786.6 1012.1L1786.8 1036.6L1787.1 1028.9L1787.2 1039.5L1787.5 1065.9L1787.9 1008.3L1788.2 1035.4L1788.3 1046.5L1788.5 1055.8L1789 1009.7L1789.3 1027.5L1789.4 1041.1L1789.7 1047.2L1789.9 1065.5L1790.2 1013.9L1790.3 1048.1L1790.8 1070.9L1790.9 1030.2L1791.1 1068L1791.2 1027.9L1791.7 1044.2L1791.9 1059.3L1792 1027.8L1792.2 1080.4L1792.6 1033.7L1792.7 1061.3L1793 1041.3L1793.2 1071.3L1793.6 1032.5L1793.9 1079.4L1794 1016.8L1794.3 1060.4L1794.6 1042.2L1794.9 1025.4L1795.1 1055.1L1795.3 1037.4L1795.7 1077.9L1796 1018.3L1796.1 1049.5L1796.4 977.9L1796.6 1061.9L1797 908.1L1797.3 1068.3L1797.4 900.6L1797.6 1089.8L1797.7 897.3L1798 898.8L1798.5 1063.3L1798.6 1058.1L1798.8 909L1799 1038.4L1799.1 977.9L1799.7 1031.8L1799.9 1017.4L1800.2 1033.4L1800.4 975.6L1800.8 827.1L1800.9 1047.6L1801.1 1060.4L1801.5 756.9L1801.7 727.8L1801.8 1096L1802.2 1061.2L1802.3 753.4L1802.5 770.7L1802.8 1036.4L1803 975.6L1803.2 1045L1803.9 1023.6L1804 1035.4L1804.1 1061L1804.3 1000.9L1804.7 941.7L1804.9 1082.1L1805.2 1046.6L1805.3 915.2L1805.8 905L1806 1058.3L1806.2 907.4L1806.3 1069.8L1806.8 916.5L1806.9 1053.2L1807.1 978.3L1807.3 1061.6L1807.6 1019.8L1807.9 1061.6L1808 1055.6L1808.1 1022.4L1808.5 1023.2L1808.9 1040L1809 1049.3L1809.4 996.6L1809.6 972.1L1809.8 1052.4L1810.2 1007.6L1810.5 1038.1L1810.9 1042.6L1811 896.5L1811.1 896.5L1811.3 1068.4L1811.6 902.1L1811.7 1050.5L1812.3 955.2L1812.4 1057.4L1812.6 1067.3L1812.7 1005.4L1813.2 1023.2L1813.4 1041.2L1813.6 1017.8L1813.9 1054.4L1814.2 1024.8L1814.5 1049.3L1814.5 1066.3L1814.9 1021.1L1815.2 1051.5L1815.4 985.3L1815.7 1061.9L1815.9 914.9L1816.2 1049L1816.3 909.3L1816.7 914.5L1816.9 905L1817.2 1065.7L1817.3 906.6L1817.6 1033.6L1817.7 915.1L1818.2 938.8L1818.3 1041.9L1818.6 995.5L1818.9 1021.1L1819 1015.6L1819.4 1047.8L1819.8 1008.4L1820 1040.7L1820.1 1062L1820.2 1024.4L1820.7 1055L1820.9 1030.3L1821.1 1081.4L1821.4 1029.8L1821.8 1038.8L1821.9 1010L1822 1050.6L1822.5 982.1L1822.6 981.6L1822.7 1081L1823.2 979.4L1823.3 1096.3L1823.8 981.1L1823.9 1046.4L1824.2 983.6L1824.5 1041.7L1824.5 1003.1L1824.8 1046.1L1825 1051.2L1825.2 1031.9L1825.9 1060.8L1825.9 1026.2L1826.3 1040.4L1826.4 998L1826.7 1028.7L1827 1083L1827.3 1046.1L1827.4 842L1827.5 1075.4L1827.7 830.3L1828.2 837.2L1828.3 1069.3L1828.6 891.1L1829 1058.5L1829.1 1041.1L1829.2 1006.9L1829.5 1026.2L1829.8 1050.3L1830.3 1030.5L1830.4 1047.3L1830.5 1096.4L1831 1001.1L1831.2 1026.6L1831.3 1038.5L1831.9 1040.7L1832 1012.7L1832.3 1064.6L1832.4 970.3L1832.6 1054.1L1833 913.8L1833.1 1023.2L1833.3 906.4L1833.7 904.5L1833.8 1064.5L1834.3 909.5L1834.5 1032L1834.7 917.7L1834.8 1062.6L1835.2 992.4L1835.4 1079.3L1835.5 1016.8L1836 1078.9L1836.1 1031.3L1836.2 1045.3L1836.7 1017.6L1837 1053L1837 1050.7L1837.3 1024.4L1837.7 1049.9L1837.8 1007.5L1838.1 1060.3L1838.3 840.8L1838.8 1055.4L1839 740.6L1839 740.6L1839.2 765.9L1839.6 764.3L1839.8 1051.1L1840.1 990.8L1840.3 1057.7L1840.5 1041L1840.8 1097.2L1841.1 1080.5L1841.5 1064.9L1841.7 1050.6L1842 1090L1842.1 1063.4L1842.4 1101.1L1842.7 1095.9L1843 1035.9L1843.2 1085.1L1843.4 1065.5L1843.6 1047.7L1843.8 1111.6L1844.3 1047.6L1844.4 1083.8L1844.5 1063.7L1844.9 1092.5L1845.2 1059.2L1845.4 1096.2L1845.5 1058.9L1845.7 1089.1L1846.1 1099.5L1846.3 1051.9L1846.6 1063.8L1846.7 1122.5L1847.1 1087.2L1847.4 1063.6L1847.6 1071.9L1847.9 1093.4L1848.1 1058.9L1848.4 1109.9L1848.7 1057L1848.8 1099L1849 1061.9L1849.2 1101.1L1849.7 1081.9L1850 1054.1L1850.3 1111.8L1850.4 1076.2L1850.7 1094.5L1851 1064.5L1851.1 1053.4L1851.2 1084.2L1851.6 1067.2L1851.7 1089.9L1852.3 1073.6L1852.3 1089L1852.6 1062.3L1853 1109.8L1853.2 1086.3L1853.3 1042.8L1853.8 1057.9L1853.9 1115.9L1854 1039.6L1854.4 1113.1L1854.6 1083.5L1854.7 1049.5L1855.2 1068L1855.4 1098.7L1855.7 1096.6L1855.9 1075.2L1856.1 1059L1856.2 1101.3L1856.6 1068.2L1856.7 1095.9L1857 1097.1L1857.1 1059.8L1857.5 1089.1L1857.8 1058.9L1858.1 1051.5L1858.3 1096.5L1858.5 1052.8L1858.9 1111.5L1859 1091.1L1859.5 1059.7L1859.6 1071.7L1859.9 1086.7L1860.4 1056.3L1860.5 1076.9L1860.6 1058.4L1860.7 1084.5L1861.2 1060.4L1861.4 1096.9L1861.9 1106.3L1861.9 1071L1862.1 1088.6L1862.3 1041.5L1862.6 1085.6L1862.7 1066.8L1863.2 1101.3L1863.2 1055.2L1863.6 1117.1L1863.9 1064.3L1864.2 1093.5L1864.3 1062.3L1864.6 1097.5L1865 1058.4L1865.2 1057.3L1865.4 1105.1L1865.6 1092.7L1865.8 1062.1L1866 1049.2L1866.1 1091.3L1866.6 1101.2L1866.7 1065.5L1867 1091.6L1867.2 1069.7L1867.6 1111L1867.8 1056L1868.4 1053L1868.4 1088L1868.6 1096.8L1868.9 1059.8L1869.3 1095L1869.5 1053.4L1869.8 1078.2L1869.9 1113.2L1870.1 1062.3L1870.3 1088.4L1870.7 1099.9L1870.9 1050.8L1871.1 1064.1L1871.4 1097.1L1871.7 1115.9L1872 1043.2L1872.1 1061.9L1872.5 1110.9L1872.8 1094.9L1872.8 1060.5L1873 1040.8L1873.4 1103.9L1873.5 1056.1L1874 1081.7L1874.1 1104.6L1874.3 1059.3L1874.6 1057.2L1875 1087.1L1875.1 1051.6L1875.5 1101.6L1875.6 1100.8L1875.9 1066.3L1876.4 1108.3L1876.5 1054.8L1876.6 1107.8L1877 1068.6L1877.2 1042.5L1877.3 1094.7L1877.5 1095.7L1877.8 1048.9L1878.2 1046L1878.3 1091.8L1878.7 1111.7L1878.9 1045.6L1879.2 1108.8L1879.3 1060.7L1879.7 1114.9L1879.9 1049.5L1880.1 1051.2L1880.3 1085.1L1880.8 1094.7L1881 1040.2L1881 1089.9L1881.3 1065.5L1881.8 1091.2L1881.9 1049.3L1882 1064.7L1882.4 1098.2L1882.7 1088L1882.8 1044.3L1883.1 1054.4L1883.3 1094.9L1883.7 1107.2L1884 1058L1884.1 1077.4L1884.3 1056.4L1884.6 1105.6L1885 1064.3L1885.2 1101.3L1885.2 1058.9L1885.8 1090.9L1885.8 1067.6L1886.2 1086.2L1886.2 1046L1886.6 1051.1L1886.9 1103.2L1887 1057.2L1887.1 1109.9L1887.6 1060.4L1887.8 1080.6L1888 1096.1L1888.1 1069.9L1888.6 1086.9L1888.7 1044L1889.1 1060.6L1889.4 1103.2L1889.6 1058.1L1889.7 1080.7L1890.2 1088.4L1890.2 1056.5L1890.5 1058.6L1890.9 1095.8L1891.3 1045.6L1891.4 1099.6L1891.9 1068.4L1891.9 1052L1892.2 1080.1L1892.5 975.3L1892.9 968L1893 1104.1L1893.3 972.4L1893.4 1084.4L1893.6 1015.5L1893.7 1089.9L1894 1081.4L1894.3 1048.3L1894.8 1098.1L1895 1060L1895.1 1100L1895.3 1062.4L1895.7 1095.9L1895.8 1041.6L1896.2 1092.3L1896.4 1043.7L1896.7 1046.1L1896.7 1104.8L1897.3 1104.5L1897.4 1052.2L1897.7 1056.2L1897.9 1106.4L1898.2 1049.6L1898.4 1122.5L1898.6 1057.7L1898.9 1088.7L1899.1 1067.9L1899.2 1093.8L1899.6 1057.9L1899.9 1107.6L1900.3 1068.3L1900.3 1089L1900.9 1089.9L1900.9 1066.4L1901.2 1049.1L1901.4 1122.5L1901.8 1103.5L1901.9 1042.5L1902.3 1045.8L1902.4 1095.3L1902.7 1058.2L1903 1103L1903.1 1056.8L1903.1 1116.4L1903.6 1080.3L1903.8 1044.1L1904 1065.3L1904.3 1093.6L1904.5 1062.5L1904.7 1095L1905 1044.2L1905.1 1098.3L1905.6 1061.2L1905.8 1097.7L1906.1 1091L1906.4 1063.8L1906.6 1100.6L1906.9 1061.1L1907.4 1054.8L1907.4 1104.8L1907.6 1037.9L1907.6 1087.5L1908 1092.6L1908.2 1056.1L1908.8 1082.3L1908.9 1059L1909 1056.1L1909.2 1107.3L1909.7 1060.4L1909.9 1113.5L1910 1062L1910.4 1111.5L1910.6 1063.7L1910.7 1114.7L1911.3 1052.3L1911.4 1107.1L1911.6 1087.8L1911.8 1043.6L1912 1066.2L1912.4 1103.5L1912.8 1088.6L1912.9 1062.1L1913 1049.9L1913.5 1106.5L1913.6 1044.7L1914 1104L1914.1 1090.2L1914.4 1064.5L1914.8 1072.7L1915 1098.7L1915.1 1060.9L1915.3 1106.7L1915.5 1058.1L1915.7 1079.5L1916.1 1055.4L1916.5 1107.7L1916.7 1097.2L1916.8 1049.9L1917.2 1057.6L1917.4 1101.1L1917.8 1045.2L1917.8 1078.2L1918 1064.7L1918.2 1099.9L1918.8 1041.3L1918.9 1086.6L1919.1 1057.6L1919.4 1115L1919.6 1052.6L1920 1085.8L1920.1 1093.9L1920.1 1045.2L1920.7 946.6L1920.8 1093L1921.1 1062.6L1921.3 893L1921.5 898.4L1921.8 1084.5L1922.1 1054.2L1922.5 1090.7L1922.6 1090L1922.8 1045.7L1923 1094.3L1923.5 1056L1923.5 1047.4L1924 1097.7L1924.4 1087.2L1924.5 1056L1924.5 1050.9L1924.6 1086.8L1925.3 1049.8L1925.4 1085.8L1925.5 1059.4L1925.8 1099.4L1926.2 1093.1L1926.4 1057.6L1926.6 1050.5L1926.7 1104.8L1927.1 1097.4L1927.4 1050.6L1927.5 1111.5L1927.6 1038.1L1928.2 1122.5L1928.3 1052L1928.9 980.4L1929 1094.3L1929.1 1079.4L1929.3 970.8L1929.5 974.3L1929.8 1078.8L1930.2 1051.9L1930.4 1091.8L1930.9 1111.9L1931 1054.8L1931.2 1052.5L1931.5 1110.6L1931.5 1085.2L1931.7 1057.4L1932.3 1057L1932.4 1101L1932.6 1098.8L1932.8 1054L1933.1 1055.8L1933.2 1096.9L1933.7 1104.4L1933.9 1064.7L1934.1 1052L1934.2 1083.4L1934.7 1103.3L1934.7 1054.1L1935.1 1094.6L1935.3 1051.1L1935.9 1097.8L1935.9 1046.7L1936.1 1093.3L1936.2 1048.7L1936.6 1106.3L1937 1054.3L1937.4 1104.7L1937.5 1064.7L1937.9 995.5L1937.9 1085.3L1938.2 1115.4L1938.3 990L1938.6 994.3L1939 1056L1939.2 1091.8L1939.3 1064.7L1939.9 1052.1L1940 1102L1940.3 1051L1940.4 1103L1940.7 1059.1L1940.8 1105.8L1941.1 1055.2L1941.2 1095.9L1941.7 1046.8L1941.9 1098.3L1942.2 1053.2L1942.3 1089.7L1942.8 1094.2L1942.9 1057.4L1943 1046.5L1943.3 1098.1L1943.8 1054.1L1943.8 1092.5L1944 1095.1L1944.4 1054L1944.7 1102.3L1944.9 1044.7L1945 1099.8L1945.3 1052L1945.6 1050.3L1946 1105.8L1946.2 1091.4L1946.2 1058.8L1946.8 1049.2L1947 1096.7L1947.3 1057.2L1947.4 1103.4L1947.8 1082.3L1948 990L1948 990L1948.5 1110.4L1948.5 1038.4L1948.8 1101.3L1949.3 1100.9L1949.4 1064.3L1949.5 1095.7L1949.7 1058.4L1950.1 1110.7L1950.4 1058.8L1950.6 1043.7L1950.8 1089L1951.2 1103.4L1951.4 1054.7L1951.7 1048.5L1951.9 1095.4L1952 1057.7L1952.3 1097.4L1952.6 1098.8L1952.8 1053L1953.1 1094.8L1953.4 1055.5L1953.6 1089.5L1953.8 1048.3L1954.2 1052.2L1954.5 1094.9L1954.6 1040.7L1954.7 1103.9L1955.1 1113.1L1955.2 1056.6L1955.5 1118L1955.8 1032.4L1956.2 1099.8L1956.5 1043.9L1956.9 1055.2L1957 1094L1957 1088.1L1957.3 1062.8L1957.6 1108.2L1958 1047L1958.3 1109.7L1958.3 1065.2L1958.5 1051.1L1958.9 1114.9L1959.2 1090.3L1959.3 1044.6L1959.8 1110L1959.9 1053.2L1960.1 1054L1960.2 1098L1960.6 1062.2L1960.7 1090.1L1961.1 1055.5L1961.4 1096.2L1961.6 1097L1961.8 1053.1L1962.1 1113.4L1962.2 1052L1962.9 1094.5L1963 1051.3L1963.2 1057.2L1963.4 1117.3L1963.8 1105L1963.9 1066.6L1964.4 1089.8L1964.5 1056.3L1964.5 1095.2L1964.7 1048.2L1965.2 1116.7L1965.4 1067.5L1965.6 1098.7L1965.8 1048.4L1966.3 1095.2L1966.4 1047.1L1966.6 1106.1L1966.7 1052.2L1967.1 1102L1967.4 1045.8L1967.6 1056.5L1967.8 1118.1L1968 1055.9L1968.1 1086L1968.6 1069.8L1968.8 1099.2L1969.1 1043.2L1969.1 1111.7L1969.6 1054.3L1969.9 1096.8L1970 1055.5L1970.4 1098.6L1970.8 1057.5L1970.9 1102.7L1971.2 1037.6L1971.3 1122.5L1971.7 1093.3L1971.8 1050.2L1972.1 1086.8L1972.3 1055L1972.5 1101.5L1972.7 1034.9L1973 1047.4L1973.4 1110.5L1973.6 1096.3L1973.7 1060.5L1974 1099.3L1974.5 1057.3L1974.8 1102.7L1974.9 1060.5L1975.4 1056.9L1975.5 1088.1L1975.7 1122.5L1975.7 1063.9L1976.1 1093.5L1976.4 1060.4L1976.5 1046.7L1976.6 1106.7L1977.1 1047.3L1977.2 1108.4L1977.6 1058.8L1977.9 1104.4L1978.1 1051.1L1978.5 1101L1978.5 1084.3L1978.9 1059.5L1979.1 1108.5L1979.4 1035.1L1979.7 1113.6L1979.9 1046.2L1980 1065.4L1980.2 1101.4L1980.7 1122.5L1980.9 1046.6L1981 1088.7L1981.4 1056.5L1981.6 1101L1981.7 1049.7L1982.2 1056.7L1982.3 1104.6L1982.5 1092.8L1982.8 1051.6L1983.1 1065.4L1983.2 1115.1L1983.6 1070.2L1983.8 1112.1L1984.1 1109.3L1984.3 1034.4L1984.7 1122.5L1984.9 1052.1L1985.3 1108.5L1985.3 1042.8L1985.6 1107.5L1985.8 1044.3L1986.2 1052.8L1986.3 1104.4L1986.8 1119.6L1986.9 1055.9L1987.1 1114.1L1987.3 1044.3L1987.8 1057.8L1987.9 1096.3L1988.1 1062.3L1988.2 1101.5L1988.9 1103.8L1988.9 1050L1989.1 1052.8L1989.2 1100.3L1989.7 1122.5L1990 1062.7L1990.4 1058.8L1990.4 1102.5L1990.6 1065.7L1990.9 1101L1991.2 1047.9L1991.4 1110L1991.6 1097.5L1992 1054.6L1992.1 1042.1L1992.2 1122.5L1992.7 1104.4L1992.9 1053.2L1993 1045.5L1993.5 1093.2L1993.6 1097.8L1993.8 1052.5L1994 1103.8L1994.5 1050.1L1994.5 1045.8L1994.8 1098.2L1995 1059.6L1995.1 1111.4L1995.7 1059.1L1995.7 1103.4L1996.2 1099.2L1996.3 1044L1996.8 1102.2L1997 1036.9L1997.2 1050.8L1997.3 1114.3L1997.6 1106.5L1997.9 1052.7L1998.1 1100.3L1998.2 1057.2L1998.8 1100.7L1998.9 1047.1L1999.2 1095.4L1999.3 1046.5L1999.9 1038.3L1999.9 1098.9L2000 1059.9L2000.2 1121L2000.9 1057.5L2000.9 1096L2001.4 1060L2001.4 1102.4L2001.7 1122.5L2001.8 1050.4L2002.1 1048.9L2002.2 1100.6L2002.6 1043.1L2002.8 1095.6L2003.2 1041.7L2003.3 1096.8L2003.6 1050.5L2004 1098.9L2004.1 1056.6L2004.2 1107.9L2004.8 1046.4L2004.9 1094.9L2005.2 1053.4L2005.5 1122.5L2005.6 1048.9L2005.7 1095.9L2006.1 1052.6L2006.2 1103L2006.7 1059.2L2006.9 1113.9L2007.3 1104.4L2007.3 1051.2L2007.8 1048.9L2007.9 1098.8L2008.2 1037L2008.2 1112.8L2008.5 1051.4L2008.9 1095.6L2009.3 1108.2L2009.5 1056.5L2009.8 1110.6L2009.9 1069.2L2010.3 1065.5L2010.5 1116.5L2010.6 1099.2L2010.9 1045.4L2011.2 1099.5L2011.4 1058.9L2011.7 1095.7L2011.7 1060.9L2012.1 1061.3L2012.1 1098.7L2012.5 1057.9L2012.6 1098.9L2013.1 1056.1L2013.3 1122.5L2013.8 1047.5L2014 1119.1L2014.2 1107.6L2014.3 1041.8L2014.5 1059.4L2014.8 1093.1L2015.1 1101L2015.2 1052.5L2015.6 1053.3L2015.7 1099.7L2016.3 1106.7L2016.3 1047.1L2016.8 1102.1L2016.9 1063.7L2017.1 1045.9L2017.3 1100.8L2017.8 1054.8L2017.9 1096.1L2018.2 1105.4L2018.5 1060.4L2018.8 1040.5L2018.8 1122.5L2019.2 1105.8L2019.5 1043.8L2019.8 1099.4L2019.9 1055.3L2020.1 1043.4L2020.5 1108.8L2020.7 1113.7L2020.8 1054.5L2021.3 1061.5L2021.4 1097.6L2021.7 1053.6L2022 1113.3L2022.1 1100.2L2022.4 1041.2L2022.6 1046.8L2022.7 1097.1L2023.1 1046.5L2023.3 1103.3L2023.7 1092.7L2023.7 1019.6L2024 1110.9L2024.5 1045.4L2024.7 1117.7L2024.9 1062.1L2025.1 1034.1L2025.5 1098.3L2025.9 1118.8L2025.9 1047.7L2026.1 1093.2L2026.4 1044.4L2026.6 1099.1L2026.8 1048.7L2027.1 1099.8L2027.4 1060.1L2027.6 1101L2027.7 1048L2028.1 1039.2L2028.1 1107.4L2028.5 1117.9L2028.9 1045.3L2029.1 1102.2L2029.4 1052.5L2029.8 1047.9L2029.8 1110.1L2030.1 1102.2L2030.3 1055.8L2030.6 1105L2031 1057.5L2031 1113L2031.4 1043.7L2031.7 1041.5L2031.7 1116.6L2032.1 1099.7L2032.3 1058.6L2032.6 1106.4L2032.7 1065.7L2033.2 1091.5L2033.4 1048.6L2033.8 1086.5L2033.8 1053.4L2034.1 1060.1L2034.2 1097.9L2034.6 1053L2034.9 1112.4L2035.2 1040.4L2035.4 1098.3L2035.7 1048.4L2035.8 1104.5L2036.1 1111.4L2036.3 1065L2036.5 1111.3L2036.6 1052.8L2037.1 1056.6L2037.4 1112.3L2037.6 1058.2L2037.7 1102.5L2038 1055L2038.2 1100.3L2038.8 1054.6L2038.8 1119.1L2039 1054.5L2039.4 1120.5L2039.7 1096.5L2040 1057.1L2040.1 1048L2040.1 1112.7L2040.6 1058.5L2040.8 1095.9L2041.3 1041.4L2041.3 1106.6L2041.9 1090.7L2042 1054.7L2042.2 1121.4L2042.3 1048.2L2042.7 1046.8L2042.7 1101.5L2043.2 1056.4L2043.4 1089.1L2043.6 1100.4L2043.7 1049.7L2044 1043.7L2044.4 1098.8L2044.8 1051.3L2044.9 1101.4L2045.1 1049.7L2045.4 1110.9L2045.7 1095.3L2045.8 1056.3L2046.2 1038.6L2046.4 1100.6L2046.7 1047L2047 1103.3L2047.4 1112.1L2047.4 1055.1L2047.6 1049.6L2047.6 1122.5L2048.1 1103.9L2048.4 1045.3L2048.7 1052.7L2048.9 1095.1L2049.3 1115.2L2049.3 1059L2049.6 1106.2L2049.7 1061.4L2050.1 1105.3L2050.4 1047.5L2050.7 1055.8L2050.9 1122.5L2051.1 1041.8L2051.4 1112.8L2051.6 1102.9L2052 1057.7L2052.3 1046.3L2052.5 1087.9L2052.6 1106.6L2052.6 1046.7L2053.1 1104.8L2053.2 1047.3L2053.5 1100.6L2053.8 1043.2L2054 1118.8L2054.3 1057.3L2054.6 1112.7L2054.7 1058L2055.2 1108.8L2055.5 1031L2055.6 1052.7L2055.7 1103.4L2056.3 1043.3L2056.3 1109.8L2056.7 1103.7L2056.7 1039.1L2057 1053L2057.5 1095.5L2057.7 1050.5L2057.8 1104.1L2058.1 1049.2L2058.2 1117.6L2058.7 1105.8L2059 1049.7L2059 1090.2L2059.2 1031.7L2059.6 1122.5L2059.6 1055.2L2060.3 1097.6L2060.4 1042.1L2060.6 1100.5L2060.9 1035.6L2061.3 1098.9L2061.5 1050.5L2061.8 1043.4L2061.9 1094.9L2062.1 1045.2L2062.2 1106.7L2062.8 1112.6L2063 1053.6L2063.2 1104.1L2063.5 1052.5L2063.7 1092.7L2063.8 1052.9L2064.1 1039.8L2064.4 1099.5L2064.5 1045.9L2064.6 1122.5L2065.1 1056.1L2065.4 1122.5L2065.7 1051.2L2065.8 1115.7L2066.1 1121L2066.2 1054L2066.9 1035.4L2067 1107.3L2067.1 1109.6L2067.4 1041.6L2067.6 1114.8L2067.8 1057.1L2068.1 1103.4L2068.4 1057.6L2068.7 1062.3L2068.8 1105.2L2069 1051.2L2069.2 1109.4L2069.8 1062.5L2070 1101.8L2070 1090.4L2070.3 1051.7L2070.6 1098.1L2071 1055.4L2071.4 1052.9L2071.5 1103.2L2071.8 1055.1L2071.9 1101.1L2072 1046.5L2072.4 1113.1L2072.7 1056.5L2072.9 1118.6L2073.2 1114.9L2073.4 1050.9L2073.6 1056.5L2074 1092.4L2074.1 1098.5L2074.5 1044.7L2074.6 1101.8L2074.8 1052.7L2075.2 1056.8L2075.4 1108.8L2075.6 1046.9L2075.9 1113.2L2076.4 1048.3L2076.4 1098L2076.7 1093.5L2076.8 1049.7L2077.4 1046.6L2077.5 1095.4L2077.7 1056L2077.9 1097.2L2078.1 1109.4L2078.2 1053.5L2078.8 1108.6L2078.9 1040L2079.1 1122.5L2079.4 1052.8L2079.7 1034.8L2080 1107.5L2080 1109.9L2080.2 1036.8L2080.5 1059L2080.6 1108.8L2081.1 1099.9L2081.4 1048L2081.5 1058.1L2081.8 1099.8L2082.1 1108.8L2082.5 1039.4L2082.7 1053.3L2082.8 1119.2L2083.1 1109.2L2083.2 1036.7L2083.9 1115.1L2083.9 1048.7L2084.2 1051.2L2084.3 1095.7L2084.5 1121.4L2084.8 1049.1L2085.1 1050L2085.4 1094.6L2085.7 1049L2086 1095L2086.1 1119.8L2086.2 1040.8L2086.6 1063.4L2086.8 1103.6L2087.1 1106.5L2087.4 1060.2L2087.9 1106.6L2088 1050L2088.2 1058.2L2088.3 1113.7L2088.7 1111.3L2088.9 1030.3L2089.1 1117.9L2089.1 1053.5L2089.8 1106.5L2089.9 1050.7L2090.4 1047.5L2090.4 1096L2090.5 1122.5L2090.6 1045.9L2091.1 1050L2091.4 1106.8L2091.8 1058.8L2091.9 1101.4L2092.2 1100.6L2092.5 1053.2L2092.5 1060.2L2092.7 1110.9L2093.1 1053.5L2093.2 1100.3L2093.6 1120.4L2093.7 1062.9L2094.1 1105.3L2094.3 1047.7L2094.9 1104.7L2094.9 1047.8L2095.4 1118.6L2095.5 1057.4L2095.7 1103.8L2095.8 1053.1L2096 1060.5L2096.3 1117.6L2096.6 1057.2L2096.9 1109.9L2097.1 1111.9L2097.2 1041.3L2097.6 1106.9L2097.8 1038L2098.4 1042.7L2098.5 1105.4L2098.8 1106.2L2098.8 1064.1L2099.3 1097.7L2099.3 1046L2099.9 1111.2L2100 1047L2100.3 1115L2100.4 1045.1L2100.6 1030.8L2100.9 1107.1L2101.1 1108.8L2101.2 1046.1L2101.9 1099.7L2101.9 1046.7L2102 1105.5L2102.2 1047.1L2102.8 1115.7L2102.9 1050L2103.4 1104.6L2103.5 1039.5L2103.7 1037L2103.8 1121.4L2104.2 1110.5L2104.5 1048.9L2104.8 1098.5L2104.9 1043.8L2105.2 1043.1L2105.4 1119.7L2105.6 1117.6L2105.7 1043.6L2106 1122.5L2106.2 1039.5L2106.6 1099L2106.8 1048.2L2107.1 1060L2107.3 1111.7L2107.7 1107.1L2107.9 1045.2L2108 1091.9L2108 1043.6L2108.5 1106.2L2108.6 1047.1L2109.1 1046.4L2109.2 1112.5L2109.5 1120.9L2109.7 1035.9L2110.2 1122.5L2110.5 1040.1L2110.5 1045.7L2110.6 1097.6L2111.2 1122.5L2111.2 1043L2111.7 1042.3L2112 1107.4L2112.2 1122.5L2112.3 1043.7L2112.6 1051L2112.8 1104.5L2113.1 1040.4L2113.3 1102.8L2113.6 1053.5L2113.6 1112.5L2114.2 1113.5L2114.5 1051.5L2114.6 1043.4L2114.9 1115L2115.3 1096.4L2115.3 1052L2115.6 1058.5L2115.8 1108.6L2116 1056.1L2116.1 1111.9L2116.6 1048.2L2116.7 1111.3L2117.2 1057.5L2117.3 1106.9L2117.6 1044.7L2117.7 1111.3L2118.4 1049.9L2118.5 1119.1L2118.6 1038.8L2118.7 1101.5L2119.2 1047.5L2119.5 1097.8L2119.5 1122.5L2119.6 1046.8L2120 1122.5L2120.2 1043L2120.7 1122.5L2120.9 1042.8L2121.1 1103.9L2121.2 1051.7L2121.5 1043.9L2121.7 1105.8L2122.4 1097L2122.4 1049.9L2122.6 1097.4L2122.9 1046.2L2123 1053.8L2123.3 1101.9L2123.7 1050.9L2124 1105L2124.3 1046L2124.4 1109.8L2124.5 1096.1L2125 1047.8L2125.4 1110.3L2125.4 1051.3L2125.5 1111.9L2125.6 1050.4L2126.1 1048.5L2126.2 1110.2L2126.6 1045.4L2126.8 1114.6L2127.2 1122.5L2127.5 1061.8L2127.7 1043.5L2127.9 1105.1L2128.2 1042.2L2128.4 1115.8L2128.6 1053.6L2128.7 1111.5L2129.1 1046.8L2129.1 1119.3L2129.6 1113.5L2129.9 1023.6L2130.4 1044.7L2130.5 1114.8L2130.6 1045.1L2130.7 1105.6L2131.3 1104L2131.3 1044.2L2131.9 1035.3L2132 1116.9L2132.3 1044.5L2132.3 1109.3L2132.5 1045.2L2132.7 1104.6L2133.1 1121.6L2133.1 1045.3L2133.6 1111.5L2133.8 1046.8L2134.4 1106.7L2134.5 1045.4L2134.8 1099.3L2134.8 1044.2L2135.2 1047.8L2135.4 1108.5L2135.5 1122.5L2135.7 1052.5L2136.1 1050.5L2136.2 1105.5L2136.6 1109.7L2136.9 1044.8L2137.2 1058L2137.2 1109.4L2137.7 1108L2137.9 1038.2L2138.2 1048.8L2138.3 1107.3L2138.5 1049.7L2138.6 1116.4L2139 1099.5L2139.1 1051L2139.8 1050.4L2140 1104.7L2140.1 1100.8L2140.1 1053.9L2140.7 1053.1L2140.9 1100.7L2141.4 1100.1L2141.4 1053L2141.6 1046.5L2141.9 1105.9L2142.2 1105.3L2142.5 1049.1L2142.6 1047.4L2142.6 1121L2143.1 1117.3L2143.2 1048.2L2143.7 1053.8L2144 1122.5L2144.1 1049.8L2144.5 1108.4L2144.8 1053.6L2144.8 1107.3L2145.2 1038.5L2145.5 1116.6L2145.5 1046.2L2145.8 1113.7L2146.3 1037.3L2146.4 1101.1L2146.8 1053.8L2146.8 1109.7L2147.1 1105.4L2147.2 1053.4L2147.7 1037.4L2147.9 1100.2L2148.1 1087.9L2148.1 1058.6L2148.6 1050.9L2149 1113.3L2149.2 1051.1L2149.3 1116.4L2149.8 1049.1L2149.9 1094.5L2150 1050.6L2150.3 1115.1L2150.7 1043.5L2150.9 1122.5L2151.1 1049.4L2151.1 1106.9L2151.8 1046.1L2151.9 1105.3L2152.2 1102.4L2152.4 1051.8L2152.6 1036L2152.8 1104L2153.3 1052.6L2153.4 1101.6L2153.6 1024.5L2153.8 1098.9L2154.1 1120.4L2154.3 1053.2L2154.5 1052.4L2154.7 1114.1L2155.4 1049.8L2155.5 1106.3L2155.8 1116.3L2155.9 1048.8L2156.2 1056.2L2156.4 1111.4L2156.5 1104L2156.7 1042.5L2157.1 1120.2L2157.3 1049.2L2157.8 1122.1L2157.9 1046.3L2158.1 1102.1L2158.2 1052.8L2158.8 1030.7L2158.8 1112.3L2159.2 1109.8L2159.3 1048.2L2159.7 1050.2L2159.8 1112.4L2160.2 1115.8L2160.2 1039.4L2160.5 1100.1"/>
<path stroke="#000" d="M300.5 673.2L733.0 896.8L1098.4 1024.2L2030.3 1024.2"/>
</g>
<path d="M430.5 1440.5V160.5M506.5 1440.5V160.5M560.5 1440.5V160.5M602.5 1440.5V160.5M637.5 1440.5V160.5M665.5 1440.5V160.5M691.5 1440.5V160.5M713.5 1440.5V160.5M732.5 1440.5V160.5M863.5 1440.5V160.5M939.5 1440.5V160.5M993.5 1440.5V160.5M1035.5 1440.5V160.5M1069.5 1440.5V160.5M1098.5 1440.5V160.5M1123.5 1440.5V160.5M1145.5 1440.5V160.5M1165.5 1440.5V160.5M1295.5 1440.5V160.5M1371.5 1440.5V160.5M1425.5 1440.5V160.5M1467.5 1440.5V160.5M1501.5 1440.5V160.5M1530.5 1440.5V160.5M1555.5 1440.5V160.5M1578.5 1440.5V160.5M1597.5 1440.5V160.5M1728.5 1440.5V160.5M1804.5 1440.5V160.5M1858.5 1440.5V160.5M1900.5 1440.5V160.5M1934.5 1440.5V160.5M1963.5 1440.5V160.5M1988.5 1440.5V160.5M2010.5 1440.5V160.5M2030.5 1440.5V160.5M300.5 1344.5H2160.5M300.5 1287.5H2160.5M300.5 1247.5H2160.5M300.5 1216.5H2160.5M300.5 1191.5H2160.5M300.5 1170.5H2160.5M300.5 1151.5H2160.5M300.5 1135.5H2160.5M300.5 1120.5H2160.5M300.5 1024.5H2160.5M300.5 967.5H2160.5M300.5 927.5H2160.5M300.5 896.5H2160.5M300.5 871.5H2160.5M300.5 850.5H2160.5M300.5 831.5H2160.5M300.5 815.5H2160.5M300.5 800.5H2160.5M300.5 704.5H2160.5M300.5 647.5H2160.5M300.5 607.5H2160.5M300.5 576.5H2160.5M300.5 551.5H2160.5M300.5 530.5H2160.5M300.5 511.5H2160.5M300.5 495.5H2160.5M300.5 480.5H2160.5M300.5 384.5H2160.5M300.5 327.5H2160.5M300.5 287.5H2160.5M300.5 256.5H2160.5M300.5 231.5H2160.5M300.5 210.5H2160.5M300.5 191.5H2160.5M300.5 175.5H2160.5" fill="none" stroke="#000" stroke-width="1" stroke-dasharray="1.39 4.17" stroke-opacity="0.85"/>
<path d="M300.50 1440.5v-7.0M300.50 160.5v7.0M732.95 1440.5v-7.0M732.95 160.5v7.0M1165.41 1440.5v-7.0M1165.41 160.5v7.0M1597.86 1440.5v-7.0M1597.86 160.5v7.0M2030.32 1440.5v-7.0M2030.32 160.5v7.0M300.5 1440.50h7.0M2160.5 1440.50h-7.0M300.5 1120.50h7.0M2160.5 1120.50h-7.0M300.5 800.50h7.0M2160.5 800.50h-7.0M300.5 480.50h7.0M2160.5 480.50h-7.0M300.5 160.50h7.0M2160.5 160.50h-7.0M430.68 1440.5v-3.0M430.68 160.5v3.0M506.83 1440.5v-3.0M506.83 160.5v3.0M560.86 1440.5v-3.0M560.86 160.5v3.0M602.77 1440.5v-3.0M602.77 160.5v3.0M637.02 1440.5v-3.0M637.02 160.5v3.0M665.97 1440.5v-3.0M665.97 160.5v3.0M691.05 1440.5v-3.0M691.05 160.5v3.0M713.17 1440.5v-3.0M713.17 160.5v3.0M863.14 1440.5v-3.0M863.14 160.5v3.0M939.29 1440.5v-3.0M939.29 160.5v3.0M993.32 1440.5v-3.0M993.32 160.5v3.0M1035.23 1440.5v-3.0M1035.23 160.5v3.0M1069.47 1440.5v-3.0M1069.47 160.5v3.0M1098.42 1440.5v-3.0M1098.42 160.5v3.0M1123.50 1440.5v-3.0M1123.50 160.5v3.0M1145.62 1440.5v-3.0M1145.62 160.5v3.0M1295.59 1440.5v-3.0M1295.59 160.5v3.0M1371.74 1440.5v-3.0M1371.74 160.5v3.0M1425.77 1440.5v-3.0M1425.77 160.5v3.0M1467.68 1440.5v-3.0M1467.68 160.5v3.0M1501.92 1440.5v-3.0M1501.92 160.5v3.0M1530.88 1440.5v-3.0M1530.88 160.5v3.0M1555.95 1440.5v-3.0M1555.95 160.5v3.0M1578.08 1440.5v-3.0M1578.08 160.5v3.0M1728.05 1440.5v-3.0M1728.05 160.5v3.0M1804.20 1440.5v-3.0M1804.20 160.5v3.0M1858.23 1440.5v-3.0M1858.23 160.5v3.0M1900.14 1440.5v-3.0M1900.14 160.5v3.0M1934.38 1440.5v-3.0M1934.38 160.5v3.0M1963.33 1440.5v-3.0M1963.33 160.5v3.0M1988.41 1440.5v-3.0M1988.41 160.5v3.0M2010.53 1440.5v-3.0M2010.53 160.5v3.0M2160.50 1440.5v-3.0M2160.50 160.5v3.0M300.5 1344.17h3.0M2160.5 1344.17h-3.0M300.5 1287.82h3.0M2160.5 1287.82h-3.0M300.5 1247.84h3.0M2160.5 1247.84h-3.0M300.5 1216.83h3.0M2160.5 1216.83h-3.0M300.5 1191.49h3.0M2160.5 1191.49h-3.0M300.5 1170.07h3.0M2160.5 1170.07h-3.0M300.5 1151.51h3.0M2160.5 1151.51h-3.0M300.5 1135.14h3.0M2160.5 1135.14h-3.0M300.5 1024.17h3.0M2160.5 1024.17h-3.0M300.5 967.82h3.0M2160.5 967.82h-3.0M300.5 927.84h3.0M2160.5 927.84h-3.0M300.5 896.83h3.0M2160.5 896.83h-3.0M300.5 871.49h3.0M2160.5 871.49h-3.0M300.5 850.07h3.0M2160.5 850.07h-3.0M300.5 831.51h3.0M2160.5 831.51h-3.0M300.5 815.14h3.0M2160.5 815.14h-3.0M300.5 704.17h3.0M2160.5 704.17h-3.0M300.5 647.82h3.0M2160.5 647.82h-3.0M300.5 607.84h3.0M2160.5 607.84h-3.0M300.5 576.83h3.0M2160.5 576.83h-3.0M300.5 551.49h3.0M2160.5 551.49h-3.0M300.5 530.07h3.0M2160.5 530.07h-3.0M300.5 511.51h3.0M2160.5 511.51h-3.0M300.5 495.14h3.0M2160.5 495.14h-3.0M300.5 384.17h3.0M2160.5 384.17h-3.0M300.5 327.82h3.0M2160.5 327.82h-3.0M300.5 287.84h3.0M2160.5 287.84h-3.0M300.5 256.83h3.0M2160.5 256.83h-3.0M300.5 231.49h3.0M2160.5 231.49h-3.0M300.5 210.07h3.0M2160.5 210.07h-3.0M300.5 191.51h3.0M2160.5 191.51h-3.0M300.5 175.14h3.0M2160.5 175.14h-3.0" fill="none" stroke="#000" stroke-width="1.2"/>
<rect x="300.7" y="160.4" width="1859.9" height="1280.0" fill="none" stroke="#000" stroke-width="1.8"/>
<rect x="1804.6" y="174.1" width="341.9" height="306.9" fill="#fff" stroke="#000" stroke-width="1.6"/>
<path d="M1822 196.9H1865" stroke="#0000ff" stroke-width="4.17" fill="none"/>
<text x="1890.48" y="206.90" font-size="28.71" textLength="245.30" lengthAdjust="spacingAndGlyphs">HAM2_CPSINF_H1</text>
<path d="M1822 239.9H1865" stroke="#008000" stroke-width="4.17" fill="none"/>
<text x="1890.48" y="249.90" font-size="28.71" textLength="245.30" lengthAdjust="spacingAndGlyphs">HAM2_CPSINF_H2</text>
<path d="M1822 282.9H1865" stroke="#ff0000" stroke-width="4.17" fill="none"/>
<text x="1890.48" y="292.90" font-size="28.71" textLength="245.30" lengthAdjust="spacingAndGlyphs">HAM2_CPSINF_H3</text>
<path d="M1822 325.9H1865" stroke="#00bfbf" stroke-width="4.17" fill="none"/>
<text x="1890.48" y="335.90" font-size="28.71" textLength="243.12" lengthAdjust="spacingAndGlyphs">HAM2_CPSINF_V1</text>
<path d="M1822 368.9H1865" stroke="#bf00bf" stroke-width="4.17" fill="none"/>
<text x="1890.48" y="378.90" font-size="28.71" textLength="243.12" lengthAdjust="spacingAndGlyphs">HAM2_CPSINF_V2</text>
<path d="M1822 411.9H1865" stroke="#bfbf00" stroke-width="4.17" fill="none"/>
<text x="1890.49" y="421.90" font-size="28.71" textLength="242.84" lengthAdjust="spacingAndGlyphs">HAM2_CPSINF_V3</text>
<path d="M1822 454.9H1865" stroke="#000000" stroke-width="4.17" fill="none"/>
<text x="1893.80" y="464.90" font-size="28.71" textLength="220.56" lengthAdjust="spacingAndGlyphs">ADE 1mm noise</text>
<text x="1032.86" y="59.00" font-size="37.00" textLength="335.91" lengthAdjust="spacingAndGlyphs">HAM2 CPS Spectra</text>
<text x="946.37" y="99.20" font-size="37.00" textLength="520.41" lengthAdjust="spacingAndGlyphs">1210582800 to 1210583400</text>
<text x="1176.13" y="1494.85" font-size="25.66" textLength="110.07" lengthAdjust="spacingAndGlyphs">Freq (hz)</text>
<g transform="translate(240.7 840.0) rotate(-90)"><text x="-2.06" y="0.00" font-size="25.66" textLength="81.56" lengthAdjust="spacingAndGlyphs">m/rthz</text></g>
<text x="284.28" y="1463.70" font-size="18.29" textLength="20.45" lengthAdjust="spacingAndGlyphs">10</text><text x="305.66" y="1454.00" font-size="12.29" textLength="10.78" lengthAdjust="spacingAndGlyphs">-2</text>
<text x="716.83" y="1463.70" font-size="18.29" textLength="20.45" lengthAdjust="spacingAndGlyphs">10</text><text x="738.23" y="1454.00" font-size="12.29" textLength="10.56" lengthAdjust="spacingAndGlyphs">-1</text>
<text x="1150.99" y="1463.70" font-size="18.29" textLength="20.45" lengthAdjust="spacingAndGlyphs">10</text><text x="1172.35" y="1454.00" font-size="12.29" textLength="7.07" lengthAdjust="spacingAndGlyphs">0</text>
<text x="1584.19" y="1463.70" font-size="18.29" textLength="20.45" lengthAdjust="spacingAndGlyphs">10</text><text x="1605.21" y="1454.00" font-size="12.29" textLength="5.95" lengthAdjust="spacingAndGlyphs">1</text>
<text x="2015.90" y="1463.70" font-size="18.29" textLength="20.45" lengthAdjust="spacingAndGlyphs">10</text><text x="2037.11" y="1454.00" font-size="12.29" textLength="7.38" lengthAdjust="spacingAndGlyphs">2</text>
<text x="261.55" y="166.90" font-size="18.29" textLength="20.22" lengthAdjust="spacingAndGlyphs">10</text><text x="282.49" y="156.90" font-size="12.29" textLength="11.34" lengthAdjust="spacingAndGlyphs">-7</text>
<text x="261.55" y="486.90" font-size="18.29" textLength="20.22" lengthAdjust="spacingAndGlyphs">10</text><text x="282.49" y="476.90" font-size="12.29" textLength="11.34" lengthAdjust="spacingAndGlyphs">-8</text>
<text x="261.15" y="806.90" font-size="18.29" textLength="20.22" lengthAdjust="spacingAndGlyphs">10</text><text x="282.07" y="796.90" font-size="12.29" textLength="11.78" lengthAdjust="spacingAndGlyphs">-9</text>
<text x="254.15" y="1126.90" font-size="18.29" textLength="20.22" lengthAdjust="spacingAndGlyphs">10</text><text x="275.09" y="1116.90" font-size="12.29" textLength="18.57" lengthAdjust="spacingAndGlyphs">-10</text>
<text x="254.75" y="1446.90" font-size="18.29" textLength="20.22" lengthAdjust="spacingAndGlyphs">10</text><text x="275.67" y="1436.90" font-size="12.29" textLength="18.21" lengthAdjust="spacingAndGlyphs">-11</text>
</svg>
</body></html>
